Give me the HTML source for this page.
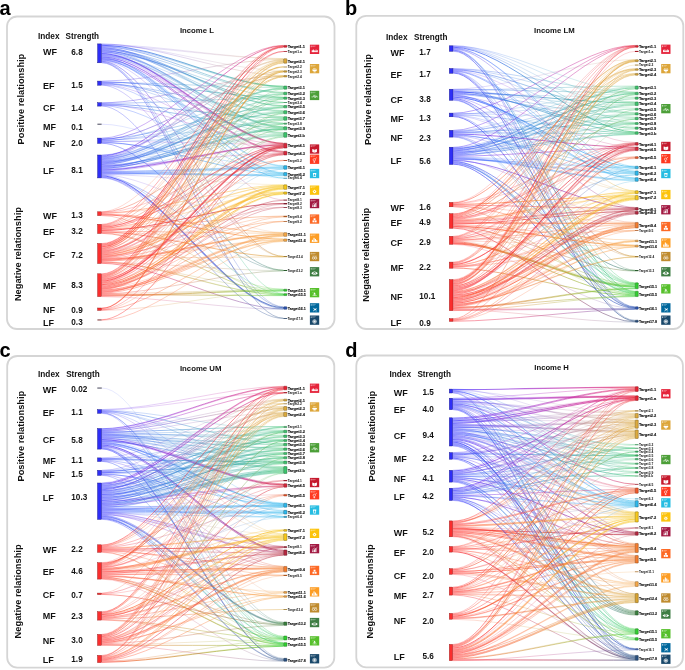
<!DOCTYPE html>
<html><head><meta charset="utf-8"><style>
html,body{margin:0;padding:0;background:#fff;}
svg{display:block;font-family:"Liberation Sans", sans-serif;will-change:transform;}
</style></head><body>
<svg width="685" height="670" viewBox="0 0 685 670">
<rect width="685" height="670" fill="#fff"/>
<rect x="7" y="16.5" width="327.5" height="312.5" rx="10" ry="10" fill="none" stroke="#d5d5d5" stroke-width="1.8"/><text x="-0.5" y="15.2" font-size="20" font-weight="bold" fill="#000">a</text><text x="179.9" y="32.6" font-size="7.7" font-weight="bold" fill="#111" textLength="34.1" lengthAdjust="spacingAndGlyphs">Income L</text><text x="37.9" y="39.2" font-size="8.8" font-weight="bold" fill="#111" textLength="21.6" lengthAdjust="spacingAndGlyphs">Index</text><text x="65.6" y="39.3" font-size="8.8" font-weight="bold" fill="#111" textLength="33.5" lengthAdjust="spacingAndGlyphs">Strength</text><text transform="translate(24 144.4) rotate(-90)" font-size="9.4" font-weight="bold" fill="#111" textLength="90.7" lengthAdjust="spacingAndGlyphs">Positive relationship</text><text transform="translate(21 301.1) rotate(-90)" font-size="9.4" font-weight="bold" fill="#111" textLength="94" lengthAdjust="spacingAndGlyphs">Negative relationship</text><defs><linearGradient id="gan1" gradientUnits="userSpaceOnUse" x1="101.6" y1="0" x2="283.4" y2="0"><stop offset="0" stop-color="#ff2c2c"/><stop offset="0.12" stop-color="#fd2b2d"/><stop offset="0.25" stop-color="#fa292d"/><stop offset="0.38" stop-color="#f7282e"/><stop offset="0.5" stop-color="#f5262e"/><stop offset="0.62" stop-color="#f2252f"/><stop offset="0.75" stop-color="#ef232f"/><stop offset="0.88" stop-color="#ed2230"/><stop offset="1" stop-color="#ea2030"/></linearGradient><linearGradient id="gan11" gradientUnits="userSpaceOnUse" x1="101.6" y1="0" x2="283.4" y2="0"><stop offset="0" stop-color="#ff2c2c"/><stop offset="0.12" stop-color="#fe4b31"/><stop offset="0.25" stop-color="#fd6035"/><stop offset="0.38" stop-color="#fc7038"/><stop offset="0.5" stop-color="#fb7e3c"/><stop offset="0.62" stop-color="#f98a3f"/><stop offset="0.75" stop-color="#f89542"/><stop offset="0.88" stop-color="#f79f45"/><stop offset="1" stop-color="#f6a848"/></linearGradient><linearGradient id="gan12" gradientUnits="userSpaceOnUse" x1="101.6" y1="0" x2="283.4" y2="0"><stop offset="0" stop-color="#ff2c2c"/><stop offset="0.12" stop-color="#fa492d"/><stop offset="0.25" stop-color="#f65d2d"/><stop offset="0.38" stop-color="#f16c2e"/><stop offset="0.5" stop-color="#ec7a2e"/><stop offset="0.62" stop-color="#e7852f"/><stop offset="0.75" stop-color="#e1902f"/><stop offset="0.88" stop-color="#dc9930"/><stop offset="1" stop-color="#d6a230"/></linearGradient><linearGradient id="gan13" gradientUnits="userSpaceOnUse" x1="101.6" y1="0" x2="283.4" y2="0"><stop offset="0" stop-color="#ff2c2c"/><stop offset="0.12" stop-color="#f13f2f"/><stop offset="0.25" stop-color="#e24c31"/><stop offset="0.38" stop-color="#d15834"/><stop offset="0.5" stop-color="#bf6136"/><stop offset="0.62" stop-color="#aa6a38"/><stop offset="0.75" stop-color="#91723a"/><stop offset="0.88" stop-color="#70793c"/><stop offset="1" stop-color="#3a803e"/></linearGradient><linearGradient id="gan15" gradientUnits="userSpaceOnUse" x1="101.6" y1="0" x2="283.4" y2="0"><stop offset="0" stop-color="#ff2c2c"/><stop offset="0.12" stop-color="#f1592d"/><stop offset="0.25" stop-color="#e2752d"/><stop offset="0.38" stop-color="#d18a2e"/><stop offset="0.5" stop-color="#be9b2e"/><stop offset="0.62" stop-color="#a8aa2f"/><stop offset="0.75" stop-color="#8eb82f"/><stop offset="0.88" stop-color="#6cc430"/><stop offset="1" stop-color="#30d030"/></linearGradient><linearGradient id="gan16" gradientUnits="userSpaceOnUse" x1="101.6" y1="0" x2="283.4" y2="0"><stop offset="0" stop-color="#ff2c2c"/><stop offset="0.12" stop-color="#f1334f"/><stop offset="0.25" stop-color="#e23a66"/><stop offset="0.38" stop-color="#d14078"/><stop offset="0.5" stop-color="#be4587"/><stop offset="0.62" stop-color="#a84a94"/><stop offset="0.75" stop-color="#8e4e9f"/><stop offset="0.88" stop-color="#6c52aa"/><stop offset="1" stop-color="#2e56b4"/></linearGradient><linearGradient id="gan2" gradientUnits="userSpaceOnUse" x1="101.6" y1="0" x2="283.4" y2="0"><stop offset="0" stop-color="#ff2c2c"/><stop offset="0.12" stop-color="#fb4c2e"/><stop offset="0.25" stop-color="#f76131"/><stop offset="0.38" stop-color="#f37133"/><stop offset="0.5" stop-color="#ee7f35"/><stop offset="0.62" stop-color="#ea8c37"/><stop offset="0.75" stop-color="#e59738"/><stop offset="0.88" stop-color="#e1a13a"/><stop offset="1" stop-color="#dcaa3c"/></linearGradient><linearGradient id="gan3" gradientUnits="userSpaceOnUse" x1="101.6" y1="0" x2="283.4" y2="0"><stop offset="0" stop-color="#ff2c2c"/><stop offset="0.12" stop-color="#f15539"/><stop offset="0.25" stop-color="#e26e43"/><stop offset="0.38" stop-color="#d2824c"/><stop offset="0.5" stop-color="#bf9253"/><stop offset="0.62" stop-color="#aaa15a"/><stop offset="0.75" stop-color="#91ad61"/><stop offset="0.88" stop-color="#71b967"/><stop offset="1" stop-color="#3cc46c"/></linearGradient><linearGradient id="gan4" gradientUnits="userSpaceOnUse" x1="101.6" y1="0" x2="283.4" y2="0"><stop offset="0" stop-color="#ff2c2c"/><stop offset="0.12" stop-color="#fb2c2e"/><stop offset="0.25" stop-color="#f62b31"/><stop offset="0.38" stop-color="#f12b33"/><stop offset="0.5" stop-color="#ed2a35"/><stop offset="0.62" stop-color="#e82a37"/><stop offset="0.75" stop-color="#e32938"/><stop offset="0.88" stop-color="#dd293a"/><stop offset="1" stop-color="#d8283c"/></linearGradient><linearGradient id="gan5" gradientUnits="userSpaceOnUse" x1="101.6" y1="0" x2="283.4" y2="0"><stop offset="0" stop-color="#ff2c2c"/><stop offset="0.12" stop-color="#fd342c"/><stop offset="0.25" stop-color="#fb3b2c"/><stop offset="0.38" stop-color="#fa412b"/><stop offset="0.5" stop-color="#f8462b"/><stop offset="0.62" stop-color="#f64b2b"/><stop offset="0.75" stop-color="#f4502b"/><stop offset="0.88" stop-color="#f2542a"/><stop offset="1" stop-color="#f0582a"/></linearGradient><linearGradient id="gan6" gradientUnits="userSpaceOnUse" x1="101.6" y1="0" x2="283.4" y2="0"><stop offset="0" stop-color="#ff2c2c"/><stop offset="0.12" stop-color="#f15164"/><stop offset="0.25" stop-color="#e16883"/><stop offset="0.38" stop-color="#d17a9c"/><stop offset="0.5" stop-color="#be8ab0"/><stop offset="0.62" stop-color="#a897c1"/><stop offset="0.75" stop-color="#8ea3d1"/><stop offset="0.88" stop-color="#6baedf"/><stop offset="1" stop-color="#2cb8ec"/></linearGradient><linearGradient id="gan7" gradientUnits="userSpaceOnUse" x1="101.6" y1="0" x2="283.4" y2="0"><stop offset="0" stop-color="#ff2c2c"/><stop offset="0.12" stop-color="#fe572a"/><stop offset="0.25" stop-color="#fd7029"/><stop offset="0.38" stop-color="#fc8427"/><stop offset="0.5" stop-color="#fb9525"/><stop offset="0.62" stop-color="#f9a423"/><stop offset="0.75" stop-color="#f8b121"/><stop offset="0.88" stop-color="#f7bd1e"/><stop offset="1" stop-color="#f6c81c"/></linearGradient><linearGradient id="gan8" gradientUnits="userSpaceOnUse" x1="101.6" y1="0" x2="283.4" y2="0"><stop offset="0" stop-color="#ff2c2c"/><stop offset="0.12" stop-color="#f72c2f"/><stop offset="0.25" stop-color="#ef2b32"/><stop offset="0.38" stop-color="#e72b35"/><stop offset="0.5" stop-color="#de2a37"/><stop offset="0.62" stop-color="#d42a39"/><stop offset="0.75" stop-color="#ca293c"/><stop offset="0.88" stop-color="#c0293e"/><stop offset="1" stop-color="#b42840"/></linearGradient><linearGradient id="gan9" gradientUnits="userSpaceOnUse" x1="101.6" y1="0" x2="283.4" y2="0"><stop offset="0" stop-color="#ff2c2c"/><stop offset="0.12" stop-color="#fe3d2c"/><stop offset="0.25" stop-color="#fc4a2c"/><stop offset="0.38" stop-color="#fb552c"/><stop offset="0.5" stop-color="#fa5f2c"/><stop offset="0.62" stop-color="#f8672c"/><stop offset="0.75" stop-color="#f76f2c"/><stop offset="0.88" stop-color="#f5752c"/><stop offset="1" stop-color="#f47c2c"/></linearGradient><linearGradient id="gap1" gradientUnits="userSpaceOnUse" x1="101.6" y1="0" x2="283.4" y2="0"><stop offset="0" stop-color="#3434ff"/><stop offset="0.12" stop-color="#6632f1"/><stop offset="0.25" stop-color="#8430e2"/><stop offset="0.38" stop-color="#9b2ed1"/><stop offset="0.5" stop-color="#af2bbe"/><stop offset="0.62" stop-color="#c029a8"/><stop offset="0.75" stop-color="#cf268e"/><stop offset="0.88" stop-color="#dd236c"/><stop offset="1" stop-color="#ea2030"/></linearGradient><linearGradient id="gap11" gradientUnits="userSpaceOnUse" x1="101.6" y1="0" x2="283.4" y2="0"><stop offset="0" stop-color="#3434ff"/><stop offset="0.12" stop-color="#6a4ff1"/><stop offset="0.25" stop-color="#8a63e3"/><stop offset="0.38" stop-color="#a372d3"/><stop offset="0.5" stop-color="#b87fc1"/><stop offset="0.62" stop-color="#ca8bad"/><stop offset="0.75" stop-color="#da9595"/><stop offset="0.88" stop-color="#e89f76"/><stop offset="1" stop-color="#f6a848"/></linearGradient><linearGradient id="gap12" gradientUnits="userSpaceOnUse" x1="101.6" y1="0" x2="283.4" y2="0"><stop offset="0" stop-color="#3434ff"/><stop offset="0.12" stop-color="#5f4ef1"/><stop offset="0.25" stop-color="#7a60e2"/><stop offset="0.38" stop-color="#8f6ed1"/><stop offset="0.5" stop-color="#a07bbe"/><stop offset="0.62" stop-color="#b086a8"/><stop offset="0.75" stop-color="#be908e"/><stop offset="0.88" stop-color="#ca996c"/><stop offset="1" stop-color="#d6a230"/></linearGradient><linearGradient id="gap13" gradientUnits="userSpaceOnUse" x1="101.6" y1="0" x2="283.4" y2="0"><stop offset="0" stop-color="#3434ff"/><stop offset="0.12" stop-color="#3544f1"/><stop offset="0.25" stop-color="#3650e2"/><stop offset="0.38" stop-color="#365ad2"/><stop offset="0.5" stop-color="#3763c0"/><stop offset="0.62" stop-color="#386bab"/><stop offset="0.75" stop-color="#397392"/><stop offset="0.88" stop-color="#397a72"/><stop offset="1" stop-color="#3a803e"/></linearGradient><linearGradient id="gap15" gradientUnits="userSpaceOnUse" x1="101.6" y1="0" x2="283.4" y2="0"><stop offset="0" stop-color="#3434ff"/><stop offset="0.12" stop-color="#345df1"/><stop offset="0.25" stop-color="#3377e2"/><stop offset="0.38" stop-color="#338bd1"/><stop offset="0.5" stop-color="#329cbe"/><stop offset="0.62" stop-color="#32aba8"/><stop offset="0.75" stop-color="#31b88e"/><stop offset="0.88" stop-color="#31c56c"/><stop offset="1" stop-color="#30d030"/></linearGradient><linearGradient id="gap16" gradientUnits="userSpaceOnUse" x1="101.6" y1="0" x2="283.4" y2="0"><stop offset="0" stop-color="#3434ff"/><stop offset="0.12" stop-color="#333af7"/><stop offset="0.25" stop-color="#333fef"/><stop offset="0.38" stop-color="#3243e7"/><stop offset="0.5" stop-color="#3147de"/><stop offset="0.62" stop-color="#304bd4"/><stop offset="0.75" stop-color="#304fca"/><stop offset="0.88" stop-color="#2f53c0"/><stop offset="1" stop-color="#2e56b4"/></linearGradient><linearGradient id="gap17" gradientUnits="userSpaceOnUse" x1="101.6" y1="0" x2="283.4" y2="0"><stop offset="0" stop-color="#3434ff"/><stop offset="0.12" stop-color="#3338f4"/><stop offset="0.25" stop-color="#323ce8"/><stop offset="0.38" stop-color="#3140db"/><stop offset="0.5" stop-color="#2f44cd"/><stop offset="0.62" stop-color="#2e47bd"/><stop offset="0.75" stop-color="#2d4aac"/><stop offset="0.88" stop-color="#2b4d98"/><stop offset="1" stop-color="#2a5080"/></linearGradient><linearGradient id="gap2" gradientUnits="userSpaceOnUse" x1="101.6" y1="0" x2="283.4" y2="0"><stop offset="0" stop-color="#3434ff"/><stop offset="0.12" stop-color="#6150f1"/><stop offset="0.25" stop-color="#7d64e2"/><stop offset="0.38" stop-color="#9373d2"/><stop offset="0.5" stop-color="#a581bf"/><stop offset="0.62" stop-color="#b58caa"/><stop offset="0.75" stop-color="#c39791"/><stop offset="0.88" stop-color="#d0a171"/><stop offset="1" stop-color="#dcaa3c"/></linearGradient><linearGradient id="gap3" gradientUnits="userSpaceOnUse" x1="101.6" y1="0" x2="283.4" y2="0"><stop offset="0" stop-color="#3434ff"/><stop offset="0.12" stop-color="#3559f3"/><stop offset="0.25" stop-color="#3671e6"/><stop offset="0.38" stop-color="#3783d7"/><stop offset="0.5" stop-color="#3893c8"/><stop offset="0.62" stop-color="#39a1b6"/><stop offset="0.75" stop-color="#3aaea2"/><stop offset="0.88" stop-color="#3bb98b"/><stop offset="1" stop-color="#3cc46c"/></linearGradient><linearGradient id="gap4" gradientUnits="userSpaceOnUse" x1="101.6" y1="0" x2="283.4" y2="0"><stop offset="0" stop-color="#3434ff"/><stop offset="0.12" stop-color="#6033f1"/><stop offset="0.25" stop-color="#7b31e2"/><stop offset="0.38" stop-color="#9030d2"/><stop offset="0.5" stop-color="#a22ebf"/><stop offset="0.62" stop-color="#b12daa"/><stop offset="0.75" stop-color="#bf2b91"/><stop offset="0.88" stop-color="#cc2a71"/><stop offset="1" stop-color="#d8283c"/></linearGradient><linearGradient id="gap6" gradientUnits="userSpaceOnUse" x1="101.6" y1="0" x2="283.4" y2="0"><stop offset="0" stop-color="#3434ff"/><stop offset="0.12" stop-color="#3355fd"/><stop offset="0.25" stop-color="#326bfa"/><stop offset="0.38" stop-color="#317cf8"/><stop offset="0.5" stop-color="#308bf6"/><stop offset="0.62" stop-color="#2f98f3"/><stop offset="0.75" stop-color="#2ea3f1"/><stop offset="0.88" stop-color="#2daeee"/><stop offset="1" stop-color="#2cb8ec"/></linearGradient><linearGradient id="gap7" gradientUnits="userSpaceOnUse" x1="101.6" y1="0" x2="283.4" y2="0"><stop offset="0" stop-color="#3434ff"/><stop offset="0.12" stop-color="#6a5af1"/><stop offset="0.25" stop-color="#8a73e1"/><stop offset="0.38" stop-color="#a386d0"/><stop offset="0.5" stop-color="#b896bc"/><stop offset="0.62" stop-color="#caa5a6"/><stop offset="0.75" stop-color="#dab18b"/><stop offset="0.88" stop-color="#e8bd67"/><stop offset="1" stop-color="#f6c81c"/></linearGradient><linearGradient id="gap8" gradientUnits="userSpaceOnUse" x1="101.6" y1="0" x2="283.4" y2="0"><stop offset="0" stop-color="#3434ff"/><stop offset="0.12" stop-color="#5333f1"/><stop offset="0.25" stop-color="#6931e2"/><stop offset="0.38" stop-color="#7930d2"/><stop offset="0.5" stop-color="#882ec0"/><stop offset="0.62" stop-color="#942dab"/><stop offset="0.75" stop-color="#a02b92"/><stop offset="0.88" stop-color="#aa2a73"/><stop offset="1" stop-color="#b42840"/></linearGradient></defs><g fill="none" stroke-opacity="0.7"><path d="M101.6 53.59C156.14 53.59 228.86 143.39 283.4 143.39" stroke="url(#gap4)" stroke-width="1.21"/><path d="M101.6 56.79C156.14 56.79 228.86 151.41 283.4 151.41" stroke="url(#gap4)" stroke-width="0.8"/><path d="M101.6 176C156.14 176 228.86 307.71 283.4 307.71" stroke="url(#gap16)" stroke-width="1.08"/><path d="M101.6 244.26C156.14 244.26 228.86 46.96 283.4 46.96" stroke="url(#gan1)" stroke-width="0.73"/><path d="M101.6 296.05C156.14 296.05 228.86 290.79 283.4 290.79" stroke="url(#gan15)" stroke-width="0.76"/><path d="M101.6 45.8C156.14 45.8 228.86 58.81 283.4 58.81" stroke="url(#gap2)" stroke-width="0.3"/><path d="M101.6 44.55C156.14 44.55 228.86 58.59 283.4 58.59" stroke="url(#gap2)" stroke-width="0.3"/><path d="M101.6 44.32C156.14 44.32 228.86 70.58 283.4 70.58" stroke="url(#gap2)" stroke-width="0.3"/><path d="M101.6 43.93C156.14 43.93 228.86 75.46 283.4 75.46" stroke="url(#gap2)" stroke-width="0.44"/><path d="M101.6 45.17C156.14 45.17 228.86 86.33 283.4 86.33" stroke="url(#gap3)" stroke-width="1.01"/><path d="M101.6 46.14C156.14 46.14 228.86 87.1 283.4 87.1" stroke="url(#gap3)" stroke-width="0.47"/><path d="M101.6 49.44C156.14 49.44 228.86 93.04 283.4 93.04" stroke="url(#gap3)" stroke-width="0.45"/><path d="M101.6 46.72C156.14 46.72 228.86 92.38 283.4 92.38" stroke="url(#gap3)" stroke-width="0.63"/><path d="M101.6 52.32C156.14 52.32 228.86 97.03 283.4 97.03" stroke="url(#gap3)" stroke-width="0.45"/><path d="M101.6 50.95C156.14 50.95 228.86 102.38 283.4 102.38" stroke="url(#gap3)" stroke-width="0.79"/><path d="M101.6 48.99C156.14 48.99 228.86 106.26 283.4 106.26" stroke="url(#gap3)" stroke-width="0.41"/><path d="M101.6 47.93C156.14 47.93 228.86 105.67 283.4 105.67" stroke="url(#gap3)" stroke-width="0.73"/><path d="M101.6 50.32C156.14 50.32 228.86 110.63 283.4 110.63" stroke="url(#gap3)" stroke-width="0.41"/><path d="M101.6 54.4C156.14 54.4 228.86 111.06 283.4 111.06" stroke="url(#gap3)" stroke-width="0.33"/><path d="M101.6 48.54C156.14 48.54 228.86 117.29 283.4 117.29" stroke="url(#gap3)" stroke-width="0.44"/><path d="M101.6 47.3C156.14 47.3 228.86 116.7 283.4 116.7" stroke="url(#gap3)" stroke-width="0.46"/><path d="M101.6 55.44C156.14 55.44 228.86 123.04 283.4 123.04" stroke="url(#gap3)" stroke-width="0.35"/><path d="M101.6 54.78C156.14 54.78 228.86 127.57 283.4 127.57" stroke="url(#gap3)" stroke-width="0.41"/><path d="M101.6 51.72C156.14 51.72 228.86 126.79 283.4 126.79" stroke="url(#gap3)" stroke-width="0.68"/><path d="M101.6 52.76C156.14 52.76 228.86 127.24 283.4 127.24" stroke="url(#gap3)" stroke-width="0.37"/><path d="M101.6 49.89C156.14 49.89 228.86 132.6 283.4 132.6" stroke="url(#gap3)" stroke-width="0.41"/><path d="M101.6 55.13C156.14 55.13 228.86 133.09 283.4 133.09" stroke="url(#gap3)" stroke-width="0.3"/><path d="M101.6 56.18C156.14 56.18 228.86 133.53 283.4 133.53" stroke="url(#gap3)" stroke-width="0.34"/><path d="M101.6 55.81C156.14 55.81 228.86 143.9 283.4 143.9" stroke="url(#gap4)" stroke-width="0.36"/><path d="M101.6 57.32C156.14 57.32 228.86 144.09 283.4 144.09" stroke="url(#gap4)" stroke-width="0.3"/><path d="M101.6 58.6C156.14 58.6 228.86 152.19 283.4 152.19" stroke="url(#gap4)" stroke-width="0.72"/><path d="M101.6 58.12C156.14 58.12 228.86 165.54 283.4 165.54" stroke="url(#gap6)" stroke-width="0.3"/><path d="M101.6 59.1C156.14 59.1 228.86 165.84 283.4 165.84" stroke="url(#gap6)" stroke-width="0.3"/><path d="M101.6 60.48C156.14 60.48 228.86 166.23 283.4 166.23" stroke="url(#gap6)" stroke-width="0.34"/><path d="M101.6 59.44C156.14 59.44 228.86 173.13 283.4 173.13" stroke="url(#gap6)" stroke-width="0.4"/><path d="M101.6 57.72C156.14 57.72 228.86 172.61 283.4 172.61" stroke="url(#gap6)" stroke-width="0.55"/><path d="M101.6 59.98C156.14 59.98 228.86 178 283.4 178" stroke="url(#gap6)" stroke-width="0.62"/><path d="M101.6 60.8C156.14 60.8 228.86 199.77 283.4 199.77" stroke="url(#gap8)" stroke-width="0.3"/><path d="M101.6 61.3C156.14 61.3 228.86 256.29 283.4 256.29" stroke="url(#gap12)" stroke-width="0.7"/><path d="M101.6 61.88C156.14 61.88 228.86 293.57 283.4 293.57" stroke="url(#gap15)" stroke-width="0.4"/><path d="M101.6 62.28C156.14 62.28 228.86 306.77 283.4 306.77" stroke="url(#gap16)" stroke-width="0.35"/><path d="M101.6 62.73C156.14 62.73 228.86 318.16 283.4 318.16" stroke="url(#gap17)" stroke-width="0.51"/><path d="M101.6 81.17C156.14 81.17 228.86 59.14 283.4 59.14" stroke="url(#gap2)" stroke-width="0.51"/><path d="M101.6 82.48C156.14 82.48 228.86 87.51 283.4 87.51" stroke="url(#gap3)" stroke-width="0.44"/><path d="M101.6 81.84C156.14 81.84 228.86 97.54 283.4 97.54" stroke="url(#gap3)" stroke-width="0.77"/><path d="M101.6 83.95C156.14 83.95 228.86 111.44 283.4 111.44" stroke="url(#gap3)" stroke-width="0.48"/><path d="M101.6 83C156.14 83 228.86 123.33 283.4 123.33" stroke="url(#gap3)" stroke-width="0.56"/><path d="M101.6 83.5C156.14 83.5 228.86 133.99 283.4 133.99" stroke="url(#gap3)" stroke-width="0.38"/><path d="M101.6 84.38C156.14 84.38 228.86 152.68 283.4 152.68" stroke="url(#gap4)" stroke-width="0.34"/><path d="M101.6 84.76C156.14 84.76 228.86 173.5 283.4 173.5" stroke="url(#gap6)" stroke-width="0.38"/><path d="M101.6 85.18C156.14 85.18 228.86 256.55 283.4 256.55" stroke="url(#gap12)" stroke-width="0.41"/><path d="M101.6 102.82C156.14 102.82 228.86 75.77 283.4 75.77" stroke="url(#gap2)" stroke-width="0.61"/><path d="M101.6 103.4C156.14 103.4 228.86 97.98 283.4 97.98" stroke="url(#gap3)" stroke-width="0.49"/><path d="M101.6 104.02C156.14 104.02 228.86 117.87 283.4 117.87" stroke="url(#gap3)" stroke-width="0.7"/><path d="M101.6 105.07C156.14 105.07 228.86 127.92 283.4 127.92" stroke="url(#gap3)" stroke-width="0.63"/><path d="M101.6 104.56C156.14 104.56 228.86 144.22 283.4 144.22" stroke="url(#gap4)" stroke-width="0.34"/><path d="M101.6 105.62C156.14 105.62 228.86 173.8 283.4 173.8" stroke="url(#gap6)" stroke-width="0.42"/><path d="M101.6 106.07C156.14 106.07 228.86 307.08 283.4 307.08" stroke="url(#gap16)" stroke-width="0.43"/><path d="M101.6 124.2C156.14 124.2 228.86 178.3 283.4 178.3" stroke="url(#gap6)" stroke-width="0.57" stroke-opacity="0.25"/><path d="M101.6 138.19C156.14 138.19 228.86 45.36 283.4 45.36" stroke="url(#gap1)" stroke-width="0.54"/><path d="M101.6 139.47C156.14 139.47 228.86 76.15 283.4 76.15" stroke="url(#gap2)" stroke-width="0.84"/><path d="M101.6 140.92C156.14 140.92 228.86 93.49 283.4 93.49" stroke="url(#gap3)" stroke-width="0.38"/><path d="M101.6 138.75C156.14 138.75 228.86 106.68 283.4 106.68" stroke="url(#gap3)" stroke-width="0.53"/><path d="M101.6 140.53C156.14 140.53 228.86 111.79 283.4 111.79" stroke="url(#gap3)" stroke-width="0.36"/><path d="M101.6 140.13C156.14 140.13 228.86 123.62 283.4 123.62" stroke="url(#gap3)" stroke-width="0.41"/><path d="M101.6 141.67C156.14 141.67 228.86 134.42 283.4 134.42" stroke="url(#gap3)" stroke-width="0.4"/><path d="M101.6 141.29C156.14 141.29 228.86 144.37 283.4 144.37" stroke="url(#gap4)" stroke-width="0.31"/><path d="M101.6 142.79C156.14 142.79 228.86 166.65 283.4 166.65" stroke="url(#gap6)" stroke-width="0.35"/><path d="M101.6 142.24C156.14 142.24 228.86 174.25 283.4 174.25" stroke="url(#gap6)" stroke-width="0.69"/><path d="M101.6 143.29C156.14 143.29 228.86 270.16 283.4 270.16" stroke="url(#gap13)" stroke-width="0.59"/><path d="M101.6 155.97C156.14 155.97 228.86 45.81 283.4 45.81" stroke="url(#gap1)" stroke-width="0.84"/><path d="M101.6 156.71C156.14 156.71 228.86 59.68 283.4 59.68" stroke="url(#gap2)" stroke-width="0.55"/><path d="M101.6 157.87C156.14 157.87 228.86 60.25 283.4 60.25" stroke="url(#gap2)" stroke-width="0.46"/><path d="M101.6 155.17C156.14 155.17 228.86 70.85 283.4 70.85" stroke="url(#gap2)" stroke-width="0.7"/><path d="M101.6 157.31C156.14 157.31 228.86 87.97 283.4 87.97" stroke="url(#gap3)" stroke-width="0.6"/><path d="M101.6 159.57C156.14 159.57 228.86 88.85 283.4 88.85" stroke="url(#gap3)" stroke-width="0.5"/><path d="M101.6 158.29C156.14 158.29 228.86 88.43 283.4 88.43" stroke="url(#gap3)" stroke-width="0.36"/><path d="M101.6 159.11C156.14 159.11 228.86 94.35 283.4 94.35" stroke="url(#gap3)" stroke-width="0.38"/><path d="M101.6 158.7C156.14 158.7 228.86 93.9 283.4 93.9" stroke="url(#gap3)" stroke-width="0.41"/><path d="M101.6 163.37C156.14 163.37 228.86 98.65 283.4 98.65" stroke="url(#gap3)" stroke-width="0.3"/><path d="M101.6 160.37C156.14 160.37 228.86 98.33 283.4 98.33" stroke="url(#gap3)" stroke-width="0.39"/><path d="M101.6 162.91C156.14 162.91 228.86 102.68 283.4 102.68" stroke="url(#gap3)" stroke-width="0.59"/><path d="M101.6 163.81C156.14 163.81 228.86 107.15 283.4 107.15" stroke="url(#gap3)" stroke-width="0.55"/><path d="M101.6 164.47C156.14 164.47 228.86 107.76 283.4 107.76" stroke="url(#gap3)" stroke-width="0.72"/><path d="M101.6 161.23C156.14 161.23 228.86 112.51 283.4 112.51" stroke="url(#gap3)" stroke-width="0.44"/><path d="M101.6 160C156.14 160 228.86 112.11 283.4 112.11" stroke="url(#gap3)" stroke-width="0.31"/><path d="M101.6 161.95C156.14 161.95 228.86 112.94 283.4 112.94" stroke="url(#gap3)" stroke-width="0.37"/><path d="M101.6 167.39C156.14 167.39 228.86 119.52 283.4 119.52" stroke="url(#gap3)" stroke-width="0.55"/><path d="M101.6 166.89C156.14 166.89 228.86 118.94 283.4 118.94" stroke="url(#gap3)" stroke-width="0.4"/><path d="M101.6 162.38C156.14 162.38 228.86 118.43 283.4 118.43" stroke="url(#gap3)" stroke-width="0.43"/><path d="M101.6 168.77C156.14 168.77 228.86 123.88 283.4 123.88" stroke="url(#gap3)" stroke-width="0.36"/><path d="M101.6 168.13C156.14 168.13 228.86 129.39 283.4 129.39" stroke="url(#gap3)" stroke-width="0.85"/><path d="M101.6 160.79C156.14 160.79 228.86 128.25 283.4 128.25" stroke="url(#gap3)" stroke-width="0.4"/><path d="M101.6 166.24C156.14 166.24 228.86 128.73 283.4 128.73" stroke="url(#gap3)" stroke-width="0.82"/><path d="M101.6 170.57C156.14 170.57 228.86 136.07 283.4 136.07" stroke="url(#gap3)" stroke-width="0.38"/><path d="M101.6 161.61C156.14 161.61 228.86 134.85 283.4 134.85" stroke="url(#gap3)" stroke-width="0.3"/><path d="M101.6 165.14C156.14 165.14 228.86 135.42 283.4 135.42" stroke="url(#gap3)" stroke-width="0.55"/><path d="M101.6 170.99C156.14 170.99 228.86 145.39 283.4 145.39" stroke="url(#gap4)" stroke-width="0.41"/><path d="M101.6 169.21C156.14 169.21 228.86 144.6 283.4 144.6" stroke="url(#gap4)" stroke-width="0.47"/><path d="M101.6 169.92C156.14 169.92 228.86 145 283.4 145" stroke="url(#gap4)" stroke-width="0.87"/><path d="M101.6 165.62C156.14 165.62 228.86 152.98 283.4 152.98" stroke="url(#gap4)" stroke-width="0.36"/><path d="M101.6 171.39C156.14 171.39 228.86 167.06 283.4 167.06" stroke="url(#gap6)" stroke-width="0.36"/><path d="M101.6 174.18C156.14 174.18 228.86 168.5 283.4 168.5" stroke="url(#gap6)" stroke-width="0.45"/><path d="M101.6 171.69C156.14 171.69 228.86 167.41 283.4 167.41" stroke="url(#gap6)" stroke-width="0.3"/><path d="M101.6 172.56C156.14 172.56 228.86 167.87 283.4 167.87" stroke="url(#gap6)" stroke-width="0.54"/><path d="M101.6 173.65C156.14 173.65 228.86 175.81 283.4 175.81" stroke="url(#gap6)" stroke-width="0.56"/><path d="M101.6 172.03C156.14 172.03 228.86 174.79 283.4 174.79" stroke="url(#gap6)" stroke-width="0.46"/><path d="M101.6 173.1C156.14 173.1 228.86 175.28 283.4 175.28" stroke="url(#gap6)" stroke-width="0.49"/><path d="M101.6 174.57C156.14 174.57 228.86 184.72 283.4 184.72" stroke="url(#gap7)" stroke-width="0.3"/><path d="M101.6 174.86C156.14 174.86 228.86 232.51 283.4 232.51" stroke="url(#gap11)" stroke-width="0.3"/><path d="M101.6 176.81C156.14 176.81 228.86 270.47 283.4 270.47" stroke="url(#gap13)" stroke-width="0.46"/><path d="M101.6 175.22C156.14 175.22 228.86 293.88 283.4 293.88" stroke="url(#gap15)" stroke-width="0.4"/><path d="M101.6 177.33C156.14 177.33 228.86 308.43 283.4 308.43" stroke="url(#gap16)" stroke-width="0.51"/><path d="M101.6 177.85C156.14 177.85 228.86 318.46 283.4 318.46" stroke="url(#gap17)" stroke-width="0.48"/><path d="M101.6 211.72C156.14 211.72 228.86 60.62 283.4 60.62" stroke="url(#gan2)" stroke-width="0.3"/><path d="M101.6 212.16C156.14 212.16 228.86 120.18 283.4 120.18" stroke="url(#gan3)" stroke-width="0.61"/><path d="M101.6 212.66C156.14 212.66 228.86 153.29 283.4 153.29" stroke="url(#gan4)" stroke-width="0.34"/><path d="M101.6 213.14C156.14 213.14 228.86 185.06 283.4 185.06" stroke="url(#gan7)" stroke-width="0.58"/><path d="M101.6 213.59C156.14 213.59 228.86 191.8 283.4 191.8" stroke="url(#gan7)" stroke-width="0.3"/><path d="M101.6 214.07C156.14 214.07 228.86 232.86 283.4 232.86" stroke="url(#gan11)" stroke-width="0.65"/><path d="M101.6 214.9C156.14 214.9 228.86 239.06 283.4 239.06" stroke="url(#gan11)" stroke-width="0.93"/><path d="M101.6 215.6C156.14 215.6 228.86 294.17 283.4 294.17" stroke="url(#gan15)" stroke-width="0.39"/><path d="M101.6 224.37C156.14 224.37 228.86 46.25 283.4 46.25" stroke="url(#gan1)" stroke-width="0.51"/><path d="M101.6 225.2C156.14 225.2 228.86 60.87 283.4 60.87" stroke="url(#gan2)" stroke-width="0.3"/><path d="M101.6 224.84C156.14 224.84 228.86 71.12 283.4 71.12" stroke="url(#gan2)" stroke-width="0.38"/><path d="M101.6 225.6C156.14 225.6 228.86 98.97 283.4 98.97" stroke="url(#gan3)" stroke-width="0.47"/><path d="M101.6 226.14C156.14 226.14 228.86 129.92 283.4 129.92" stroke="url(#gan3)" stroke-width="0.56"/><path d="M101.6 227.29C156.14 227.29 228.86 145.71 283.4 145.71" stroke="url(#gan4)" stroke-width="0.75"/><path d="M101.6 228.51C156.14 228.51 228.86 153.66 283.4 153.66" stroke="url(#gan4)" stroke-width="0.59"/><path d="M101.6 226.66C156.14 226.66 228.86 160.18 283.4 160.18" stroke="url(#gan5)" stroke-width="0.44"/><path d="M101.6 228.93C156.14 228.93 228.86 185.7 283.4 185.7" stroke="url(#gan7)" stroke-width="0.3"/><path d="M101.6 227.94C156.14 227.94 228.86 185.45 283.4 185.45" stroke="url(#gan7)" stroke-width="0.49"/><path d="M101.6 229.82C156.14 229.82 228.86 192.04 283.4 192.04" stroke="url(#gan7)" stroke-width="0.41"/><path d="M101.6 230.53C156.14 230.53 228.86 203.45 283.4 203.45" stroke="url(#gan8)" stroke-width="0.95"/><path d="M101.6 229.32C156.14 229.32 228.86 216.08 283.4 216.08" stroke="url(#gan9)" stroke-width="0.54"/><path d="M101.6 231.29C156.14 231.29 228.86 233.27 283.4 233.27" stroke="url(#gan11)" stroke-width="0.49"/><path d="M101.6 232.5C156.14 232.5 228.86 239.51 283.4 239.51" stroke="url(#gan11)" stroke-width="0.3"/><path d="M101.6 231.96C156.14 231.96 228.86 256.78 283.4 256.78" stroke="url(#gan12)" stroke-width="0.78"/><path d="M101.6 232.81C156.14 232.81 228.86 289.16 283.4 289.16" stroke="url(#gan15)" stroke-width="0.36"/><path d="M101.6 233.35C156.14 233.35 228.86 294.5 283.4 294.5" stroke="url(#gan15)" stroke-width="0.66"/><path d="M101.6 243.59C156.14 243.59 228.86 46.56 283.4 46.56" stroke="url(#gan1)" stroke-width="0.54"/><path d="M101.6 245.78C156.14 245.78 228.86 51.42 283.4 51.42" stroke="url(#gan1)" stroke-width="0.67"/><path d="M101.6 245.03C156.14 245.03 228.86 61.39 283.4 61.39" stroke="url(#gan2)" stroke-width="0.74"/><path d="M101.6 247.53C156.14 247.53 228.86 61.93 283.4 61.93" stroke="url(#gan2)" stroke-width="0.34"/><path d="M101.6 246.74C156.14 246.74 228.86 66.9 283.4 66.9" stroke="url(#gan2)" stroke-width="1.15"/><path d="M101.6 248.78C156.14 248.78 228.86 71.34 283.4 71.34" stroke="url(#gan2)" stroke-width="0.56"/><path d="M101.6 248.1C156.14 248.1 228.86 76.61 283.4 76.61" stroke="url(#gan2)" stroke-width="0.75"/><path d="M101.6 249.81C156.14 249.81 228.86 94.78 283.4 94.78" stroke="url(#gan3)" stroke-width="0.44"/><path d="M101.6 249.33C156.14 249.33 228.86 113.36 283.4 113.36" stroke="url(#gan3)" stroke-width="0.48"/><path d="M101.6 251.44C156.14 251.44 228.86 124.12 283.4 124.12" stroke="url(#gan3)" stroke-width="0.34"/><path d="M101.6 252.18C156.14 252.18 228.86 136.68 283.4 136.68" stroke="url(#gan3)" stroke-width="0.57"/><path d="M101.6 251.01C156.14 251.01 228.86 146.38 283.4 146.38" stroke="url(#gan4)" stroke-width="0.48"/><path d="M101.6 250.23C156.14 250.23 228.86 145.99 283.4 145.99" stroke="url(#gan4)" stroke-width="0.35"/><path d="M101.6 250.58C156.14 250.58 228.86 146.17 283.4 146.17" stroke="url(#gan4)" stroke-width="0.33"/><path d="M101.6 253.08C156.14 253.08 228.86 154.04 283.4 154.04" stroke="url(#gan4)" stroke-width="0.35"/><path d="M101.6 253.99C156.14 253.99 228.86 154.36 283.4 154.36" stroke="url(#gan4)" stroke-width="0.41"/><path d="M101.6 251.75C156.14 251.75 228.86 168.92 283.4 168.92" stroke="url(#gan6)" stroke-width="0.3"/><path d="M101.6 253.52C156.14 253.52 228.86 186.26 283.4 186.26" stroke="url(#gan7)" stroke-width="0.48"/><path d="M101.6 254.88C156.14 254.88 228.86 186.68 283.4 186.68" stroke="url(#gan7)" stroke-width="0.65"/><path d="M101.6 252.69C156.14 252.69 228.86 185.92 283.4 185.92" stroke="url(#gan7)" stroke-width="0.4"/><path d="M101.6 255.43C156.14 255.43 228.86 187.08 283.4 187.08" stroke="url(#gan7)" stroke-width="0.41"/><path d="M101.6 256.98C156.14 256.98 228.86 193.1 283.4 193.1" stroke="url(#gan7)" stroke-width="0.63"/><path d="M101.6 256.34C156.14 256.34 228.86 192.64 283.4 192.64" stroke="url(#gan7)" stroke-width="0.6"/><path d="M101.6 254.37C156.14 254.37 228.86 192.3 283.4 192.3" stroke="url(#gan7)" stroke-width="0.32"/><path d="M101.6 257.82C156.14 257.82 228.86 204.01 283.4 204.01" stroke="url(#gan8)" stroke-width="0.3"/><path d="M101.6 257.51C156.14 257.51 228.86 207.14 283.4 207.14" stroke="url(#gan8)" stroke-width="0.38"/><path d="M101.6 255.84C156.14 255.84 228.86 216.57 283.4 216.57" stroke="url(#gan9)" stroke-width="0.36"/><path d="M101.6 258.58C156.14 258.58 228.86 221.25 283.4 221.25" stroke="url(#gan9)" stroke-width="0.48"/><path d="M101.6 260.89C156.14 260.89 228.86 234.68 283.4 234.68" stroke="url(#gan11)" stroke-width="0.31"/><path d="M101.6 260.31C156.14 260.31 228.86 234.27 283.4 234.27" stroke="url(#gan11)" stroke-width="0.79"/><path d="M101.6 259.52C156.14 259.52 228.86 233.71 283.4 233.71" stroke="url(#gan11)" stroke-width="0.72"/><path d="M101.6 261.3C156.14 261.3 228.86 240.02 283.4 240.02" stroke="url(#gan11)" stroke-width="0.46"/><path d="M101.6 258.99C156.14 258.99 228.86 239.71 283.4 239.71" stroke="url(#gan11)" stroke-width="0.3"/><path d="M101.6 258.13C156.14 258.13 228.86 257.02 283.4 257.02" stroke="url(#gan12)" stroke-width="0.38"/><path d="M101.6 262.46C156.14 262.46 228.86 270.69 283.4 270.69" stroke="url(#gan13)" stroke-width="0.3"/><path d="M101.6 262.77C156.14 262.77 228.86 289.47 283.4 289.47" stroke="url(#gan15)" stroke-width="0.33"/><path d="M101.6 262.07C156.14 262.07 228.86 295.06 283.4 295.06" stroke="url(#gan15)" stroke-width="0.49"/><path d="M101.6 261.68C156.14 261.68 228.86 294.8 283.4 294.8" stroke="url(#gan15)" stroke-width="0.3"/><path d="M101.6 263.32C156.14 263.32 228.86 308.95 283.4 308.95" stroke="url(#gan16)" stroke-width="0.72"/><path d="M101.6 273.88C156.14 273.88 228.86 47.34 283.4 47.34" stroke="url(#gan1)" stroke-width="0.54"/><path d="M101.6 274.3C156.14 274.3 228.86 51.72 283.4 51.72" stroke="url(#gan1)" stroke-width="0.3"/><path d="M101.6 275.44C156.14 275.44 228.86 62.69 283.4 62.69" stroke="url(#gan2)" stroke-width="0.46"/><path d="M101.6 274.63C156.14 274.63 228.86 62.28 283.4 62.28" stroke="url(#gan2)" stroke-width="0.37"/><path d="M101.6 276.43C156.14 276.43 228.86 63.16 283.4 63.16" stroke="url(#gan2)" stroke-width="0.5"/><path d="M101.6 275.92C156.14 275.92 228.86 71.58 283.4 71.58" stroke="url(#gan2)" stroke-width="0.46"/><path d="M101.6 277.02C156.14 277.02 228.86 77.02 283.4 77.02" stroke="url(#gan2)" stroke-width="0.62"/><path d="M101.6 275.01C156.14 275.01 228.86 89.25 283.4 89.25" stroke="url(#gan3)" stroke-width="0.36"/><path d="M101.6 278.05C156.14 278.05 228.86 99.33 283.4 99.33" stroke="url(#gan3)" stroke-width="0.43"/><path d="M101.6 277.59C156.14 277.59 228.86 113.79 283.4 113.79" stroke="url(#gan3)" stroke-width="0.46"/><path d="M101.6 278.42C156.14 278.42 228.86 124.32 283.4 124.32" stroke="url(#gan3)" stroke-width="0.3"/><path d="M101.6 279.78C156.14 279.78 228.86 137.26 283.4 137.26" stroke="url(#gan3)" stroke-width="0.4"/><path d="M101.6 281.05C156.14 281.05 228.86 147.11 283.4 147.11" stroke="url(#gan4)" stroke-width="1.02"/><path d="M101.6 279.23C156.14 279.23 228.86 146.68 283.4 146.68" stroke="url(#gan4)" stroke-width="0.65"/><path d="M101.6 281.84C156.14 281.84 228.86 147.5 283.4 147.5" stroke="url(#gan4)" stroke-width="0.48"/><path d="M101.6 278.72C156.14 278.72 228.86 154.67 283.4 154.67" stroke="url(#gan4)" stroke-width="0.32"/><path d="M101.6 280.26C156.14 280.26 228.86 155 283.4 155" stroke="url(#gan4)" stroke-width="0.5"/><path d="M101.6 282.42C156.14 282.42 228.86 160.63 283.4 160.63" stroke="url(#gan5)" stroke-width="0.62"/><path d="M101.6 283.97C156.14 283.97 228.86 169.28 283.4 169.28" stroke="url(#gan6)" stroke-width="0.42"/><path d="M101.6 283.49C156.14 283.49 228.86 187.75 283.4 187.75" stroke="url(#gan7)" stroke-width="0.5"/><path d="M101.6 288.54C156.14 288.54 228.86 189.07 283.4 189.07" stroke="url(#gan7)" stroke-width="0.56"/><path d="M101.6 287.26C156.14 287.26 228.86 188.65 283.4 188.65" stroke="url(#gan7)" stroke-width="0.6"/><path d="M101.6 282.99C156.14 282.99 228.86 187.4 283.4 187.4" stroke="url(#gan7)" stroke-width="0.45"/><path d="M101.6 286.18C156.14 286.18 228.86 188.18 283.4 188.18" stroke="url(#gan7)" stroke-width="0.68"/><path d="M101.6 289.42C156.14 289.42 228.86 194.2 283.4 194.2" stroke="url(#gan7)" stroke-width="0.55"/><path d="M101.6 284.69C156.14 284.69 228.86 193.67 283.4 193.67" stroke="url(#gan7)" stroke-width="0.94"/><path d="M101.6 285.5C156.14 285.5 228.86 200.27 283.4 200.27" stroke="url(#gan8)" stroke-width="0.6"/><path d="M101.6 288.99C156.14 288.99 228.86 204.26 283.4 204.26" stroke="url(#gan8)" stroke-width="0.3"/><path d="M101.6 287.81C156.14 287.81 228.86 207.44 283.4 207.44" stroke="url(#gan8)" stroke-width="0.45"/><path d="M101.6 286.74C156.14 286.74 228.86 216.99 283.4 216.99" stroke="url(#gan9)" stroke-width="0.39"/><path d="M101.6 292.44C156.14 292.44 228.86 221.55 283.4 221.55" stroke="url(#gan9)" stroke-width="0.51"/><path d="M101.6 290.09C156.14 290.09 228.86 235.19 283.4 235.19" stroke="url(#gan11)" stroke-width="0.72"/><path d="M101.6 291.89C156.14 291.89 228.86 235.88 283.4 235.88" stroke="url(#gan11)" stroke-width="0.54"/><path d="M101.6 288.15C156.14 288.15 228.86 234.86 283.4 234.86" stroke="url(#gan11)" stroke-width="0.3"/><path d="M101.6 291.43C156.14 291.43 228.86 235.57 283.4 235.57" stroke="url(#gan11)" stroke-width="0.33"/><path d="M101.6 293.01C156.14 293.01 228.86 240.99 283.4 240.99" stroke="url(#gan11)" stroke-width="0.57"/><path d="M101.6 290.64C156.14 290.64 228.86 240.33 283.4 240.33" stroke="url(#gan11)" stroke-width="0.33"/><path d="M101.6 291.04C156.14 291.04 228.86 240.61 283.4 240.61" stroke="url(#gan11)" stroke-width="0.42"/><path d="M101.6 293.93C156.14 293.93 228.86 270.88 283.4 270.88" stroke="url(#gan13)" stroke-width="0.42"/><path d="M101.6 295.37C156.14 295.37 228.86 290.2 283.4 290.2" stroke="url(#gan15)" stroke-width="0.54"/><path d="M101.6 293.51C156.14 293.51 228.86 289.79 283.4 289.79" stroke="url(#gan15)" stroke-width="0.38"/><path d="M101.6 294.4C156.14 294.4 228.86 295.37 283.4 295.37" stroke="url(#gan15)" stroke-width="0.46"/><path d="M101.6 294.86C156.14 294.86 228.86 295.66 283.4 295.66" stroke="url(#gan15)" stroke-width="0.43"/><path d="M101.6 296.63C156.14 296.63 228.86 309.37 283.4 309.37" stroke="url(#gan16)" stroke-width="0.33"/><path d="M101.6 308.41C156.14 308.41 228.86 72.04 283.4 72.04" stroke="url(#gan2)" stroke-width="1.16"/><path d="M101.6 309.25C156.14 309.25 228.86 147.78 283.4 147.78" stroke="url(#gan4)" stroke-width="0.42"/><path d="M101.6 309.64C156.14 309.64 228.86 189.44 283.4 189.44" stroke="url(#gan7)" stroke-width="0.32"/><path d="M101.6 310.09C156.14 310.09 228.86 236.34 283.4 236.34" stroke="url(#gan11)" stroke-width="0.53"/><path d="M101.6 310.49C156.14 310.49 228.86 291.27 283.4 291.27" stroke="url(#gan15)" stroke-width="0.3"/><path d="M101.6 319.72C156.14 319.72 228.86 148.11 283.4 148.11" stroke="url(#gan4)" stroke-width="0.61"/><path d="M101.6 320.27C156.14 320.27 228.86 241.4 283.4 241.4" stroke="url(#gan11)" stroke-width="0.43"/></g><rect x="97.6" y="43.9" width="3.8" height="18.9" fill="#2e2ef6" stroke="#1c1c8c" stroke-width="0.45"/><text x="43" y="54.8" font-size="9" font-weight="bold" fill="#111">WF</text><text x="71.3" y="54.5" font-size="8.2" font-weight="bold" fill="#111">6.8</text><rect x="97.6" y="81.1" width="3.8" height="4.1" fill="#2e2ef6" stroke="#1c1c8c" stroke-width="0.45"/><text x="43" y="88.7" font-size="9" font-weight="bold" fill="#111">EF</text><text x="71.3" y="88.2" font-size="8.2" font-weight="bold" fill="#111">1.5</text><rect x="97.6" y="102.7" width="3.8" height="3.4" fill="#2e2ef6" stroke="#1c1c8c" stroke-width="0.45"/><text x="43" y="111" font-size="9" font-weight="bold" fill="#111">CF</text><text x="71.3" y="110.5" font-size="8.2" font-weight="bold" fill="#111">1.4</text><rect x="97.4" y="123.7" width="4.2" height="1" fill="#45455a"/><text x="43" y="130.4" font-size="9" font-weight="bold" fill="#111">MF</text><text x="71.3" y="130" font-size="8.2" font-weight="bold" fill="#111">0.1</text><rect x="97.6" y="138.1" width="3.8" height="5.3" fill="#2e2ef6" stroke="#1c1c8c" stroke-width="0.45"/><text x="43" y="146.9" font-size="9" font-weight="bold" fill="#111">NF</text><text x="71.3" y="146.4" font-size="8.2" font-weight="bold" fill="#111">2.0</text><rect x="97.6" y="155" width="3.8" height="22.9" fill="#2e2ef6" stroke="#1c1c8c" stroke-width="0.45"/><text x="43" y="173.7" font-size="9" font-weight="bold" fill="#111">LF</text><text x="71.3" y="172.6" font-size="8.2" font-weight="bold" fill="#111">8.1</text><rect x="97.6" y="211.8" width="3.8" height="3.8" fill="#fa2e2e" stroke="#9a1c1c" stroke-width="0.45"/><text x="43" y="219.1" font-size="9" font-weight="bold" fill="#111">WF</text><text x="71.3" y="218" font-size="8.2" font-weight="bold" fill="#111">1.3</text><rect x="97.6" y="224.3" width="3.8" height="9.2" fill="#fa2e2e" stroke="#9a1c1c" stroke-width="0.45"/><text x="43" y="234.6" font-size="9" font-weight="bold" fill="#111">EF</text><text x="71.3" y="233.5" font-size="8.2" font-weight="bold" fill="#111">3.2</text><rect x="97.6" y="243.5" width="3.8" height="20" fill="#fa2e2e" stroke="#9a1c1c" stroke-width="0.45"/><text x="43" y="258.4" font-size="9" font-weight="bold" fill="#111">CF</text><text x="71.3" y="257.5" font-size="8.2" font-weight="bold" fill="#111">7.2</text><rect x="97.6" y="273.8" width="3.8" height="22.8" fill="#fa2e2e" stroke="#9a1c1c" stroke-width="0.45"/><text x="43" y="289.3" font-size="9" font-weight="bold" fill="#111">MF</text><text x="71.3" y="288.3" font-size="8.2" font-weight="bold" fill="#111">8.3</text><rect x="97.6" y="308" width="3.8" height="2.4" fill="#fa2e2e" stroke="#9a1c1c" stroke-width="0.45"/><text x="43" y="313.4" font-size="9" font-weight="bold" fill="#111">NF</text><text x="71.3" y="312.6" font-size="8.2" font-weight="bold" fill="#111">0.9</text><rect x="97.4" y="319.45" width="4.2" height="1" fill="#7a2e2e"/><text x="43" y="325.7" font-size="9" font-weight="bold" fill="#111">LF</text><text x="71.3" y="325" font-size="8.2" font-weight="bold" fill="#111">0.3</text><rect x="283.65" y="45.45" width="3.3" height="1.8" rx="0.4" fill="#ea2030" stroke="#80111a" stroke-width="0.5"/><text x="287.7" y="48.07" font-size="4.3" font-weight="bold" fill="#111" textLength="17.3" lengthAdjust="spacingAndGlyphs" stroke="#111" stroke-width="0.12">Target1.1</text><rect x="283.4" y="51.2" width="3.8" height="0.8" fill="#a31621"/><text x="287.7" y="52.86" font-size="3.4" font-weight="bold" fill="#111" textLength="14.2" lengthAdjust="spacingAndGlyphs">Target1.a</text><rect x="283.65" y="58.75" width="3.3" height="4.4" rx="0.4" fill="#dcaa3c" stroke="#795d21" stroke-width="0.5"/><text x="287.7" y="62.67" font-size="4.3" font-weight="bold" fill="#111" textLength="17.3" lengthAdjust="spacingAndGlyphs" stroke="#111" stroke-width="0.12">Target2.1</text><rect x="283.4" y="66.6" width="3.8" height="0.8" fill="#9a762a"/><text x="287.7" y="68.26" font-size="3.4" font-weight="bold" fill="#111" textLength="14.2" lengthAdjust="spacingAndGlyphs">Target2.2</text><rect x="283.65" y="70.75" width="3.3" height="1.4" rx="0.4" fill="#dcaa3c" stroke="#795d21" stroke-width="0.5"/><text x="287.7" y="72.81" font-size="3.4" font-weight="bold" fill="#111" textLength="14.2" lengthAdjust="spacingAndGlyphs">Target2.3</text><rect x="283.65" y="75.55" width="3.3" height="1.4" rx="0.4" fill="#dcaa3c" stroke="#795d21" stroke-width="0.5"/><text x="287.7" y="77.61" font-size="3.4" font-weight="bold" fill="#111" textLength="14.2" lengthAdjust="spacingAndGlyphs">Target2.4</text><rect x="283.65" y="86.05" width="3.3" height="3.1" rx="0.4" fill="#3cc46c" stroke="#216b3b" stroke-width="0.5"/><text x="287.7" y="89.32" font-size="4.3" font-weight="bold" fill="#111" textLength="17.3" lengthAdjust="spacingAndGlyphs" stroke="#111" stroke-width="0.12">Target3.1</text><rect x="283.65" y="92.25" width="3.3" height="2.5" rx="0.4" fill="#3cc46c" stroke="#216b3b" stroke-width="0.5"/><text x="287.7" y="95.22" font-size="4.3" font-weight="bold" fill="#111" textLength="17.3" lengthAdjust="spacingAndGlyphs" stroke="#111" stroke-width="0.12">Target3.2</text><rect x="283.65" y="97.05" width="3.3" height="2.2" rx="0.4" fill="#3cc46c" stroke="#216b3b" stroke-width="0.5"/><text x="287.7" y="99.87" font-size="4.3" font-weight="bold" fill="#111" textLength="17.3" lengthAdjust="spacingAndGlyphs" stroke="#111" stroke-width="0.12">Target3.3</text><rect x="283.4" y="102.2" width="3.8" height="0.8" fill="#2a894b"/><text x="287.7" y="103.86" font-size="3.4" font-weight="bold" fill="#111" textLength="14.2" lengthAdjust="spacingAndGlyphs">Target3.4</text><rect x="283.65" y="105.55" width="3.3" height="2.3" rx="0.4" fill="#3cc46c" stroke="#216b3b" stroke-width="0.5"/><text x="287.7" y="108.42" font-size="4.3" font-weight="bold" fill="#111" textLength="17.3" lengthAdjust="spacingAndGlyphs" stroke="#111" stroke-width="0.12">Target3.5</text><rect x="283.65" y="110.65" width="3.3" height="3.1" rx="0.4" fill="#3cc46c" stroke="#216b3b" stroke-width="0.5"/><text x="287.7" y="113.92" font-size="4.3" font-weight="bold" fill="#111" textLength="17.3" lengthAdjust="spacingAndGlyphs" stroke="#111" stroke-width="0.12">Target3.6</text><rect x="283.65" y="116.65" width="3.3" height="3.6" rx="0.4" fill="#3cc46c" stroke="#216b3b" stroke-width="0.5"/><text x="287.7" y="120.17" font-size="4.3" font-weight="bold" fill="#111" textLength="17.3" lengthAdjust="spacingAndGlyphs" stroke="#111" stroke-width="0.12">Target3.7</text><rect x="283.65" y="123.15" width="3.3" height="1" rx="0.4" fill="#3cc46c" stroke="#216b3b" stroke-width="0.5"/><text x="287.7" y="125.01" font-size="3.4" font-weight="bold" fill="#111" textLength="14.2" lengthAdjust="spacingAndGlyphs">Target3.8</text><rect x="283.65" y="126.75" width="3.3" height="3.1" rx="0.4" fill="#3cc46c" stroke="#216b3b" stroke-width="0.5"/><text x="287.7" y="130.02" font-size="4.3" font-weight="bold" fill="#111" textLength="17.3" lengthAdjust="spacingAndGlyphs" stroke="#111" stroke-width="0.12">Target3.9</text><rect x="283.65" y="132.55" width="3.3" height="4.7" rx="0.4" fill="#3cc46c" stroke="#216b3b" stroke-width="0.5"/><text x="287.7" y="136.62" font-size="4.3" font-weight="bold" fill="#111" textLength="17.3" lengthAdjust="spacingAndGlyphs" stroke="#111" stroke-width="0.12">Target3.b</text><rect x="283.65" y="143.25" width="3.3" height="4.8" rx="0.4" fill="#d8283c" stroke="#761621" stroke-width="0.5"/><text x="287.7" y="147.37" font-size="4.3" font-weight="bold" fill="#111" textLength="17.3" lengthAdjust="spacingAndGlyphs" stroke="#111" stroke-width="0.12">Target4.1</text><rect x="283.65" y="151.25" width="3.3" height="3.7" rx="0.4" fill="#d8283c" stroke="#761621" stroke-width="0.5"/><text x="287.7" y="154.82" font-size="4.3" font-weight="bold" fill="#111" textLength="17.3" lengthAdjust="spacingAndGlyphs" stroke="#111" stroke-width="0.12">Target4.3</text><rect x="283.4" y="160" width="3.8" height="0.9" fill="#a83d1d"/><text x="287.7" y="161.81" font-size="3.4" font-weight="bold" fill="#111" textLength="14.2" lengthAdjust="spacingAndGlyphs">Target5.2</text><rect x="283.65" y="165.65" width="3.3" height="3.6" rx="0.4" fill="#2cb8ec" stroke="#186581" stroke-width="0.5"/><text x="287.7" y="169.17" font-size="4.3" font-weight="bold" fill="#111" textLength="17.3" lengthAdjust="spacingAndGlyphs" stroke="#111" stroke-width="0.12">Target6.1</text><rect x="283.65" y="172.55" width="3.3" height="3.3" rx="0.4" fill="#2cb8ec" stroke="#186581" stroke-width="0.5"/><text x="287.7" y="175.92" font-size="4.3" font-weight="bold" fill="#111" textLength="17.3" lengthAdjust="spacingAndGlyphs" stroke="#111" stroke-width="0.12">Target6.2</text><rect x="283.4" y="177.8" width="3.8" height="0.8" fill="#1e80a5"/><text x="287.7" y="179.46" font-size="3.4" font-weight="bold" fill="#111" textLength="14.2" lengthAdjust="spacingAndGlyphs">Target6.4</text><rect x="283.65" y="184.85" width="3.3" height="4.5" rx="0.4" fill="#f6c81c" stroke="#876e0f" stroke-width="0.5"/><text x="287.7" y="188.82" font-size="4.3" font-weight="bold" fill="#111" textLength="17.3" lengthAdjust="spacingAndGlyphs" stroke="#111" stroke-width="0.12">Target7.1</text><rect x="283.65" y="191.95" width="3.3" height="2.2" rx="0.4" fill="#f6c81c" stroke="#876e0f" stroke-width="0.5"/><text x="287.7" y="194.77" font-size="4.3" font-weight="bold" fill="#111" textLength="17.3" lengthAdjust="spacingAndGlyphs" stroke="#111" stroke-width="0.12">Target7.2</text><rect x="283.4" y="199.6" width="3.8" height="1" fill="#7d1c2c"/><text x="287.7" y="201.46" font-size="3.4" font-weight="bold" fill="#111" textLength="14.2" lengthAdjust="spacingAndGlyphs">Target8.1</text><rect x="283.4" y="203" width="3.8" height="1.4" fill="#7d1c2c"/><text x="287.7" y="205.06" font-size="3.4" font-weight="bold" fill="#111" textLength="14.2" lengthAdjust="spacingAndGlyphs">Target8.2</text><rect x="283.4" y="207" width="3.8" height="0.8" fill="#7d1c2c"/><text x="287.7" y="208.66" font-size="3.4" font-weight="bold" fill="#111" textLength="14.2" lengthAdjust="spacingAndGlyphs">Target8.3</text><rect x="283.4" y="215.8" width="3.8" height="1.4" fill="#aa561e"/><text x="287.7" y="217.86" font-size="3.4" font-weight="bold" fill="#111" textLength="14.2" lengthAdjust="spacingAndGlyphs">Target9.4</text><rect x="283.4" y="221.1" width="3.8" height="0.8" fill="#aa561e"/><text x="287.7" y="222.76" font-size="3.4" font-weight="bold" fill="#111" textLength="14.2" lengthAdjust="spacingAndGlyphs">Target9.2</text><rect x="283.65" y="232.65" width="3.3" height="3.7" rx="0.4" fill="#f6a848" stroke="#875c27" stroke-width="0.5"/><text x="287.7" y="236.22" font-size="4.3" font-weight="bold" fill="#111" textLength="18.1" lengthAdjust="spacingAndGlyphs" stroke="#111" stroke-width="0.12">Target11.1</text><rect x="283.65" y="238.95" width="3.3" height="2.4" rx="0.4" fill="#f6a848" stroke="#875c27" stroke-width="0.5"/><text x="287.7" y="241.87" font-size="4.3" font-weight="bold" fill="#111" textLength="18.1" lengthAdjust="spacingAndGlyphs" stroke="#111" stroke-width="0.12">Target11.6</text><rect x="283.4" y="256.1" width="3.8" height="1" fill="#957121"/><text x="287.7" y="257.96" font-size="3.4" font-weight="bold" fill="#111" textLength="15.1" lengthAdjust="spacingAndGlyphs">Target12.4</text><rect x="283.4" y="270" width="3.8" height="1" fill="#28592b"/><text x="287.7" y="271.86" font-size="3.4" font-weight="bold" fill="#111" textLength="15.1" lengthAdjust="spacingAndGlyphs">Target13.2</text><rect x="283.65" y="289.25" width="3.3" height="1.9" rx="0.4" fill="#30d030" stroke="#1a721a" stroke-width="0.5"/><text x="287.7" y="291.92" font-size="4.3" font-weight="bold" fill="#111" textLength="18.1" lengthAdjust="spacingAndGlyphs" stroke="#111" stroke-width="0.12">Target15.1</text><rect x="283.65" y="293.65" width="3.3" height="1.9" rx="0.4" fill="#30d030" stroke="#1a721a" stroke-width="0.5"/><text x="287.7" y="296.32" font-size="4.3" font-weight="bold" fill="#111" textLength="18.1" lengthAdjust="spacingAndGlyphs" stroke="#111" stroke-width="0.12">Target15.5</text><rect x="283.65" y="306.85" width="3.3" height="2.4" rx="0.4" fill="#2e56b4" stroke="#192f63" stroke-width="0.5"/><text x="287.7" y="309.77" font-size="4.3" font-weight="bold" fill="#111" textLength="18.1" lengthAdjust="spacingAndGlyphs" stroke="#111" stroke-width="0.12">Target16.1</text><rect x="283.4" y="318" width="3.8" height="0.8" fill="#1d3859"/><text x="287.7" y="319.61" font-size="3.4" font-weight="bold" fill="#111" textLength="15.1" lengthAdjust="spacingAndGlyphs">Target17.8</text><g transform="translate(309.9 44.7)"><rect width="9.3" height="9.3" fill="#E5243B"/><rect x="0.9" y="0.9" width="0.7" height="1.6" fill="#fff" opacity="0.85"/><rect x="2.2" y="1.1" width="3.6" height="0.45" fill="#fff" opacity="0.6"/><rect x="2.2" y="1.9" width="2.6" height="0.4" fill="#fff" opacity="0.5"/><g fill="#fff"><rect x="1.9" y="5.2" width="0.9" height="2.3"/><rect x="3.2" y="4.9" width="0.9" height="2.6"/><rect x="4.5" y="5.4" width="0.8" height="2.1"/><rect x="5.7" y="4.9" width="0.9" height="2.6"/><rect x="6.9" y="5.3" width="0.8" height="2.2"/><rect x="1.9" y="6.4" width="5.8" height="0.7"/></g></g><g transform="translate(309.9 64)"><rect width="9.3" height="9.3" fill="#DDA63A"/><rect x="0.9" y="0.9" width="0.7" height="1.6" fill="#fff" opacity="0.85"/><rect x="2.2" y="1.1" width="3.6" height="0.45" fill="#fff" opacity="0.6"/><rect x="2.2" y="1.9" width="2.6" height="0.4" fill="#fff" opacity="0.5"/><g fill="#fff"><path d="M2.2 5.6h5a2.5 2.1 0 0 1-5 0z"/><rect x="3.2" y="4.1" width="0.5" height="1"/><rect x="4.5" y="3.9" width="0.5" height="1.2"/><rect x="5.7" y="4.1" width="0.5" height="1"/><rect x="3.6" y="7.8" width="2.2" height="0.5"/></g></g><g transform="translate(309.9 90.8)"><rect width="9.3" height="9.3" fill="#4C9F38"/><rect x="0.9" y="0.9" width="0.7" height="1.6" fill="#fff" opacity="0.85"/><rect x="2.2" y="1.1" width="3.6" height="0.45" fill="#fff" opacity="0.6"/><rect x="2.2" y="1.9" width="2.6" height="0.4" fill="#fff" opacity="0.5"/><path d="M1.6 6.1h1.8l0.8-1.6 1 2.6 0.9-2.2 0.6 1.2h1.2" fill="none" stroke="#fff" stroke-width="0.6"/><path d="M3.4 4.4l2.5 0" stroke="#fff" stroke-width="0.4" opacity="0.6"/></g><g transform="translate(309.9 144.4)"><rect width="9.3" height="9.3" fill="#C5192D"/><rect x="0.9" y="0.9" width="0.7" height="1.6" fill="#fff" opacity="0.85"/><rect x="2.2" y="1.1" width="3.6" height="0.45" fill="#fff" opacity="0.6"/><rect x="2.2" y="1.9" width="2.6" height="0.4" fill="#fff" opacity="0.5"/><path d="M2.4 4.6l2.3 0.7 2.3-0.7v3.1l-2.3 0.7-2.3-0.7z" fill="#fff"/><rect x="4.55" y="5.3" width="0.3" height="3" fill="#c5192d" opacity="0.6"/></g><g transform="translate(309.9 154.6)"><rect width="9.3" height="9.3" fill="#FF3A21"/><rect x="0.9" y="0.9" width="0.7" height="1.6" fill="#fff" opacity="0.85"/><rect x="2.2" y="1.1" width="3.6" height="0.45" fill="#fff" opacity="0.6"/><rect x="2.2" y="1.9" width="2.6" height="0.4" fill="#fff" opacity="0.5"/><g fill="none" stroke="#fff" stroke-width="0.55"><circle cx="4.4" cy="5.2" r="1.2"/><path d="M4.4 6.4v1.9M3.5 7.4h1.8M5.3 4.3l1.6-1.3"/></g></g><g transform="translate(309.9 168.9)"><rect width="9.3" height="9.3" fill="#26BDE2"/><rect x="0.9" y="0.9" width="0.7" height="1.6" fill="#fff" opacity="0.85"/><rect x="2.2" y="1.1" width="3.6" height="0.45" fill="#fff" opacity="0.6"/><rect x="2.2" y="1.9" width="2.6" height="0.4" fill="#fff" opacity="0.5"/><path d="M3 4.2h3.4l-0.5 4h-2.4z" fill="#fff"/><path d="M4.7 4.9c-0.6 0.8-0.9 1.2-0.9 1.6a0.9 0.9 0 0 0 1.8 0c0-0.4-0.3-0.8-0.9-1.6z" fill="#26BDE2"/></g><g transform="translate(309.9 185.5)"><rect width="9.3" height="9.3" fill="#FCC30B"/><rect x="0.9" y="0.9" width="0.7" height="1.6" fill="#fff" opacity="0.85"/><rect x="2.2" y="1.1" width="3.6" height="0.45" fill="#fff" opacity="0.6"/><rect x="2.2" y="1.9" width="2.6" height="0.4" fill="#fff" opacity="0.5"/><g fill="#fff"><circle cx="4.65" cy="5.9" r="1.5"/></g><g stroke="#fff" stroke-width="0.4"><path d="M4.65 3.7v0.6M4.65 7.5v0.6M2.45 5.9h0.6M6.25 5.9h0.6M3.1 4.35l0.4 0.4M6.2 4.35l-0.4 0.4M3.1 7.45l0.4-0.4M6.2 7.45l-0.4-0.4"/></g><circle cx="4.65" cy="5.9" r="0.6" fill="#FCC30B"/></g><g transform="translate(309.9 198.9)"><rect width="9.3" height="9.3" fill="#A21942"/><rect x="0.9" y="0.9" width="0.7" height="1.6" fill="#fff" opacity="0.85"/><rect x="2.2" y="1.1" width="3.6" height="0.45" fill="#fff" opacity="0.6"/><rect x="2.2" y="1.9" width="2.6" height="0.4" fill="#fff" opacity="0.5"/><g fill="#fff"><rect x="2.4" y="6.3" width="1.1" height="1.8"/><rect x="3.9" y="5.4" width="1.1" height="2.7"/><rect x="5.4" y="4.5" width="1.1" height="3.6"/><path d="M2.2 5.6l2.4-1.5 1.3 0.6 1.6-1.4" fill="none" stroke="#fff" stroke-width="0.45"/></g></g><g transform="translate(309.9 214.4)"><rect width="9.3" height="9.3" fill="#FD6925"/><rect x="0.9" y="0.9" width="0.7" height="1.6" fill="#fff" opacity="0.85"/><rect x="2.2" y="1.1" width="3.6" height="0.45" fill="#fff" opacity="0.6"/><rect x="2.2" y="1.9" width="2.6" height="0.4" fill="#fff" opacity="0.5"/><g fill="#fff"><rect x="3.7" y="3.9" width="1.9" height="1.9"/><rect x="2.6" y="6" width="1.9" height="1.9"/><rect x="4.8" y="6" width="1.9" height="1.9"/></g></g><g transform="translate(309.9 233.6)"><rect width="9.3" height="9.3" fill="#FD9D24"/><rect x="0.9" y="0.9" width="0.7" height="1.6" fill="#fff" opacity="0.85"/><rect x="2.2" y="1.1" width="3.6" height="0.45" fill="#fff" opacity="0.6"/><rect x="2.2" y="1.9" width="2.6" height="0.4" fill="#fff" opacity="0.5"/><g fill="#fff"><rect x="2" y="6.2" width="1.3" height="1.9"/><rect x="3.6" y="4.2" width="1.1" height="3.9"/><rect x="5" y="5.3" width="1.1" height="2.8"/><rect x="6.3" y="6.5" width="1.1" height="1.6"/><rect x="1.8" y="7.8" width="5.8" height="0.5"/></g></g><g transform="translate(309.9 251.9)"><rect width="9.3" height="9.3" fill="#BF8B2E"/><rect x="0.9" y="0.9" width="0.7" height="1.6" fill="#fff" opacity="0.85"/><rect x="2.2" y="1.1" width="3.6" height="0.45" fill="#fff" opacity="0.6"/><rect x="2.2" y="1.9" width="2.6" height="0.4" fill="#fff" opacity="0.5"/><g fill="none" stroke="#fff" stroke-width="0.6"><circle cx="3.5" cy="6.2" r="1.1"/><circle cx="5.8" cy="6.2" r="1.1"/></g><rect x="2.4" y="3.9" width="4.6" height="0.5" fill="#fff" opacity="0.7"/></g><g transform="translate(309.9 267.1)"><rect width="9.3" height="9.3" fill="#3F7E44"/><rect x="0.9" y="0.9" width="0.7" height="1.6" fill="#fff" opacity="0.85"/><rect x="2.2" y="1.1" width="3.6" height="0.45" fill="#fff" opacity="0.6"/><rect x="2.2" y="1.9" width="2.6" height="0.4" fill="#fff" opacity="0.5"/><path d="M1.3 6.1q3.35-3.2 6.7 0q-3.35 3.2-6.7 0z" fill="#fff"/><circle cx="4.65" cy="6.1" r="1.15" fill="#3F7E44"/><circle cx="4.65" cy="6.1" r="0.55" fill="#fff"/></g><g transform="translate(309.9 288)"><rect width="9.3" height="9.3" fill="#56C02B"/><rect x="0.9" y="0.9" width="0.7" height="1.6" fill="#fff" opacity="0.85"/><rect x="2.2" y="1.1" width="3.6" height="0.45" fill="#fff" opacity="0.6"/><rect x="2.2" y="1.9" width="2.6" height="0.4" fill="#fff" opacity="0.5"/><g fill="#fff"><path d="M4.65 4.3l1.3 2.2h-2.6z"/><rect x="4.4" y="6.4" width="0.5" height="1.1"/><rect x="2.6" y="7.5" width="4.2" height="0.5"/><path d="M2.4 4.4l0.6 0.3 0.6-0.3" fill="none" stroke="#fff" stroke-width="0.3"/></g></g><g transform="translate(309.9 303.2)"><rect width="9.3" height="9.3" fill="#00689D"/><rect x="0.9" y="0.9" width="0.7" height="1.6" fill="#fff" opacity="0.85"/><rect x="2.2" y="1.1" width="3.6" height="0.45" fill="#fff" opacity="0.6"/><rect x="2.2" y="1.9" width="2.6" height="0.4" fill="#fff" opacity="0.5"/><g fill="#fff"><path d="M2.8 4.3l2.4 1.6 1.6-1.2-0.6 1.9-1.3 0.5z"/><path d="M3.2 7.8l2.6-1.8" stroke="#fff" stroke-width="0.7"/><rect x="5.4" y="7.5" width="1.6" height="0.5"/></g></g><g transform="translate(309.9 315.5)"><rect width="9.3" height="9.3" fill="#19486A"/><rect x="0.9" y="0.9" width="0.7" height="1.6" fill="#fff" opacity="0.85"/><rect x="2.2" y="1.1" width="3.6" height="0.45" fill="#fff" opacity="0.6"/><rect x="2.2" y="1.9" width="2.6" height="0.4" fill="#fff" opacity="0.5"/><g fill="none" stroke="#fff" stroke-width="0.45"><circle cx="4.65" cy="6" r="1.9"/><circle cx="4.65" cy="6" r="0.8"/><path d="M4.65 4.1v3.8M2.75 6h3.8M3.3 4.65l2.7 2.7M6 4.65l-2.7 2.7"/></g></g>
<rect x="356.3" y="15.8" width="327" height="313.2" rx="10" ry="10" fill="none" stroke="#d5d5d5" stroke-width="1.8"/><text x="345" y="14.7" font-size="20" font-weight="bold" fill="#000">b</text><text x="534.1" y="32.5" font-size="7.7" font-weight="bold" fill="#111" textLength="40.6" lengthAdjust="spacingAndGlyphs">Income LM</text><text x="385.9" y="40.1" font-size="8.8" font-weight="bold" fill="#111" textLength="21.6" lengthAdjust="spacingAndGlyphs">Index</text><text x="414" y="40" font-size="8.8" font-weight="bold" fill="#111" textLength="33.5" lengthAdjust="spacingAndGlyphs">Strength</text><text transform="translate(371.4 144.9) rotate(-90)" font-size="9.4" font-weight="bold" fill="#111" textLength="90.8" lengthAdjust="spacingAndGlyphs">Positive relationship</text><text transform="translate(368.9 301.7) rotate(-90)" font-size="9.4" font-weight="bold" fill="#111" textLength="93.9" lengthAdjust="spacingAndGlyphs">Negative relationship</text><defs><linearGradient id="gbn1" gradientUnits="userSpaceOnUse" x1="453.2" y1="0" x2="634.9" y2="0"><stop offset="0" stop-color="#ff2c2c"/><stop offset="0.12" stop-color="#fd2b2d"/><stop offset="0.25" stop-color="#fa292d"/><stop offset="0.38" stop-color="#f7282e"/><stop offset="0.5" stop-color="#f5262e"/><stop offset="0.62" stop-color="#f2252f"/><stop offset="0.75" stop-color="#ef232f"/><stop offset="0.88" stop-color="#ed2230"/><stop offset="1" stop-color="#ea2030"/></linearGradient><linearGradient id="gbn11" gradientUnits="userSpaceOnUse" x1="453.2" y1="0" x2="634.9" y2="0"><stop offset="0" stop-color="#ff2c2c"/><stop offset="0.12" stop-color="#fe4b31"/><stop offset="0.25" stop-color="#fd6035"/><stop offset="0.38" stop-color="#fc7038"/><stop offset="0.5" stop-color="#fb7e3c"/><stop offset="0.62" stop-color="#f98a3f"/><stop offset="0.75" stop-color="#f89542"/><stop offset="0.88" stop-color="#f79f45"/><stop offset="1" stop-color="#f6a848"/></linearGradient><linearGradient id="gbn12" gradientUnits="userSpaceOnUse" x1="453.2" y1="0" x2="634.9" y2="0"><stop offset="0" stop-color="#ff2c2c"/><stop offset="0.12" stop-color="#fa492d"/><stop offset="0.25" stop-color="#f65d2d"/><stop offset="0.38" stop-color="#f16c2e"/><stop offset="0.5" stop-color="#ec7a2e"/><stop offset="0.62" stop-color="#e7852f"/><stop offset="0.75" stop-color="#e1902f"/><stop offset="0.88" stop-color="#dc9930"/><stop offset="1" stop-color="#d6a230"/></linearGradient><linearGradient id="gbn13" gradientUnits="userSpaceOnUse" x1="453.2" y1="0" x2="634.9" y2="0"><stop offset="0" stop-color="#ff2c2c"/><stop offset="0.12" stop-color="#f13f2f"/><stop offset="0.25" stop-color="#e24c31"/><stop offset="0.38" stop-color="#d15834"/><stop offset="0.5" stop-color="#bf6136"/><stop offset="0.62" stop-color="#aa6a38"/><stop offset="0.75" stop-color="#91723a"/><stop offset="0.88" stop-color="#70793c"/><stop offset="1" stop-color="#3a803e"/></linearGradient><linearGradient id="gbn15" gradientUnits="userSpaceOnUse" x1="453.2" y1="0" x2="634.9" y2="0"><stop offset="0" stop-color="#ff2c2c"/><stop offset="0.12" stop-color="#f1592d"/><stop offset="0.25" stop-color="#e2752d"/><stop offset="0.38" stop-color="#d18a2e"/><stop offset="0.5" stop-color="#be9b2e"/><stop offset="0.62" stop-color="#a8aa2f"/><stop offset="0.75" stop-color="#8eb82f"/><stop offset="0.88" stop-color="#6cc430"/><stop offset="1" stop-color="#30d030"/></linearGradient><linearGradient id="gbn16" gradientUnits="userSpaceOnUse" x1="453.2" y1="0" x2="634.9" y2="0"><stop offset="0" stop-color="#ff2c2c"/><stop offset="0.12" stop-color="#f1334f"/><stop offset="0.25" stop-color="#e23a66"/><stop offset="0.38" stop-color="#d14078"/><stop offset="0.5" stop-color="#be4587"/><stop offset="0.62" stop-color="#a84a94"/><stop offset="0.75" stop-color="#8e4e9f"/><stop offset="0.88" stop-color="#6c52aa"/><stop offset="1" stop-color="#2e56b4"/></linearGradient><linearGradient id="gbn17" gradientUnits="userSpaceOnUse" x1="453.2" y1="0" x2="634.9" y2="0"><stop offset="0" stop-color="#ff2c2c"/><stop offset="0.12" stop-color="#f1323f"/><stop offset="0.25" stop-color="#e1384c"/><stop offset="0.38" stop-color="#d03c58"/><stop offset="0.5" stop-color="#bd4161"/><stop offset="0.62" stop-color="#a8456a"/><stop offset="0.75" stop-color="#8d4972"/><stop offset="0.88" stop-color="#6a4d79"/><stop offset="1" stop-color="#2a5080"/></linearGradient><linearGradient id="gbn2" gradientUnits="userSpaceOnUse" x1="453.2" y1="0" x2="634.9" y2="0"><stop offset="0" stop-color="#ff2c2c"/><stop offset="0.12" stop-color="#fb4c2e"/><stop offset="0.25" stop-color="#f76131"/><stop offset="0.38" stop-color="#f37133"/><stop offset="0.5" stop-color="#ee7f35"/><stop offset="0.62" stop-color="#ea8c37"/><stop offset="0.75" stop-color="#e59738"/><stop offset="0.88" stop-color="#e1a13a"/><stop offset="1" stop-color="#dcaa3c"/></linearGradient><linearGradient id="gbn3" gradientUnits="userSpaceOnUse" x1="453.2" y1="0" x2="634.9" y2="0"><stop offset="0" stop-color="#ff2c2c"/><stop offset="0.12" stop-color="#f15539"/><stop offset="0.25" stop-color="#e26e43"/><stop offset="0.38" stop-color="#d2824c"/><stop offset="0.5" stop-color="#bf9253"/><stop offset="0.62" stop-color="#aaa15a"/><stop offset="0.75" stop-color="#91ad61"/><stop offset="0.88" stop-color="#71b967"/><stop offset="1" stop-color="#3cc46c"/></linearGradient><linearGradient id="gbn4" gradientUnits="userSpaceOnUse" x1="453.2" y1="0" x2="634.9" y2="0"><stop offset="0" stop-color="#ff2c2c"/><stop offset="0.12" stop-color="#fb2c2e"/><stop offset="0.25" stop-color="#f62b31"/><stop offset="0.38" stop-color="#f12b33"/><stop offset="0.5" stop-color="#ed2a35"/><stop offset="0.62" stop-color="#e82a37"/><stop offset="0.75" stop-color="#e32938"/><stop offset="0.88" stop-color="#dd293a"/><stop offset="1" stop-color="#d8283c"/></linearGradient><linearGradient id="gbn5" gradientUnits="userSpaceOnUse" x1="453.2" y1="0" x2="634.9" y2="0"><stop offset="0" stop-color="#ff2c2c"/><stop offset="0.12" stop-color="#fd342c"/><stop offset="0.25" stop-color="#fb3b2c"/><stop offset="0.38" stop-color="#fa412b"/><stop offset="0.5" stop-color="#f8462b"/><stop offset="0.62" stop-color="#f64b2b"/><stop offset="0.75" stop-color="#f4502b"/><stop offset="0.88" stop-color="#f2542a"/><stop offset="1" stop-color="#f0582a"/></linearGradient><linearGradient id="gbn6" gradientUnits="userSpaceOnUse" x1="453.2" y1="0" x2="634.9" y2="0"><stop offset="0" stop-color="#ff2c2c"/><stop offset="0.12" stop-color="#f15164"/><stop offset="0.25" stop-color="#e16883"/><stop offset="0.38" stop-color="#d17a9c"/><stop offset="0.5" stop-color="#be8ab0"/><stop offset="0.62" stop-color="#a897c1"/><stop offset="0.75" stop-color="#8ea3d1"/><stop offset="0.88" stop-color="#6baedf"/><stop offset="1" stop-color="#2cb8ec"/></linearGradient><linearGradient id="gbn7" gradientUnits="userSpaceOnUse" x1="453.2" y1="0" x2="634.9" y2="0"><stop offset="0" stop-color="#ff2c2c"/><stop offset="0.12" stop-color="#fe572a"/><stop offset="0.25" stop-color="#fd7029"/><stop offset="0.38" stop-color="#fc8427"/><stop offset="0.5" stop-color="#fb9525"/><stop offset="0.62" stop-color="#f9a423"/><stop offset="0.75" stop-color="#f8b121"/><stop offset="0.88" stop-color="#f7bd1e"/><stop offset="1" stop-color="#f6c81c"/></linearGradient><linearGradient id="gbn8" gradientUnits="userSpaceOnUse" x1="453.2" y1="0" x2="634.9" y2="0"><stop offset="0" stop-color="#ff2c2c"/><stop offset="0.12" stop-color="#f72c2f"/><stop offset="0.25" stop-color="#ef2b32"/><stop offset="0.38" stop-color="#e72b35"/><stop offset="0.5" stop-color="#de2a37"/><stop offset="0.62" stop-color="#d42a39"/><stop offset="0.75" stop-color="#ca293c"/><stop offset="0.88" stop-color="#c0293e"/><stop offset="1" stop-color="#b42840"/></linearGradient><linearGradient id="gbn9" gradientUnits="userSpaceOnUse" x1="453.2" y1="0" x2="634.9" y2="0"><stop offset="0" stop-color="#ff2c2c"/><stop offset="0.12" stop-color="#fe3d2c"/><stop offset="0.25" stop-color="#fc4a2c"/><stop offset="0.38" stop-color="#fb552c"/><stop offset="0.5" stop-color="#fa5f2c"/><stop offset="0.62" stop-color="#f8672c"/><stop offset="0.75" stop-color="#f76f2c"/><stop offset="0.88" stop-color="#f5752c"/><stop offset="1" stop-color="#f47c2c"/></linearGradient><linearGradient id="gbp1" gradientUnits="userSpaceOnUse" x1="453.2" y1="0" x2="634.9" y2="0"><stop offset="0" stop-color="#3434ff"/><stop offset="0.12" stop-color="#6632f1"/><stop offset="0.25" stop-color="#8430e2"/><stop offset="0.38" stop-color="#9b2ed1"/><stop offset="0.5" stop-color="#af2bbe"/><stop offset="0.62" stop-color="#c029a8"/><stop offset="0.75" stop-color="#cf268e"/><stop offset="0.88" stop-color="#dd236c"/><stop offset="1" stop-color="#ea2030"/></linearGradient><linearGradient id="gbp12" gradientUnits="userSpaceOnUse" x1="453.2" y1="0" x2="634.9" y2="0"><stop offset="0" stop-color="#3434ff"/><stop offset="0.12" stop-color="#5f4ef1"/><stop offset="0.25" stop-color="#7a60e2"/><stop offset="0.38" stop-color="#8f6ed1"/><stop offset="0.5" stop-color="#a07bbe"/><stop offset="0.62" stop-color="#b086a8"/><stop offset="0.75" stop-color="#be908e"/><stop offset="0.88" stop-color="#ca996c"/><stop offset="1" stop-color="#d6a230"/></linearGradient><linearGradient id="gbp13" gradientUnits="userSpaceOnUse" x1="453.2" y1="0" x2="634.9" y2="0"><stop offset="0" stop-color="#3434ff"/><stop offset="0.12" stop-color="#3544f1"/><stop offset="0.25" stop-color="#3650e2"/><stop offset="0.38" stop-color="#365ad2"/><stop offset="0.5" stop-color="#3763c0"/><stop offset="0.62" stop-color="#386bab"/><stop offset="0.75" stop-color="#397392"/><stop offset="0.88" stop-color="#397a72"/><stop offset="1" stop-color="#3a803e"/></linearGradient><linearGradient id="gbp15" gradientUnits="userSpaceOnUse" x1="453.2" y1="0" x2="634.9" y2="0"><stop offset="0" stop-color="#3434ff"/><stop offset="0.12" stop-color="#345df1"/><stop offset="0.25" stop-color="#3377e2"/><stop offset="0.38" stop-color="#338bd1"/><stop offset="0.5" stop-color="#329cbe"/><stop offset="0.62" stop-color="#32aba8"/><stop offset="0.75" stop-color="#31b88e"/><stop offset="0.88" stop-color="#31c56c"/><stop offset="1" stop-color="#30d030"/></linearGradient><linearGradient id="gbp16" gradientUnits="userSpaceOnUse" x1="453.2" y1="0" x2="634.9" y2="0"><stop offset="0" stop-color="#3434ff"/><stop offset="0.12" stop-color="#333af7"/><stop offset="0.25" stop-color="#333fef"/><stop offset="0.38" stop-color="#3243e7"/><stop offset="0.5" stop-color="#3147de"/><stop offset="0.62" stop-color="#304bd4"/><stop offset="0.75" stop-color="#304fca"/><stop offset="0.88" stop-color="#2f53c0"/><stop offset="1" stop-color="#2e56b4"/></linearGradient><linearGradient id="gbp17" gradientUnits="userSpaceOnUse" x1="453.2" y1="0" x2="634.9" y2="0"><stop offset="0" stop-color="#3434ff"/><stop offset="0.12" stop-color="#3338f4"/><stop offset="0.25" stop-color="#323ce8"/><stop offset="0.38" stop-color="#3140db"/><stop offset="0.5" stop-color="#2f44cd"/><stop offset="0.62" stop-color="#2e47bd"/><stop offset="0.75" stop-color="#2d4aac"/><stop offset="0.88" stop-color="#2b4d98"/><stop offset="1" stop-color="#2a5080"/></linearGradient><linearGradient id="gbp2" gradientUnits="userSpaceOnUse" x1="453.2" y1="0" x2="634.9" y2="0"><stop offset="0" stop-color="#3434ff"/><stop offset="0.12" stop-color="#6150f1"/><stop offset="0.25" stop-color="#7d64e2"/><stop offset="0.38" stop-color="#9373d2"/><stop offset="0.5" stop-color="#a581bf"/><stop offset="0.62" stop-color="#b58caa"/><stop offset="0.75" stop-color="#c39791"/><stop offset="0.88" stop-color="#d0a171"/><stop offset="1" stop-color="#dcaa3c"/></linearGradient><linearGradient id="gbp3" gradientUnits="userSpaceOnUse" x1="453.2" y1="0" x2="634.9" y2="0"><stop offset="0" stop-color="#3434ff"/><stop offset="0.12" stop-color="#3559f3"/><stop offset="0.25" stop-color="#3671e6"/><stop offset="0.38" stop-color="#3783d7"/><stop offset="0.5" stop-color="#3893c8"/><stop offset="0.62" stop-color="#39a1b6"/><stop offset="0.75" stop-color="#3aaea2"/><stop offset="0.88" stop-color="#3bb98b"/><stop offset="1" stop-color="#3cc46c"/></linearGradient><linearGradient id="gbp4" gradientUnits="userSpaceOnUse" x1="453.2" y1="0" x2="634.9" y2="0"><stop offset="0" stop-color="#3434ff"/><stop offset="0.12" stop-color="#6033f1"/><stop offset="0.25" stop-color="#7b31e2"/><stop offset="0.38" stop-color="#9030d2"/><stop offset="0.5" stop-color="#a22ebf"/><stop offset="0.62" stop-color="#b12daa"/><stop offset="0.75" stop-color="#bf2b91"/><stop offset="0.88" stop-color="#cc2a71"/><stop offset="1" stop-color="#d8283c"/></linearGradient><linearGradient id="gbp6" gradientUnits="userSpaceOnUse" x1="453.2" y1="0" x2="634.9" y2="0"><stop offset="0" stop-color="#3434ff"/><stop offset="0.12" stop-color="#3355fd"/><stop offset="0.25" stop-color="#326bfa"/><stop offset="0.38" stop-color="#317cf8"/><stop offset="0.5" stop-color="#308bf6"/><stop offset="0.62" stop-color="#2f98f3"/><stop offset="0.75" stop-color="#2ea3f1"/><stop offset="0.88" stop-color="#2daeee"/><stop offset="1" stop-color="#2cb8ec"/></linearGradient><linearGradient id="gbp7" gradientUnits="userSpaceOnUse" x1="453.2" y1="0" x2="634.9" y2="0"><stop offset="0" stop-color="#3434ff"/><stop offset="0.12" stop-color="#6a5af1"/><stop offset="0.25" stop-color="#8a73e1"/><stop offset="0.38" stop-color="#a386d0"/><stop offset="0.5" stop-color="#b896bc"/><stop offset="0.62" stop-color="#caa5a6"/><stop offset="0.75" stop-color="#dab18b"/><stop offset="0.88" stop-color="#e8bd67"/><stop offset="1" stop-color="#f6c81c"/></linearGradient><linearGradient id="gbp8" gradientUnits="userSpaceOnUse" x1="453.2" y1="0" x2="634.9" y2="0"><stop offset="0" stop-color="#3434ff"/><stop offset="0.12" stop-color="#5333f1"/><stop offset="0.25" stop-color="#6931e2"/><stop offset="0.38" stop-color="#7930d2"/><stop offset="0.5" stop-color="#882ec0"/><stop offset="0.62" stop-color="#942dab"/><stop offset="0.75" stop-color="#a02b92"/><stop offset="0.88" stop-color="#aa2a73"/><stop offset="1" stop-color="#b42840"/></linearGradient><linearGradient id="gbp9" gradientUnits="userSpaceOnUse" x1="453.2" y1="0" x2="634.9" y2="0"><stop offset="0" stop-color="#3434ff"/><stop offset="0.12" stop-color="#6a42f1"/><stop offset="0.25" stop-color="#894ee1"/><stop offset="0.38" stop-color="#a258d1"/><stop offset="0.5" stop-color="#b660be"/><stop offset="0.62" stop-color="#c868a8"/><stop offset="0.75" stop-color="#d86f8e"/><stop offset="0.88" stop-color="#e7766b"/><stop offset="1" stop-color="#f47c2c"/></linearGradient></defs><g fill="none" stroke-opacity="0.7"><path d="M453.2 113.23C507.71 113.23 580.39 45.4 634.9 45.4" stroke="url(#gbp1)" stroke-width="0.63"/><path d="M453.2 243.25C507.71 243.25 580.39 286.57 634.9 286.57" stroke="url(#gbn15)" stroke-width="1.99"/><path d="M453.2 241.75C507.71 241.75 580.39 294.89 634.9 294.89" stroke="url(#gbn15)" stroke-width="0.85"/><path d="M453.2 51.25C507.71 51.25 580.39 306.75 634.9 306.75" stroke="url(#gbp16)" stroke-width="0.47"/><path d="M453.2 72.38C507.71 72.38 580.39 307.05 634.9 307.05" stroke="url(#gbp16)" stroke-width="0.51"/><path d="M453.2 45.86C507.71 45.86 580.39 92.08 634.9 92.08" stroke="url(#gbp3)" stroke-width="0.3"/><path d="M453.2 45.68C507.71 45.68 580.39 101.81 634.9 101.81" stroke="url(#gbp3)" stroke-width="0.3"/><path d="M453.2 46.1C507.71 46.1 580.39 112.59 634.9 112.59" stroke="url(#gbp3)" stroke-width="0.3"/><path d="M453.2 46.48C507.71 46.48 580.39 122.54 634.9 122.54" stroke="url(#gbp3)" stroke-width="0.43"/><path d="M453.2 47.22C507.71 47.22 580.39 131.93 634.9 131.93" stroke="url(#gbp3)" stroke-width="0.98"/><path d="M453.2 48.43C507.71 48.43 580.39 166.26 634.9 166.26" stroke="url(#gbp6)" stroke-width="0.45"/><path d="M453.2 47.96C507.71 47.96 580.39 170.98 634.9 170.98" stroke="url(#gbp6)" stroke-width="0.43"/><path d="M453.2 48.99C507.71 48.99 580.39 190.78 634.9 190.78" stroke="url(#gbp7)" stroke-width="0.62"/><path d="M453.2 49.55C507.71 49.55 580.39 282.81 634.9 282.81" stroke="url(#gbp15)" stroke-width="0.44"/><path d="M453.2 50.18C507.71 50.18 580.39 291.36 634.9 291.36" stroke="url(#gbp15)" stroke-width="0.76"/><path d="M453.2 50.8C507.71 50.8 580.39 320.24 634.9 320.24" stroke="url(#gbp17)" stroke-width="0.4"/><path d="M453.2 68.53C507.71 68.53 580.39 92.33 634.9 92.33" stroke="url(#gbp3)" stroke-width="0.43"/><path d="M453.2 68.94C507.71 68.94 580.39 102.17 634.9 102.17" stroke="url(#gbp3)" stroke-width="0.36"/><path d="M453.2 69.84C507.71 69.84 580.39 113.17 634.9 113.17" stroke="url(#gbp3)" stroke-width="0.65"/><path d="M453.2 69.31C507.71 69.31 580.39 127.15 634.9 127.15" stroke="url(#gbp3)" stroke-width="0.35"/><path d="M453.2 70.34C507.71 70.34 580.39 142.42 634.9 142.42" stroke="url(#gbp4)" stroke-width="0.3"/><path d="M453.2 70.74C507.71 70.74 580.39 171.53 634.9 171.53" stroke="url(#gbp6)" stroke-width="0.45"/><path d="M453.2 71.26C507.71 71.26 580.39 177.79 634.9 177.79" stroke="url(#gbp6)" stroke-width="0.55"/><path d="M453.2 71.74C507.71 71.74 580.39 270.13 634.9 270.13" stroke="url(#gbp13)" stroke-width="0.36"/><path d="M453.2 72.02C507.71 72.02 580.39 291.78 634.9 291.78" stroke="url(#gbp15)" stroke-width="0.3"/><path d="M453.2 73.07C507.71 73.07 580.39 320.93 634.9 320.93" stroke="url(#gbp17)" stroke-width="0.81"/><path d="M453.2 89.16C507.71 89.16 580.39 59.59 634.9 59.59" stroke="url(#gbp2)" stroke-width="0.31"/><path d="M453.2 90.04C507.71 90.04 580.39 86.1 634.9 86.1" stroke="url(#gbp3)" stroke-width="0.44"/><path d="M453.2 89.57C507.71 89.57 580.39 92.65 634.9 92.65" stroke="url(#gbp3)" stroke-width="0.45"/><path d="M453.2 94C507.71 94 580.39 97.08 634.9 97.08" stroke="url(#gbp3)" stroke-width="0.3"/><path d="M453.2 92.18C507.71 92.18 580.39 102.93 634.9 102.93" stroke="url(#gbp3)" stroke-width="0.91"/><path d="M453.2 90.73C507.71 90.73 580.39 108.21 634.9 108.21" stroke="url(#gbp3)" stroke-width="0.3"/><path d="M453.2 90.43C507.71 90.43 580.39 113.72 634.9 113.72" stroke="url(#gbp3)" stroke-width="0.3"/><path d="M453.2 93.63C507.71 93.63 580.39 117.31 634.9 117.31" stroke="url(#gbp3)" stroke-width="0.43"/><path d="M453.2 94.4C507.71 94.4 580.39 123 634.9 123" stroke="url(#gbp3)" stroke-width="0.51"/><path d="M453.2 93.04C507.71 93.04 580.39 128.11 634.9 128.11" stroke="url(#gbp3)" stroke-width="0.7"/><path d="M453.2 91.29C507.71 91.29 580.39 132.62 634.9 132.62" stroke="url(#gbp3)" stroke-width="0.79"/><path d="M453.2 96.06C507.71 96.06 580.39 146.92 634.9 146.92" stroke="url(#gbp4)" stroke-width="0.32"/><path d="M453.2 97.18C507.71 97.18 580.39 166.9 634.9 166.9" stroke="url(#gbp6)" stroke-width="0.9"/><path d="M453.2 95.62C507.71 95.62 580.39 172.05 634.9 172.05" stroke="url(#gbp6)" stroke-width="0.51"/><path d="M453.2 96.47C507.71 96.47 580.39 179.2 634.9 179.2" stroke="url(#gbp6)" stroke-width="0.45"/><path d="M453.2 95.01C507.71 95.01 580.39 178.55 634.9 178.55" stroke="url(#gbp6)" stroke-width="0.65"/><path d="M453.2 97.88C507.71 97.88 580.39 207.42 634.9 207.42" stroke="url(#gbp8)" stroke-width="0.43"/><path d="M453.2 98.55C507.71 98.55 580.39 256.33 634.9 256.33" stroke="url(#gbp12)" stroke-width="0.84"/><path d="M453.2 99.19C507.71 99.19 580.39 283.17 634.9 283.17" stroke="url(#gbp15)" stroke-width="0.37"/><path d="M453.2 99.98C507.71 99.98 580.39 291.99 634.9 291.99" stroke="url(#gbp15)" stroke-width="0.38"/><path d="M453.2 100.34C507.71 100.34 580.39 292.23 634.9 292.23" stroke="url(#gbp15)" stroke-width="0.3"/><path d="M453.2 99.58C507.71 99.58 580.39 307.3 634.9 307.3" stroke="url(#gbp16)" stroke-width="0.38"/><path d="M453.2 114.27C507.71 114.27 580.39 92.91 634.9 92.91" stroke="url(#gbp3)" stroke-width="0.3"/><path d="M453.2 114.01C507.71 114.01 580.39 103.64 634.9 103.64" stroke="url(#gbp3)" stroke-width="0.3"/><path d="M453.2 113.72C507.71 113.72 580.39 117.88 634.9 117.88" stroke="url(#gbp3)" stroke-width="0.3"/><path d="M453.2 114.68C507.71 114.68 580.39 133.11 634.9 133.11" stroke="url(#gbp3)" stroke-width="0.52"/><path d="M453.2 115.12C507.71 115.12 580.39 172.5 634.9 172.5" stroke="url(#gbp6)" stroke-width="0.32"/><path d="M453.2 115.46C507.71 115.46 580.39 191.2 634.9 191.2" stroke="url(#gbp7)" stroke-width="0.33"/><path d="M453.2 115.87C507.71 115.87 580.39 283.52 634.9 283.52" stroke="url(#gbp15)" stroke-width="0.45"/><path d="M453.2 116.56C507.71 116.56 580.39 307.66 634.9 307.66" stroke="url(#gbp16)" stroke-width="0.84"/><path d="M453.2 130.4C507.71 130.4 580.39 45.73 634.9 45.73" stroke="url(#gbp1)" stroke-width="0.57"/><path d="M453.2 130.86C507.71 130.86 580.39 86.6 634.9 86.6" stroke="url(#gbp3)" stroke-width="0.31"/><path d="M453.2 131.65C507.71 131.65 580.39 97.72 634.9 97.72" stroke="url(#gbp3)" stroke-width="0.39"/><path d="M453.2 131.24C507.71 131.24 580.39 104.04 634.9 104.04" stroke="url(#gbp3)" stroke-width="0.39"/><path d="M453.2 133.34C507.71 133.34 580.39 114.02 634.9 114.02" stroke="url(#gbp3)" stroke-width="0.33"/><path d="M453.2 132.19C507.71 132.19 580.39 123.47 634.9 123.47" stroke="url(#gbp3)" stroke-width="0.64"/><path d="M453.2 132.84C507.71 132.84 580.39 133.52 634.9 133.52" stroke="url(#gbp3)" stroke-width="0.61"/><path d="M453.2 134.01C507.71 134.01 580.39 147.36 634.9 147.36" stroke="url(#gbp4)" stroke-width="0.94"/><path d="M453.2 135.34C507.71 135.34 580.39 167.44 634.9 167.44" stroke="url(#gbp6)" stroke-width="0.43"/><path d="M453.2 134.81C507.71 134.81 580.39 172.96 634.9 172.96" stroke="url(#gbp6)" stroke-width="0.59"/><path d="M453.2 135.77C507.71 135.77 580.39 191.47 634.9 191.47" stroke="url(#gbp7)" stroke-width="0.4"/><path d="M453.2 136.22C507.71 136.22 580.39 256.68 634.9 256.68" stroke="url(#gbp12)" stroke-width="0.46"/><path d="M453.2 136.7C507.71 136.7 580.39 283.88 634.9 283.88" stroke="url(#gbp15)" stroke-width="0.45"/><path d="M453.2 137.12C507.71 137.12 580.39 292.45 634.9 292.45" stroke="url(#gbp15)" stroke-width="0.35"/><path d="M453.2 147.33C507.71 147.33 580.39 46.04 634.9 46.04" stroke="url(#gbp1)" stroke-width="0.62"/><path d="M453.2 147.78C507.71 147.78 580.39 87 634.9 87" stroke="url(#gbp3)" stroke-width="0.3"/><path d="M453.2 149.03C507.71 149.03 580.39 87.86 634.9 87.86" stroke="url(#gbp3)" stroke-width="0.78"/><path d="M453.2 150.19C507.71 150.19 580.39 93.19 634.9 93.19" stroke="url(#gbp3)" stroke-width="0.45"/><path d="M453.2 150.86C507.71 150.86 580.39 93.7 634.9 93.7" stroke="url(#gbp3)" stroke-width="0.81"/><path d="M453.2 153.16C507.71 153.16 580.39 98.8 634.9 98.8" stroke="url(#gbp3)" stroke-width="0.54"/><path d="M453.2 154.32C507.71 154.32 580.39 105.49 634.9 105.49" stroke="url(#gbp3)" stroke-width="0.44"/><path d="M453.2 148.27C507.71 148.27 580.39 104.71 634.9 104.71" stroke="url(#gbp3)" stroke-width="0.67"/><path d="M453.2 151.59C507.71 151.59 580.39 108.99 634.9 108.99" stroke="url(#gbp3)" stroke-width="0.58"/><path d="M453.2 149.7C507.71 149.7 580.39 114.47 634.9 114.47" stroke="url(#gbp3)" stroke-width="0.49"/><path d="M453.2 153.9C507.71 153.9 580.39 114.99 634.9 114.99" stroke="url(#gbp3)" stroke-width="0.34"/><path d="M453.2 152.68C507.71 152.68 580.39 118.46 634.9 118.46" stroke="url(#gbp3)" stroke-width="0.36"/><path d="M453.2 155.31C507.71 155.31 580.39 124.22 634.9 124.22" stroke="url(#gbp3)" stroke-width="0.4"/><path d="M453.2 153.58C507.71 153.58 580.39 123.86 634.9 123.86" stroke="url(#gbp3)" stroke-width="0.3"/><path d="M453.2 155.72C507.71 155.72 580.39 129.1 634.9 129.1" stroke="url(#gbp3)" stroke-width="0.38"/><path d="M453.2 152.19C507.71 152.19 580.39 133.93 634.9 133.93" stroke="url(#gbp3)" stroke-width="0.57"/><path d="M453.2 154.83C507.71 154.83 580.39 134.38 634.9 134.38" stroke="url(#gbp3)" stroke-width="0.53"/><path d="M453.2 156.29C507.71 156.29 580.39 147.99 634.9 147.99" stroke="url(#gbp4)" stroke-width="0.69"/><path d="M453.2 159.35C507.71 159.35 580.39 168.14 634.9 168.14" stroke="url(#gbp6)" stroke-width="0.42"/><path d="M453.2 156.81C507.71 156.81 580.39 167.76 634.9 167.76" stroke="url(#gbp6)" stroke-width="0.3"/><path d="M453.2 157.15C507.71 157.15 580.39 173.44 634.9 173.44" stroke="url(#gbp6)" stroke-width="0.36"/><path d="M453.2 158.85C507.71 158.85 580.39 173.98 634.9 173.98" stroke="url(#gbp6)" stroke-width="0.54"/><path d="M453.2 157.55C507.71 157.55 580.39 179.74 634.9 179.74" stroke="url(#gbp6)" stroke-width="0.39"/><path d="M453.2 158.34C507.71 158.34 580.39 180.83 634.9 180.83" stroke="url(#gbp6)" stroke-width="0.42"/><path d="M453.2 157.94C507.71 157.94 580.39 180.28 634.9 180.28" stroke="url(#gbp6)" stroke-width="0.35"/><path d="M453.2 160.42C507.71 160.42 580.39 207.84 634.9 207.84" stroke="url(#gbp8)" stroke-width="0.83"/><path d="M453.2 159.78C507.71 159.78 580.39 222.41 634.9 222.41" stroke="url(#gbp9)" stroke-width="0.39"/><path d="M453.2 161.69C507.71 161.69 580.39 270.57 634.9 270.57" stroke="url(#gbp13)" stroke-width="0.79"/><path d="M453.2 163.34C507.71 163.34 580.39 284.2 634.9 284.2" stroke="url(#gbp15)" stroke-width="0.37"/><path d="M453.2 163.68C507.71 163.68 580.39 284.49 634.9 284.49" stroke="url(#gbp15)" stroke-width="0.3"/><path d="M453.2 162.39C507.71 162.39 580.39 293.14 634.9 293.14" stroke="url(#gbp15)" stroke-width="0.53"/><path d="M453.2 161.06C507.71 161.06 580.39 292.73 634.9 292.73" stroke="url(#gbp15)" stroke-width="0.4"/><path d="M453.2 162.91C507.71 162.91 580.39 293.57 634.9 293.57" stroke="url(#gbp15)" stroke-width="0.46"/><path d="M453.2 164.26C507.71 164.26 580.39 308.18 634.9 308.18" stroke="url(#gbp16)" stroke-width="0.84"/><path d="M453.2 202.33C507.71 202.33 580.39 46.3 634.9 46.3" stroke="url(#gbn1)" stroke-width="0.3"/><path d="M453.2 202.84C507.71 202.84 580.39 68.77 634.9 68.77" stroke="url(#gbn2)" stroke-width="0.71"/><path d="M453.2 203.42C507.71 203.42 580.39 142.7 634.9 142.7" stroke="url(#gbn4)" stroke-width="0.39"/><path d="M453.2 203.79C507.71 203.79 580.39 156.61 634.9 156.61" stroke="url(#gbn5)" stroke-width="0.31"/><path d="M453.2 204.41C507.71 204.41 580.39 195.66 634.9 195.66" stroke="url(#gbn7)" stroke-width="0.87"/><path d="M453.2 205.19C507.71 205.19 580.39 208.32 634.9 208.32" stroke="url(#gbn8)" stroke-width="0.61"/><path d="M453.2 206.32C507.71 206.32 580.39 222.77 634.9 222.77" stroke="url(#gbn9)" stroke-width="0.3"/><path d="M453.2 205.83C507.71 205.83 580.39 245.12 634.9 245.12" stroke="url(#gbn11)" stroke-width="0.61"/><path d="M453.2 206.74C507.71 206.74 580.39 293.97 634.9 293.97" stroke="url(#gbn15)" stroke-width="0.5"/><path d="M453.2 214.32C507.71 214.32 580.39 46.44 634.9 46.44" stroke="url(#gbn1)" stroke-width="0.32"/><path d="M453.2 214.78C507.71 214.78 580.39 59.83 634.9 59.83" stroke="url(#gbn2)" stroke-width="0.56"/><path d="M453.2 215.33C507.71 215.33 580.39 60.12 634.9 60.12" stroke="url(#gbn2)" stroke-width="0.49"/><path d="M453.2 213.83C507.71 213.83 580.39 69.23 634.9 69.23" stroke="url(#gbn2)" stroke-width="0.62"/><path d="M453.2 215.9C507.71 215.9 580.39 73.47 634.9 73.47" stroke="url(#gbn2)" stroke-width="0.58"/><path d="M453.2 216.54C507.71 216.54 580.39 88.96 634.9 88.96" stroke="url(#gbn3)" stroke-width="0.65"/><path d="M453.2 217.31C507.71 217.31 580.39 119.34 634.9 119.34" stroke="url(#gbn3)" stroke-width="0.81"/><path d="M453.2 218.4C507.71 218.4 580.39 142.99 634.9 142.99" stroke="url(#gbn4)" stroke-width="0.42"/><path d="M453.2 218.84C507.71 218.84 580.39 148.78 634.9 148.78" stroke="url(#gbn4)" stroke-width="0.41"/><path d="M453.2 217.96C507.71 217.96 580.39 148.47 634.9 148.47" stroke="url(#gbn4)" stroke-width="0.42"/><path d="M453.2 219.33C507.71 219.33 580.39 157.13 634.9 157.13" stroke="url(#gbn5)" stroke-width="0.53"/><path d="M453.2 220.19C507.71 220.19 580.39 191.71 634.9 191.71" stroke="url(#gbn7)" stroke-width="0.34"/><path d="M453.2 221.13C507.71 221.13 580.39 191.99 634.9 191.99" stroke="url(#gbn7)" stroke-width="0.51"/><path d="M453.2 221.55C507.71 221.55 580.39 196.41 634.9 196.41" stroke="url(#gbn7)" stroke-width="0.3"/><path d="M453.2 219.81C507.71 219.81 580.39 196.17 634.9 196.17" stroke="url(#gbn7)" stroke-width="0.39"/><path d="M453.2 220.61C507.71 220.61 580.39 208.65 634.9 208.65" stroke="url(#gbn8)" stroke-width="0.47"/><path d="M453.2 222C507.71 222 580.39 208.94 634.9 208.94" stroke="url(#gbn8)" stroke-width="0.56"/><path d="M453.2 224C507.71 224 580.39 211.3 634.9 211.3" stroke="url(#gbn8)" stroke-width="0.76"/><path d="M453.2 222.61C507.71 222.61 580.39 223.18 634.9 223.18" stroke="url(#gbn9)" stroke-width="0.59"/><path d="M453.2 223.15C507.71 223.15 580.39 223.62 634.9 223.62" stroke="url(#gbn9)" stroke-width="0.44"/><path d="M453.2 223.49C507.71 223.49 580.39 223.9 634.9 223.9" stroke="url(#gbn9)" stroke-width="0.3"/><path d="M453.2 224.65C507.71 224.65 580.39 240.09 634.9 240.09" stroke="url(#gbn11)" stroke-width="0.49"/><path d="M453.2 225.64C507.71 225.64 580.39 245.46 634.9 245.46" stroke="url(#gbn11)" stroke-width="0.41"/><path d="M453.2 226.36C507.71 226.36 580.39 245.88 634.9 245.88" stroke="url(#gbn11)" stroke-width="0.95"/><path d="M453.2 227.14C507.71 227.14 580.39 271.04 634.9 271.04" stroke="url(#gbn13)" stroke-width="0.54"/><path d="M453.2 225.17C507.71 225.17 580.39 284.79 634.9 284.79" stroke="url(#gbn15)" stroke-width="0.49"/><path d="M453.2 227.55C507.71 227.55 580.39 294.25 634.9 294.25" stroke="url(#gbn15)" stroke-width="0.3"/><path d="M453.2 228.09C507.71 228.09 580.39 321.73 634.9 321.73" stroke="url(#gbn17)" stroke-width="0.78"/><path d="M453.2 236.32C507.71 236.32 580.39 46.7 634.9 46.7" stroke="url(#gbn1)" stroke-width="0.41"/><path d="M453.2 236.98C507.71 236.98 580.39 60.36 634.9 60.36" stroke="url(#gbn2)" stroke-width="0.3"/><path d="M453.2 236.7C507.71 236.7 580.39 69.62 634.9 69.62" stroke="url(#gbn2)" stroke-width="0.32"/><path d="M453.2 237.29C507.71 237.29 580.39 94.27 634.9 94.27" stroke="url(#gbn3)" stroke-width="0.39"/><path d="M453.2 237.73C507.71 237.73 580.39 143.39 634.9 143.39" stroke="url(#gbn4)" stroke-width="0.43"/><path d="M453.2 238.06C507.71 238.06 580.39 149.06 634.9 149.06" stroke="url(#gbn4)" stroke-width="0.3"/><path d="M453.2 238.86C507.71 238.86 580.39 174.9 634.9 174.9" stroke="url(#gbn6)" stroke-width="0.67"/><path d="M453.2 238.34C507.71 238.34 580.39 192.36 634.9 192.36" stroke="url(#gbn7)" stroke-width="0.32"/><path d="M453.2 239.44C507.71 239.44 580.39 196.81 634.9 196.81" stroke="url(#gbn7)" stroke-width="0.43"/><path d="M453.2 240.66C507.71 240.66 580.39 209.23 634.9 209.23" stroke="url(#gbn8)" stroke-width="0.3"/><path d="M453.2 239.82C507.71 239.82 580.39 224.21 634.9 224.21" stroke="url(#gbn9)" stroke-width="0.3"/><path d="M453.2 240.07C507.71 240.07 580.39 224.59 634.9 224.59" stroke="url(#gbn9)" stroke-width="0.3"/><path d="M453.2 240.35C507.71 240.35 580.39 230.37 634.9 230.37" stroke="url(#gbn9)" stroke-width="0.33"/><path d="M453.2 240.94C507.71 240.94 580.39 246.34 634.9 246.34" stroke="url(#gbn11)" stroke-width="0.3"/><path d="M453.2 241.19C507.71 241.19 580.39 285.11 634.9 285.11" stroke="url(#gbn15)" stroke-width="0.3"/><path d="M453.2 244.4C507.71 244.4 580.39 308.52 634.9 308.52" stroke="url(#gbn16)" stroke-width="0.3"/><path d="M453.2 262.12C507.71 262.12 580.39 46.98 634.9 46.98" stroke="url(#gbn1)" stroke-width="0.41"/><path d="M453.2 262.61C507.71 262.61 580.39 60.6 634.9 60.6" stroke="url(#gbn2)" stroke-width="0.52"/><path d="M453.2 263.22C507.71 263.22 580.39 74.03 634.9 74.03" stroke="url(#gbn2)" stroke-width="0.64"/><path d="M453.2 264.51C507.71 264.51 580.39 143.95 634.9 143.95" stroke="url(#gbn4)" stroke-width="0.93"/><path d="M453.2 263.79C507.71 263.79 580.39 149.36 634.9 149.36" stroke="url(#gbn4)" stroke-width="0.45"/><path d="M453.2 265.65C507.71 265.65 580.39 192.71 634.9 192.71" stroke="url(#gbn7)" stroke-width="0.48"/><path d="M453.2 265.2C507.71 265.2 580.39 197.23 634.9 197.23" stroke="url(#gbn7)" stroke-width="0.38"/><path d="M453.2 267.01C507.71 267.01 580.39 209.44 634.9 209.44" stroke="url(#gbn8)" stroke-width="0.3"/><path d="M453.2 267.37C507.71 267.37 580.39 224.91 634.9 224.91" stroke="url(#gbn9)" stroke-width="0.39"/><path d="M453.2 266.15C507.71 266.15 580.39 230.65 634.9 230.65" stroke="url(#gbn9)" stroke-width="0.47"/><path d="M453.2 266.63C507.71 266.63 580.39 246.63 634.9 246.63" stroke="url(#gbn11)" stroke-width="0.44"/><path d="M453.2 267.99C507.71 267.99 580.39 295.69 634.9 295.69" stroke="url(#gbn15)" stroke-width="0.79"/><path d="M453.2 282.27C507.71 282.27 580.39 47.16 634.9 47.16" stroke="url(#gbn1)" stroke-width="0.35"/><path d="M453.2 282.7C507.71 282.7 580.39 47.38 634.9 47.38" stroke="url(#gbn1)" stroke-width="0.47"/><path d="M453.2 279.56C507.71 279.56 580.39 51.45 634.9 51.45" stroke="url(#gbn1)" stroke-width="0.3"/><path d="M453.2 280.6C507.71 280.6 580.39 61.24 634.9 61.24" stroke="url(#gbn2)" stroke-width="0.77"/><path d="M453.2 281.38C507.71 281.38 580.39 61.69 634.9 61.69" stroke="url(#gbn2)" stroke-width="0.7"/><path d="M453.2 279.96C507.71 279.96 580.39 60.87 634.9 60.87" stroke="url(#gbn2)" stroke-width="0.45"/><path d="M453.2 283.09C507.71 283.09 580.39 65.05 634.9 65.05" stroke="url(#gbn2)" stroke-width="0.3"/><path d="M453.2 284.44C507.71 284.44 580.39 70.11 634.9 70.11" stroke="url(#gbn2)" stroke-width="0.37"/><path d="M453.2 284.12C507.71 284.12 580.39 69.89 634.9 69.89" stroke="url(#gbn2)" stroke-width="0.3"/><path d="M453.2 281.91C507.71 281.91 580.39 74.48 634.9 74.48" stroke="url(#gbn2)" stroke-width="0.32"/><path d="M453.2 285.15C507.71 285.15 580.39 75.15 634.9 75.15" stroke="url(#gbn2)" stroke-width="0.48"/><path d="M453.2 284.77C507.71 284.77 580.39 74.77 634.9 74.77" stroke="url(#gbn2)" stroke-width="0.3"/><path d="M453.2 283.62C507.71 283.62 580.39 94.75 634.9 94.75" stroke="url(#gbn3)" stroke-width="0.71"/><path d="M453.2 286.43C507.71 286.43 580.39 109.98 634.9 109.98" stroke="url(#gbn3)" stroke-width="0.48"/><path d="M453.2 287.63C507.71 287.63 580.39 124.56 634.9 124.56" stroke="url(#gbn3)" stroke-width="0.3"/><path d="M453.2 290.7C507.71 290.7 580.39 145.16 634.9 145.16" stroke="url(#gbn4)" stroke-width="0.67"/><path d="M453.2 288.97C507.71 288.97 580.39 144.35 634.9 144.35" stroke="url(#gbn4)" stroke-width="0.3"/><path d="M453.2 290.03C507.71 290.03 580.39 144.69 634.9 144.69" stroke="url(#gbn4)" stroke-width="0.62"/><path d="M453.2 288.66C507.71 288.66 580.39 150.21 634.9 150.21" stroke="url(#gbn4)" stroke-width="0.3"/><path d="M453.2 285.79C507.71 285.79 580.39 149.81 634.9 149.81" stroke="url(#gbn4)" stroke-width="0.73"/><path d="M453.2 289.25C507.71 289.25 580.39 150.42 634.9 150.42" stroke="url(#gbn4)" stroke-width="0.3"/><path d="M453.2 289.53C507.71 289.53 580.39 158.59 634.9 158.59" stroke="url(#gbn5)" stroke-width="0.32"/><path d="M453.2 287.08C507.71 287.08 580.39 157.91 634.9 157.91" stroke="url(#gbn5)" stroke-width="0.75"/><path d="M453.2 288.15C507.71 288.15 580.39 168.68 634.9 168.68" stroke="url(#gbn6)" stroke-width="0.69"/><path d="M453.2 294.44C507.71 294.44 580.39 181.37 634.9 181.37" stroke="url(#gbn6)" stroke-width="0.37"/><path d="M453.2 300.96C507.71 300.96 580.39 193.78 634.9 193.78" stroke="url(#gbn7)" stroke-width="0.33"/><path d="M453.2 291.98C507.71 291.98 580.39 193.51 634.9 193.51" stroke="url(#gbn7)" stroke-width="0.4"/><path d="M453.2 291.41C507.71 291.41 580.39 193.11 634.9 193.11" stroke="url(#gbn7)" stroke-width="0.67"/><path d="M453.2 297.65C507.71 297.65 580.39 198.52 634.9 198.52" stroke="url(#gbn7)" stroke-width="0.96"/><path d="M453.2 293.08C507.71 293.08 580.39 197.63 634.9 197.63" stroke="url(#gbn7)" stroke-width="0.67"/><path d="M453.2 301.32C507.71 301.32 580.39 199.62 634.9 199.62" stroke="url(#gbn7)" stroke-width="0.35"/><path d="M453.2 294.09C507.71 294.09 580.39 198.01 634.9 198.01" stroke="url(#gbn7)" stroke-width="0.3"/><path d="M453.2 298.55C507.71 298.55 580.39 199.19 634.9 199.19" stroke="url(#gbn7)" stroke-width="0.73"/><path d="M453.2 292.46C507.71 292.46 580.39 209.67 634.9 209.67" stroke="url(#gbn8)" stroke-width="0.52"/><path d="M453.2 302.26C507.71 302.26 580.39 210.21 634.9 210.21" stroke="url(#gbn8)" stroke-width="0.31"/><path d="M453.2 293.68C507.71 293.68 580.39 209.97 634.9 209.97" stroke="url(#gbn8)" stroke-width="0.47"/><path d="M453.2 299.33C507.71 299.33 580.39 212.76 634.9 212.76" stroke="url(#gbn8)" stroke-width="0.75"/><path d="M453.2 300.45C507.71 300.45 580.39 213.56 634.9 213.56" stroke="url(#gbn8)" stroke-width="0.63"/><path d="M453.2 295.62C507.71 295.62 580.39 212.01 634.9 212.01" stroke="url(#gbn8)" stroke-width="0.53"/><path d="M453.2 299.92C507.71 299.92 580.39 226.99 634.9 226.99" stroke="url(#gbn9)" stroke-width="0.38"/><path d="M453.2 301.61C507.71 301.61 580.39 227.26 634.9 227.26" stroke="url(#gbn9)" stroke-width="0.3"/><path d="M453.2 294.99C507.71 294.99 580.39 225.38 634.9 225.38" stroke="url(#gbn9)" stroke-width="0.67"/><path d="M453.2 296.92C507.71 296.92 580.39 226.6 634.9 226.6" stroke="url(#gbn9)" stroke-width="0.44"/><path d="M453.2 296.29C507.71 296.29 580.39 226.05 634.9 226.05" stroke="url(#gbn9)" stroke-width="0.75"/><path d="M453.2 303.28C507.71 303.28 580.39 227.77 634.9 227.77" stroke="url(#gbn9)" stroke-width="0.9"/><path d="M453.2 301.9C507.71 301.9 580.39 230.89 634.9 230.89" stroke="url(#gbn9)" stroke-width="0.37"/><path d="M453.2 305.88C507.71 305.88 580.39 241.32 634.9 241.32" stroke="url(#gbn11)" stroke-width="0.73"/><path d="M453.2 304.91C507.71 304.91 580.39 240.8 634.9 240.8" stroke="url(#gbn11)" stroke-width="0.47"/><path d="M453.2 302.62C507.71 302.62 580.39 240.44 634.9 240.44" stroke="url(#gbn11)" stroke-width="0.36"/><path d="M453.2 305.33C507.71 305.33 580.39 246.86 634.9 246.86" stroke="url(#gbn11)" stroke-width="0.32"/><path d="M453.2 306.52C507.71 306.52 580.39 247.14 634.9 247.14" stroke="url(#gbn11)" stroke-width="0.48"/><path d="M453.2 304.07C507.71 304.07 580.39 256.97 634.9 256.97" stroke="url(#gbn12)" stroke-width="0.6"/><path d="M453.2 304.53C507.71 304.53 580.39 257.22 634.9 257.22" stroke="url(#gbn12)" stroke-width="0.3"/><path d="M453.2 308.53C507.71 308.53 580.39 288.73 634.9 288.73" stroke="url(#gbn15)" stroke-width="0.69"/><path d="M453.2 307.8C507.71 307.8 580.39 288.18 634.9 288.18" stroke="url(#gbn15)" stroke-width="0.7"/><path d="M453.2 307.1C507.71 307.1 580.39 296.19 634.9 296.19" stroke="url(#gbn15)" stroke-width="0.63"/><path d="M453.2 310.64C507.71 310.64 580.39 296.61 634.9 296.61" stroke="url(#gbn15)" stroke-width="0.49"/><path d="M453.2 309.19C507.71 309.19 580.39 308.76 634.9 308.76" stroke="url(#gbn16)" stroke-width="0.58"/><path d="M453.2 310.11C507.71 310.11 580.39 309.05 634.9 309.05" stroke="url(#gbn16)" stroke-width="0.52"/><path d="M453.2 309.67C507.71 309.67 580.39 322.24 634.9 322.24" stroke="url(#gbn17)" stroke-width="0.32"/><path d="M453.2 318.8C507.71 318.8 580.39 70.42 634.9 70.42" stroke="url(#gbn2)" stroke-width="0.57"/><path d="M453.2 319.31C507.71 319.31 580.39 150.66 634.9 150.66" stroke="url(#gbn4)" stroke-width="0.4"/><path d="M453.2 319.78C507.71 319.78 580.39 199.93 634.9 199.93" stroke="url(#gbn7)" stroke-width="0.49"/><path d="M453.2 320.28C507.71 320.28 580.39 214.16 634.9 214.16" stroke="url(#gbn8)" stroke-width="0.46"/><path d="M453.2 320.7C507.71 320.7 580.39 241.77 634.9 241.77" stroke="url(#gbn11)" stroke-width="0.35"/><path d="M453.2 321.24C507.71 321.24 580.39 309.34 634.9 309.34" stroke="url(#gbn16)" stroke-width="0.68"/></g><rect x="449.3" y="45.8" width="3.7" height="5.5" fill="#2e2ef6" stroke="#1c1c8c" stroke-width="0.45"/><text x="390.6" y="55.6" font-size="9" font-weight="bold" fill="#111">WF</text><text x="419.3" y="54.6" font-size="8.2" font-weight="bold" fill="#111">1.7</text><rect x="449.3" y="68.5" width="3.7" height="4.8" fill="#2e2ef6" stroke="#1c1c8c" stroke-width="0.45"/><text x="390.6" y="77.8" font-size="9" font-weight="bold" fill="#111">EF</text><text x="419.3" y="77" font-size="8.2" font-weight="bold" fill="#111">1.7</text><rect x="449.3" y="89.2" width="3.7" height="11.1" fill="#2e2ef6" stroke="#1c1c8c" stroke-width="0.45"/><text x="390.6" y="102.9" font-size="9" font-weight="bold" fill="#111">CF</text><text x="419.3" y="102.2" font-size="8.2" font-weight="bold" fill="#111">3.8</text><rect x="449.3" y="113.1" width="3.7" height="3.7" fill="#2e2ef6" stroke="#1c1c8c" stroke-width="0.45"/><text x="390.6" y="121.7" font-size="9" font-weight="bold" fill="#111">MF</text><text x="419.3" y="121" font-size="8.2" font-weight="bold" fill="#111">1.3</text><rect x="449.3" y="130.3" width="3.7" height="6.8" fill="#2e2ef6" stroke="#1c1c8c" stroke-width="0.45"/><text x="390.6" y="141.1" font-size="9" font-weight="bold" fill="#111">NF</text><text x="419.3" y="140.5" font-size="8.2" font-weight="bold" fill="#111">2.3</text><rect x="449.3" y="147.2" width="3.7" height="17.3" fill="#2e2ef6" stroke="#1c1c8c" stroke-width="0.45"/><text x="390.6" y="164.3" font-size="9" font-weight="bold" fill="#111">LF</text><text x="419.3" y="163.6" font-size="8.2" font-weight="bold" fill="#111">5.6</text><rect x="449.3" y="202.4" width="3.7" height="4.4" fill="#fa2e2e" stroke="#9a1c1c" stroke-width="0.45"/><text x="390.6" y="210.6" font-size="9" font-weight="bold" fill="#111">WF</text><text x="419.3" y="209.8" font-size="8.2" font-weight="bold" fill="#111">1.6</text><rect x="449.3" y="213.7" width="3.7" height="14.6" fill="#fa2e2e" stroke="#9a1c1c" stroke-width="0.45"/><text x="390.6" y="226.1" font-size="9" font-weight="bold" fill="#111">EF</text><text x="419.3" y="225.4" font-size="8.2" font-weight="bold" fill="#111">4.9</text><rect x="449.3" y="236.3" width="3.7" height="8" fill="#fa2e2e" stroke="#9a1c1c" stroke-width="0.45"/><text x="390.6" y="245.9" font-size="9" font-weight="bold" fill="#111">CF</text><text x="419.3" y="245.2" font-size="8.2" font-weight="bold" fill="#111">2.9</text><rect x="449.3" y="262.1" width="3.7" height="6.1" fill="#fa2e2e" stroke="#9a1c1c" stroke-width="0.45"/><text x="390.6" y="270.8" font-size="9" font-weight="bold" fill="#111">MF</text><text x="419.3" y="270" font-size="8.2" font-weight="bold" fill="#111">2.2</text><rect x="449.3" y="279.6" width="3.7" height="31.1" fill="#fa2e2e" stroke="#9a1c1c" stroke-width="0.45"/><text x="390.6" y="300.1" font-size="9" font-weight="bold" fill="#111">NF</text><text x="419.3" y="299.4" font-size="8.2" font-weight="bold" fill="#111">10.1</text><rect x="449.3" y="318.7" width="3.7" height="2.7" fill="#fa2e2e" stroke="#9a1c1c" stroke-width="0.45"/><text x="390.6" y="326.4" font-size="9" font-weight="bold" fill="#111">LF</text><text x="419.3" y="325.6" font-size="8.2" font-weight="bold" fill="#111">0.9</text><rect x="635.15" y="45.45" width="3.1" height="1.8" rx="0.4" fill="#ea2030" stroke="#80111a" stroke-width="0.5"/><text x="639" y="48.07" font-size="4.3" font-weight="bold" fill="#111" textLength="17.3" lengthAdjust="spacingAndGlyphs" stroke="#111" stroke-width="0.12">Target1.1</text><rect x="634.9" y="50.9" width="3.6" height="1.1" fill="#a31621"/><text x="639" y="52.81" font-size="3.4" font-weight="bold" fill="#111" textLength="14.2" lengthAdjust="spacingAndGlyphs">Target1.a</text><rect x="635.15" y="59.75" width="3.1" height="1.9" rx="0.4" fill="#dcaa3c" stroke="#795d21" stroke-width="0.5"/><text x="639" y="62.42" font-size="4.3" font-weight="bold" fill="#111" textLength="17.3" lengthAdjust="spacingAndGlyphs" stroke="#111" stroke-width="0.12">Target2.1</text><rect x="634.9" y="64.6" width="3.6" height="0.9" fill="#9a762a"/><text x="639" y="66.41" font-size="3.4" font-weight="bold" fill="#111" textLength="14.2" lengthAdjust="spacingAndGlyphs">Target2.2</text><rect x="635.15" y="68.75" width="3.1" height="1.6" rx="0.4" fill="#dcaa3c" stroke="#795d21" stroke-width="0.5"/><text x="639" y="71.27" font-size="4.3" font-weight="bold" fill="#111" textLength="17.3" lengthAdjust="spacingAndGlyphs" stroke="#111" stroke-width="0.12">Target2.3</text><rect x="635.15" y="73.45" width="3.1" height="1.7" rx="0.4" fill="#dcaa3c" stroke="#795d21" stroke-width="0.5"/><text x="639" y="76.02" font-size="4.3" font-weight="bold" fill="#111" textLength="17.3" lengthAdjust="spacingAndGlyphs" stroke="#111" stroke-width="0.12">Target2.4</text><rect x="635.15" y="86.05" width="3.1" height="3.1" rx="0.4" fill="#3cc46c" stroke="#216b3b" stroke-width="0.5"/><text x="639" y="89.32" font-size="4.3" font-weight="bold" fill="#111" textLength="17.3" lengthAdjust="spacingAndGlyphs" stroke="#111" stroke-width="0.12">Target3.1</text><rect x="635.15" y="92.25" width="3.1" height="2.5" rx="0.4" fill="#3cc46c" stroke="#216b3b" stroke-width="0.5"/><text x="639" y="95.22" font-size="4.3" font-weight="bold" fill="#111" textLength="17.3" lengthAdjust="spacingAndGlyphs" stroke="#111" stroke-width="0.12">Target3.2</text><rect x="635.15" y="97.05" width="3.1" height="2.2" rx="0.4" fill="#3cc46c" stroke="#216b3b" stroke-width="0.5"/><text x="639" y="99.87" font-size="4.3" font-weight="bold" fill="#111" textLength="17.3" lengthAdjust="spacingAndGlyphs" stroke="#111" stroke-width="0.12">Target3.3</text><rect x="635.15" y="101.95" width="3.1" height="3.6" rx="0.4" fill="#3cc46c" stroke="#216b3b" stroke-width="0.5"/><text x="639" y="105.47" font-size="4.3" font-weight="bold" fill="#111" textLength="17.3" lengthAdjust="spacingAndGlyphs" stroke="#111" stroke-width="0.12">Target3.4</text><rect x="635.15" y="108.25" width="3.1" height="1.9" rx="0.4" fill="#3cc46c" stroke="#216b3b" stroke-width="0.5"/><text x="639" y="110.92" font-size="4.3" font-weight="bold" fill="#111" textLength="17.3" lengthAdjust="spacingAndGlyphs" stroke="#111" stroke-width="0.12">Target3.5</text><rect x="635.15" y="112.65" width="3.1" height="2.3" rx="0.4" fill="#3cc46c" stroke="#216b3b" stroke-width="0.5"/><text x="639" y="115.52" font-size="4.3" font-weight="bold" fill="#111" textLength="17.3" lengthAdjust="spacingAndGlyphs" stroke="#111" stroke-width="0.12">Target3.6</text><rect x="635.15" y="117.25" width="3.1" height="2.4" rx="0.4" fill="#3cc46c" stroke="#216b3b" stroke-width="0.5"/><text x="639" y="120.17" font-size="4.3" font-weight="bold" fill="#111" textLength="17.3" lengthAdjust="spacingAndGlyphs" stroke="#111" stroke-width="0.12">Target3.7</text><rect x="635.15" y="122.55" width="3.1" height="1.9" rx="0.4" fill="#3cc46c" stroke="#216b3b" stroke-width="0.5"/><text x="639" y="125.22" font-size="4.3" font-weight="bold" fill="#111" textLength="17.3" lengthAdjust="spacingAndGlyphs" stroke="#111" stroke-width="0.12">Target3.8</text><rect x="635.15" y="127.05" width="3.1" height="2.2" rx="0.4" fill="#3cc46c" stroke="#216b3b" stroke-width="0.5"/><text x="639" y="129.87" font-size="4.3" font-weight="bold" fill="#111" textLength="17.3" lengthAdjust="spacingAndGlyphs" stroke="#111" stroke-width="0.12">Target3.9</text><rect x="635.15" y="131.75" width="3.1" height="2.6" rx="0.4" fill="#3cc46c" stroke="#216b3b" stroke-width="0.5"/><text x="639" y="134.77" font-size="4.3" font-weight="bold" fill="#111" textLength="17.3" lengthAdjust="spacingAndGlyphs" stroke="#111" stroke-width="0.12">Target3.b</text><rect x="635.15" y="142.55" width="3.1" height="2.6" rx="0.4" fill="#d8283c" stroke="#761621" stroke-width="0.5"/><text x="639" y="145.57" font-size="4.3" font-weight="bold" fill="#111" textLength="17.3" lengthAdjust="spacingAndGlyphs" stroke="#111" stroke-width="0.12">Target4.1</text><rect x="635.15" y="147.05" width="3.1" height="3.5" rx="0.4" fill="#d8283c" stroke="#761621" stroke-width="0.5"/><text x="639" y="150.52" font-size="4.3" font-weight="bold" fill="#111" textLength="17.3" lengthAdjust="spacingAndGlyphs" stroke="#111" stroke-width="0.12">Target4.5</text><rect x="635.15" y="156.65" width="3.1" height="1.9" rx="0.4" fill="#f0582a" stroke="#843017" stroke-width="0.5"/><text x="639" y="159.32" font-size="4.3" font-weight="bold" fill="#111" textLength="17.3" lengthAdjust="spacingAndGlyphs" stroke="#111" stroke-width="0.12">Target5.5</text><rect x="635.15" y="166.25" width="3.1" height="2.5" rx="0.4" fill="#2cb8ec" stroke="#186581" stroke-width="0.5"/><text x="639" y="169.22" font-size="4.3" font-weight="bold" fill="#111" textLength="17.3" lengthAdjust="spacingAndGlyphs" stroke="#111" stroke-width="0.12">Target6.1</text><rect x="635.15" y="170.95" width="3.1" height="4.3" rx="0.4" fill="#2cb8ec" stroke="#186581" stroke-width="0.5"/><text x="639" y="174.82" font-size="4.3" font-weight="bold" fill="#111" textLength="17.3" lengthAdjust="spacingAndGlyphs" stroke="#111" stroke-width="0.12">Target6.2</text><rect x="635.15" y="177.65" width="3.1" height="3.7" rx="0.4" fill="#2cb8ec" stroke="#186581" stroke-width="0.5"/><text x="639" y="181.22" font-size="4.3" font-weight="bold" fill="#111" textLength="17.3" lengthAdjust="spacingAndGlyphs" stroke="#111" stroke-width="0.12">Target6.4</text><rect x="635.15" y="190.75" width="3.1" height="2.9" rx="0.4" fill="#f6c81c" stroke="#876e0f" stroke-width="0.5"/><text x="639" y="193.92" font-size="4.3" font-weight="bold" fill="#111" textLength="17.3" lengthAdjust="spacingAndGlyphs" stroke="#111" stroke-width="0.12">Target7.1</text><rect x="635.15" y="195.55" width="3.1" height="4.3" rx="0.4" fill="#f6c81c" stroke="#876e0f" stroke-width="0.5"/><text x="639" y="199.42" font-size="4.3" font-weight="bold" fill="#111" textLength="17.3" lengthAdjust="spacingAndGlyphs" stroke="#111" stroke-width="0.12">Target7.2</text><rect x="635.15" y="207.55" width="3.1" height="2.5" rx="0.4" fill="#b42840" stroke="#631623" stroke-width="0.5"/><text x="639" y="210.52" font-size="4.3" font-weight="bold" fill="#111" textLength="17.3" lengthAdjust="spacingAndGlyphs" stroke="#111" stroke-width="0.12">Target8.1</text><rect x="635.15" y="211.15" width="3.1" height="3" rx="0.4" fill="#b42840" stroke="#631623" stroke-width="0.5"/><text x="639" y="214.37" font-size="4.3" font-weight="bold" fill="#111" textLength="17.3" lengthAdjust="spacingAndGlyphs" stroke="#111" stroke-width="0.12">Target8.2</text><rect x="635.15" y="222.45" width="3.1" height="5.5" rx="0.4" fill="#f47c2c" stroke="#864418" stroke-width="0.5"/><text x="639" y="226.92" font-size="4.3" font-weight="bold" fill="#111" textLength="17.3" lengthAdjust="spacingAndGlyphs" stroke="#111" stroke-width="0.12">Target9.4</text><rect x="634.9" y="230.2" width="3.6" height="0.8" fill="#aa561e"/><text x="639" y="231.96" font-size="3.4" font-weight="bold" fill="#111" textLength="14.2" lengthAdjust="spacingAndGlyphs">Target9.5</text><rect x="635.15" y="240.15" width="3.1" height="1.5" rx="0.4" fill="#f6a848" stroke="#875c27" stroke-width="0.5"/><text x="639" y="242.62" font-size="4.3" font-weight="bold" fill="#111" textLength="18.1" lengthAdjust="spacingAndGlyphs" stroke="#111" stroke-width="0.12">Target11.1</text><rect x="635.15" y="245.15" width="3.1" height="1.9" rx="0.4" fill="#f6a848" stroke="#875c27" stroke-width="0.5"/><text x="639" y="247.82" font-size="4.3" font-weight="bold" fill="#111" textLength="18.1" lengthAdjust="spacingAndGlyphs" stroke="#111" stroke-width="0.12">Target11.6</text><rect x="634.9" y="256.1" width="3.6" height="1.2" fill="#957121"/><text x="639" y="258.06" font-size="3.4" font-weight="bold" fill="#111" textLength="15.1" lengthAdjust="spacingAndGlyphs">Target12.4</text><rect x="634.9" y="270" width="3.6" height="1.2" fill="#28592b"/><text x="639" y="271.96" font-size="3.4" font-weight="bold" fill="#111" textLength="15.1" lengthAdjust="spacingAndGlyphs">Target13.2</text><rect x="635.15" y="282.85" width="3.1" height="5.9" rx="0.4" fill="#30d030" stroke="#1a721a" stroke-width="0.5"/><text x="639" y="287.52" font-size="4.3" font-weight="bold" fill="#111" textLength="18.1" lengthAdjust="spacingAndGlyphs" stroke="#111" stroke-width="0.12">Target15.1</text><rect x="635.15" y="291.25" width="3.1" height="5.3" rx="0.4" fill="#30d030" stroke="#1a721a" stroke-width="0.5"/><text x="639" y="295.62" font-size="4.3" font-weight="bold" fill="#111" textLength="18.1" lengthAdjust="spacingAndGlyphs" stroke="#111" stroke-width="0.12">Target15.5</text><rect x="635.15" y="306.85" width="3.1" height="2.4" rx="0.4" fill="#2e56b4" stroke="#192f63" stroke-width="0.5"/><text x="639" y="309.77" font-size="4.3" font-weight="bold" fill="#111" textLength="18.1" lengthAdjust="spacingAndGlyphs" stroke="#111" stroke-width="0.12">Target16.1</text><rect x="635.15" y="320.25" width="3.1" height="1.9" rx="0.4" fill="#2a5080" stroke="#172c46" stroke-width="0.5"/><text x="639" y="322.92" font-size="4.3" font-weight="bold" fill="#111" textLength="18.1" lengthAdjust="spacingAndGlyphs" stroke="#111" stroke-width="0.12">Target17.8</text><g transform="translate(661.2 44.6)"><rect width="9.3" height="9.3" fill="#E5243B"/><rect x="0.9" y="0.9" width="0.7" height="1.6" fill="#fff" opacity="0.85"/><rect x="2.2" y="1.1" width="3.6" height="0.45" fill="#fff" opacity="0.6"/><rect x="2.2" y="1.9" width="2.6" height="0.4" fill="#fff" opacity="0.5"/><g fill="#fff"><rect x="1.9" y="5.2" width="0.9" height="2.3"/><rect x="3.2" y="4.9" width="0.9" height="2.6"/><rect x="4.5" y="5.4" width="0.8" height="2.1"/><rect x="5.7" y="4.9" width="0.9" height="2.6"/><rect x="6.9" y="5.3" width="0.8" height="2.2"/><rect x="1.9" y="6.4" width="5.8" height="0.7"/></g></g><g transform="translate(661.2 64)"><rect width="9.3" height="9.3" fill="#DDA63A"/><rect x="0.9" y="0.9" width="0.7" height="1.6" fill="#fff" opacity="0.85"/><rect x="2.2" y="1.1" width="3.6" height="0.45" fill="#fff" opacity="0.6"/><rect x="2.2" y="1.9" width="2.6" height="0.4" fill="#fff" opacity="0.5"/><g fill="#fff"><path d="M2.2 5.6h5a2.5 2.1 0 0 1-5 0z"/><rect x="3.2" y="4.1" width="0.5" height="1"/><rect x="4.5" y="3.9" width="0.5" height="1.2"/><rect x="5.7" y="4.1" width="0.5" height="1"/><rect x="3.6" y="7.8" width="2.2" height="0.5"/></g></g><g transform="translate(661.2 104)"><rect width="9.3" height="9.3" fill="#4C9F38"/><rect x="0.9" y="0.9" width="0.7" height="1.6" fill="#fff" opacity="0.85"/><rect x="2.2" y="1.1" width="3.6" height="0.45" fill="#fff" opacity="0.6"/><rect x="2.2" y="1.9" width="2.6" height="0.4" fill="#fff" opacity="0.5"/><path d="M1.6 6.1h1.8l0.8-1.6 1 2.6 0.9-2.2 0.6 1.2h1.2" fill="none" stroke="#fff" stroke-width="0.6"/><path d="M3.4 4.4l2.5 0" stroke="#fff" stroke-width="0.4" opacity="0.6"/></g><g transform="translate(661.2 141.8)"><rect width="9.3" height="9.3" fill="#C5192D"/><rect x="0.9" y="0.9" width="0.7" height="1.6" fill="#fff" opacity="0.85"/><rect x="2.2" y="1.1" width="3.6" height="0.45" fill="#fff" opacity="0.6"/><rect x="2.2" y="1.9" width="2.6" height="0.4" fill="#fff" opacity="0.5"/><path d="M2.4 4.6l2.3 0.7 2.3-0.7v3.1l-2.3 0.7-2.3-0.7z" fill="#fff"/><rect x="4.55" y="5.3" width="0.3" height="3" fill="#c5192d" opacity="0.6"/></g><g transform="translate(661.2 154)"><rect width="9.3" height="9.3" fill="#FF3A21"/><rect x="0.9" y="0.9" width="0.7" height="1.6" fill="#fff" opacity="0.85"/><rect x="2.2" y="1.1" width="3.6" height="0.45" fill="#fff" opacity="0.6"/><rect x="2.2" y="1.9" width="2.6" height="0.4" fill="#fff" opacity="0.5"/><g fill="none" stroke="#fff" stroke-width="0.55"><circle cx="4.4" cy="5.2" r="1.2"/><path d="M4.4 6.4v1.9M3.5 7.4h1.8M5.3 4.3l1.6-1.3"/></g></g><g transform="translate(661.2 168.9)"><rect width="9.3" height="9.3" fill="#26BDE2"/><rect x="0.9" y="0.9" width="0.7" height="1.6" fill="#fff" opacity="0.85"/><rect x="2.2" y="1.1" width="3.6" height="0.45" fill="#fff" opacity="0.6"/><rect x="2.2" y="1.9" width="2.6" height="0.4" fill="#fff" opacity="0.5"/><path d="M3 4.2h3.4l-0.5 4h-2.4z" fill="#fff"/><path d="M4.7 4.9c-0.6 0.8-0.9 1.2-0.9 1.6a0.9 0.9 0 0 0 1.8 0c0-0.4-0.3-0.8-0.9-1.6z" fill="#26BDE2"/></g><g transform="translate(661.2 189.9)"><rect width="9.3" height="9.3" fill="#FCC30B"/><rect x="0.9" y="0.9" width="0.7" height="1.6" fill="#fff" opacity="0.85"/><rect x="2.2" y="1.1" width="3.6" height="0.45" fill="#fff" opacity="0.6"/><rect x="2.2" y="1.9" width="2.6" height="0.4" fill="#fff" opacity="0.5"/><g fill="#fff"><circle cx="4.65" cy="5.9" r="1.5"/></g><g stroke="#fff" stroke-width="0.4"><path d="M4.65 3.7v0.6M4.65 7.5v0.6M2.45 5.9h0.6M6.25 5.9h0.6M3.1 4.35l0.4 0.4M6.2 4.35l-0.4 0.4M3.1 7.45l0.4-0.4M6.2 7.45l-0.4-0.4"/></g><circle cx="4.65" cy="5.9" r="0.6" fill="#FCC30B"/></g><g transform="translate(661.2 205.1)"><rect width="9.3" height="9.3" fill="#A21942"/><rect x="0.9" y="0.9" width="0.7" height="1.6" fill="#fff" opacity="0.85"/><rect x="2.2" y="1.1" width="3.6" height="0.45" fill="#fff" opacity="0.6"/><rect x="2.2" y="1.9" width="2.6" height="0.4" fill="#fff" opacity="0.5"/><g fill="#fff"><rect x="2.4" y="6.3" width="1.1" height="1.8"/><rect x="3.9" y="5.4" width="1.1" height="2.7"/><rect x="5.4" y="4.5" width="1.1" height="3.6"/><path d="M2.2 5.6l2.4-1.5 1.3 0.6 1.6-1.4" fill="none" stroke="#fff" stroke-width="0.45"/></g></g><g transform="translate(661.2 221.9)"><rect width="9.3" height="9.3" fill="#FD6925"/><rect x="0.9" y="0.9" width="0.7" height="1.6" fill="#fff" opacity="0.85"/><rect x="2.2" y="1.1" width="3.6" height="0.45" fill="#fff" opacity="0.6"/><rect x="2.2" y="1.9" width="2.6" height="0.4" fill="#fff" opacity="0.5"/><g fill="#fff"><rect x="3.7" y="3.9" width="1.9" height="1.9"/><rect x="2.6" y="6" width="1.9" height="1.9"/><rect x="4.8" y="6" width="1.9" height="1.9"/></g></g><g transform="translate(661.2 238.3)"><rect width="9.3" height="9.3" fill="#FD9D24"/><rect x="0.9" y="0.9" width="0.7" height="1.6" fill="#fff" opacity="0.85"/><rect x="2.2" y="1.1" width="3.6" height="0.45" fill="#fff" opacity="0.6"/><rect x="2.2" y="1.9" width="2.6" height="0.4" fill="#fff" opacity="0.5"/><g fill="#fff"><rect x="2" y="6.2" width="1.3" height="1.9"/><rect x="3.6" y="4.2" width="1.1" height="3.9"/><rect x="5" y="5.3" width="1.1" height="2.8"/><rect x="6.3" y="6.5" width="1.1" height="1.6"/><rect x="1.8" y="7.8" width="5.8" height="0.5"/></g></g><g transform="translate(661.2 251.9)"><rect width="9.3" height="9.3" fill="#BF8B2E"/><rect x="0.9" y="0.9" width="0.7" height="1.6" fill="#fff" opacity="0.85"/><rect x="2.2" y="1.1" width="3.6" height="0.45" fill="#fff" opacity="0.6"/><rect x="2.2" y="1.9" width="2.6" height="0.4" fill="#fff" opacity="0.5"/><g fill="none" stroke="#fff" stroke-width="0.6"><circle cx="3.5" cy="6.2" r="1.1"/><circle cx="5.8" cy="6.2" r="1.1"/></g><rect x="2.4" y="3.9" width="4.6" height="0.5" fill="#fff" opacity="0.7"/></g><g transform="translate(661.2 267.1)"><rect width="9.3" height="9.3" fill="#3F7E44"/><rect x="0.9" y="0.9" width="0.7" height="1.6" fill="#fff" opacity="0.85"/><rect x="2.2" y="1.1" width="3.6" height="0.45" fill="#fff" opacity="0.6"/><rect x="2.2" y="1.9" width="2.6" height="0.4" fill="#fff" opacity="0.5"/><path d="M1.3 6.1q3.35-3.2 6.7 0q-3.35 3.2-6.7 0z" fill="#fff"/><circle cx="4.65" cy="6.1" r="1.15" fill="#3F7E44"/><circle cx="4.65" cy="6.1" r="0.55" fill="#fff"/></g><g transform="translate(661.2 284.2)"><rect width="9.3" height="9.3" fill="#56C02B"/><rect x="0.9" y="0.9" width="0.7" height="1.6" fill="#fff" opacity="0.85"/><rect x="2.2" y="1.1" width="3.6" height="0.45" fill="#fff" opacity="0.6"/><rect x="2.2" y="1.9" width="2.6" height="0.4" fill="#fff" opacity="0.5"/><g fill="#fff"><path d="M4.65 4.3l1.3 2.2h-2.6z"/><rect x="4.4" y="6.4" width="0.5" height="1.1"/><rect x="2.6" y="7.5" width="4.2" height="0.5"/><path d="M2.4 4.4l0.6 0.3 0.6-0.3" fill="none" stroke="#fff" stroke-width="0.3"/></g></g><g transform="translate(661.2 303.2)"><rect width="9.3" height="9.3" fill="#00689D"/><rect x="0.9" y="0.9" width="0.7" height="1.6" fill="#fff" opacity="0.85"/><rect x="2.2" y="1.1" width="3.6" height="0.45" fill="#fff" opacity="0.6"/><rect x="2.2" y="1.9" width="2.6" height="0.4" fill="#fff" opacity="0.5"/><g fill="#fff"><path d="M2.8 4.3l2.4 1.6 1.6-1.2-0.6 1.9-1.3 0.5z"/><path d="M3.2 7.8l2.6-1.8" stroke="#fff" stroke-width="0.7"/><rect x="5.4" y="7.5" width="1.6" height="0.5"/></g></g><g transform="translate(661.2 315.5)"><rect width="9.3" height="9.3" fill="#19486A"/><rect x="0.9" y="0.9" width="0.7" height="1.6" fill="#fff" opacity="0.85"/><rect x="2.2" y="1.1" width="3.6" height="0.45" fill="#fff" opacity="0.6"/><rect x="2.2" y="1.9" width="2.6" height="0.4" fill="#fff" opacity="0.5"/><g fill="none" stroke="#fff" stroke-width="0.45"><circle cx="4.65" cy="6" r="1.9"/><circle cx="4.65" cy="6" r="0.8"/><path d="M4.65 4.1v3.8M2.75 6h3.8M3.3 4.65l2.7 2.7M6 4.65l-2.7 2.7"/></g></g>
<rect x="7.2" y="356" width="327.1" height="311.6" rx="10" ry="10" fill="none" stroke="#d5d5d5" stroke-width="1.8"/><text x="-0.5" y="357.2" font-size="20" font-weight="bold" fill="#000">c</text><text x="179.9" y="370.8" font-size="7.7" font-weight="bold" fill="#111" textLength="41.6" lengthAdjust="spacingAndGlyphs">Income UM</text><text x="38" y="376.5" font-size="8.8" font-weight="bold" fill="#111" textLength="21.6" lengthAdjust="spacingAndGlyphs">Index</text><text x="66.2" y="376.5" font-size="8.8" font-weight="bold" fill="#111" textLength="33.5" lengthAdjust="spacingAndGlyphs">Strength</text><text transform="translate(23.8 481.5) rotate(-90)" font-size="9.4" font-weight="bold" fill="#111" textLength="90.8" lengthAdjust="spacingAndGlyphs">Positive relationship</text><text transform="translate(21 638.4) rotate(-90)" font-size="9.4" font-weight="bold" fill="#111" textLength="94" lengthAdjust="spacingAndGlyphs">Negative relationship</text><defs><linearGradient id="gcn1" gradientUnits="userSpaceOnUse" x1="101.8" y1="0" x2="283.4" y2="0"><stop offset="0" stop-color="#ff2c2c"/><stop offset="0.12" stop-color="#fd2b2d"/><stop offset="0.25" stop-color="#fa292d"/><stop offset="0.38" stop-color="#f7282e"/><stop offset="0.5" stop-color="#f5262e"/><stop offset="0.62" stop-color="#f2252f"/><stop offset="0.75" stop-color="#ef232f"/><stop offset="0.88" stop-color="#ed2230"/><stop offset="1" stop-color="#ea2030"/></linearGradient><linearGradient id="gcn11" gradientUnits="userSpaceOnUse" x1="101.8" y1="0" x2="283.4" y2="0"><stop offset="0" stop-color="#ff2c2c"/><stop offset="0.12" stop-color="#fe4b31"/><stop offset="0.25" stop-color="#fd6035"/><stop offset="0.38" stop-color="#fc7038"/><stop offset="0.5" stop-color="#fb7e3c"/><stop offset="0.62" stop-color="#f98a3f"/><stop offset="0.75" stop-color="#f89542"/><stop offset="0.88" stop-color="#f79f45"/><stop offset="1" stop-color="#f6a848"/></linearGradient><linearGradient id="gcn12" gradientUnits="userSpaceOnUse" x1="101.8" y1="0" x2="283.4" y2="0"><stop offset="0" stop-color="#ff2c2c"/><stop offset="0.12" stop-color="#fa492d"/><stop offset="0.25" stop-color="#f65d2d"/><stop offset="0.38" stop-color="#f16c2e"/><stop offset="0.5" stop-color="#ec7a2e"/><stop offset="0.62" stop-color="#e7852f"/><stop offset="0.75" stop-color="#e1902f"/><stop offset="0.88" stop-color="#dc9930"/><stop offset="1" stop-color="#d6a230"/></linearGradient><linearGradient id="gcn13" gradientUnits="userSpaceOnUse" x1="101.8" y1="0" x2="283.4" y2="0"><stop offset="0" stop-color="#ff2c2c"/><stop offset="0.12" stop-color="#f13f2f"/><stop offset="0.25" stop-color="#e24c31"/><stop offset="0.38" stop-color="#d15834"/><stop offset="0.5" stop-color="#bf6136"/><stop offset="0.62" stop-color="#aa6a38"/><stop offset="0.75" stop-color="#91723a"/><stop offset="0.88" stop-color="#70793c"/><stop offset="1" stop-color="#3a803e"/></linearGradient><linearGradient id="gcn15" gradientUnits="userSpaceOnUse" x1="101.8" y1="0" x2="283.4" y2="0"><stop offset="0" stop-color="#ff2c2c"/><stop offset="0.12" stop-color="#f1592d"/><stop offset="0.25" stop-color="#e2752d"/><stop offset="0.38" stop-color="#d18a2e"/><stop offset="0.5" stop-color="#be9b2e"/><stop offset="0.62" stop-color="#a8aa2f"/><stop offset="0.75" stop-color="#8eb82f"/><stop offset="0.88" stop-color="#6cc430"/><stop offset="1" stop-color="#30d030"/></linearGradient><linearGradient id="gcn17" gradientUnits="userSpaceOnUse" x1="101.8" y1="0" x2="283.4" y2="0"><stop offset="0" stop-color="#ff2c2c"/><stop offset="0.12" stop-color="#f1323f"/><stop offset="0.25" stop-color="#e1384c"/><stop offset="0.38" stop-color="#d03c58"/><stop offset="0.5" stop-color="#bd4161"/><stop offset="0.62" stop-color="#a8456a"/><stop offset="0.75" stop-color="#8d4972"/><stop offset="0.88" stop-color="#6a4d79"/><stop offset="1" stop-color="#2a5080"/></linearGradient><linearGradient id="gcn2" gradientUnits="userSpaceOnUse" x1="101.8" y1="0" x2="283.4" y2="0"><stop offset="0" stop-color="#ff2c2c"/><stop offset="0.12" stop-color="#fb4c2e"/><stop offset="0.25" stop-color="#f76131"/><stop offset="0.38" stop-color="#f37133"/><stop offset="0.5" stop-color="#ee7f35"/><stop offset="0.62" stop-color="#ea8c37"/><stop offset="0.75" stop-color="#e59738"/><stop offset="0.88" stop-color="#e1a13a"/><stop offset="1" stop-color="#dcaa3c"/></linearGradient><linearGradient id="gcn3" gradientUnits="userSpaceOnUse" x1="101.8" y1="0" x2="283.4" y2="0"><stop offset="0" stop-color="#ff2c2c"/><stop offset="0.12" stop-color="#f15539"/><stop offset="0.25" stop-color="#e26e43"/><stop offset="0.38" stop-color="#d2824c"/><stop offset="0.5" stop-color="#bf9253"/><stop offset="0.62" stop-color="#aaa15a"/><stop offset="0.75" stop-color="#91ad61"/><stop offset="0.88" stop-color="#71b967"/><stop offset="1" stop-color="#3cc46c"/></linearGradient><linearGradient id="gcn4" gradientUnits="userSpaceOnUse" x1="101.8" y1="0" x2="283.4" y2="0"><stop offset="0" stop-color="#ff2c2c"/><stop offset="0.12" stop-color="#fb2c2e"/><stop offset="0.25" stop-color="#f62b31"/><stop offset="0.38" stop-color="#f12b33"/><stop offset="0.5" stop-color="#ed2a35"/><stop offset="0.62" stop-color="#e82a37"/><stop offset="0.75" stop-color="#e32938"/><stop offset="0.88" stop-color="#dd293a"/><stop offset="1" stop-color="#d8283c"/></linearGradient><linearGradient id="gcn5" gradientUnits="userSpaceOnUse" x1="101.8" y1="0" x2="283.4" y2="0"><stop offset="0" stop-color="#ff2c2c"/><stop offset="0.12" stop-color="#fd342c"/><stop offset="0.25" stop-color="#fb3b2c"/><stop offset="0.38" stop-color="#fa412b"/><stop offset="0.5" stop-color="#f8462b"/><stop offset="0.62" stop-color="#f64b2b"/><stop offset="0.75" stop-color="#f4502b"/><stop offset="0.88" stop-color="#f2542a"/><stop offset="1" stop-color="#f0582a"/></linearGradient><linearGradient id="gcn6" gradientUnits="userSpaceOnUse" x1="101.8" y1="0" x2="283.4" y2="0"><stop offset="0" stop-color="#ff2c2c"/><stop offset="0.12" stop-color="#f15164"/><stop offset="0.25" stop-color="#e16883"/><stop offset="0.38" stop-color="#d17a9c"/><stop offset="0.5" stop-color="#be8ab0"/><stop offset="0.62" stop-color="#a897c1"/><stop offset="0.75" stop-color="#8ea3d1"/><stop offset="0.88" stop-color="#6baedf"/><stop offset="1" stop-color="#2cb8ec"/></linearGradient><linearGradient id="gcn7" gradientUnits="userSpaceOnUse" x1="101.8" y1="0" x2="283.4" y2="0"><stop offset="0" stop-color="#ff2c2c"/><stop offset="0.12" stop-color="#fe572a"/><stop offset="0.25" stop-color="#fd7029"/><stop offset="0.38" stop-color="#fc8427"/><stop offset="0.5" stop-color="#fb9525"/><stop offset="0.62" stop-color="#f9a423"/><stop offset="0.75" stop-color="#f8b121"/><stop offset="0.88" stop-color="#f7bd1e"/><stop offset="1" stop-color="#f6c81c"/></linearGradient><linearGradient id="gcn8" gradientUnits="userSpaceOnUse" x1="101.8" y1="0" x2="283.4" y2="0"><stop offset="0" stop-color="#ff2c2c"/><stop offset="0.12" stop-color="#f72c2f"/><stop offset="0.25" stop-color="#ef2b32"/><stop offset="0.38" stop-color="#e72b35"/><stop offset="0.5" stop-color="#de2a37"/><stop offset="0.62" stop-color="#d42a39"/><stop offset="0.75" stop-color="#ca293c"/><stop offset="0.88" stop-color="#c0293e"/><stop offset="1" stop-color="#b42840"/></linearGradient><linearGradient id="gcn9" gradientUnits="userSpaceOnUse" x1="101.8" y1="0" x2="283.4" y2="0"><stop offset="0" stop-color="#ff2c2c"/><stop offset="0.12" stop-color="#fe3d2c"/><stop offset="0.25" stop-color="#fc4a2c"/><stop offset="0.38" stop-color="#fb552c"/><stop offset="0.5" stop-color="#fa5f2c"/><stop offset="0.62" stop-color="#f8672c"/><stop offset="0.75" stop-color="#f76f2c"/><stop offset="0.88" stop-color="#f5752c"/><stop offset="1" stop-color="#f47c2c"/></linearGradient><linearGradient id="gcp1" gradientUnits="userSpaceOnUse" x1="101.8" y1="0" x2="283.4" y2="0"><stop offset="0" stop-color="#3434ff"/><stop offset="0.12" stop-color="#6632f1"/><stop offset="0.25" stop-color="#8430e2"/><stop offset="0.38" stop-color="#9b2ed1"/><stop offset="0.5" stop-color="#af2bbe"/><stop offset="0.62" stop-color="#c029a8"/><stop offset="0.75" stop-color="#cf268e"/><stop offset="0.88" stop-color="#dd236c"/><stop offset="1" stop-color="#ea2030"/></linearGradient><linearGradient id="gcp11" gradientUnits="userSpaceOnUse" x1="101.8" y1="0" x2="283.4" y2="0"><stop offset="0" stop-color="#3434ff"/><stop offset="0.12" stop-color="#6a4ff1"/><stop offset="0.25" stop-color="#8a63e3"/><stop offset="0.38" stop-color="#a372d3"/><stop offset="0.5" stop-color="#b87fc1"/><stop offset="0.62" stop-color="#ca8bad"/><stop offset="0.75" stop-color="#da9595"/><stop offset="0.88" stop-color="#e89f76"/><stop offset="1" stop-color="#f6a848"/></linearGradient><linearGradient id="gcp13" gradientUnits="userSpaceOnUse" x1="101.8" y1="0" x2="283.4" y2="0"><stop offset="0" stop-color="#3434ff"/><stop offset="0.12" stop-color="#3544f1"/><stop offset="0.25" stop-color="#3650e2"/><stop offset="0.38" stop-color="#365ad2"/><stop offset="0.5" stop-color="#3763c0"/><stop offset="0.62" stop-color="#386bab"/><stop offset="0.75" stop-color="#397392"/><stop offset="0.88" stop-color="#397a72"/><stop offset="1" stop-color="#3a803e"/></linearGradient><linearGradient id="gcp15" gradientUnits="userSpaceOnUse" x1="101.8" y1="0" x2="283.4" y2="0"><stop offset="0" stop-color="#3434ff"/><stop offset="0.12" stop-color="#345df1"/><stop offset="0.25" stop-color="#3377e2"/><stop offset="0.38" stop-color="#338bd1"/><stop offset="0.5" stop-color="#329cbe"/><stop offset="0.62" stop-color="#32aba8"/><stop offset="0.75" stop-color="#31b88e"/><stop offset="0.88" stop-color="#31c56c"/><stop offset="1" stop-color="#30d030"/></linearGradient><linearGradient id="gcp17" gradientUnits="userSpaceOnUse" x1="101.8" y1="0" x2="283.4" y2="0"><stop offset="0" stop-color="#3434ff"/><stop offset="0.12" stop-color="#3338f4"/><stop offset="0.25" stop-color="#323ce8"/><stop offset="0.38" stop-color="#3140db"/><stop offset="0.5" stop-color="#2f44cd"/><stop offset="0.62" stop-color="#2e47bd"/><stop offset="0.75" stop-color="#2d4aac"/><stop offset="0.88" stop-color="#2b4d98"/><stop offset="1" stop-color="#2a5080"/></linearGradient><linearGradient id="gcp2" gradientUnits="userSpaceOnUse" x1="101.8" y1="0" x2="283.4" y2="0"><stop offset="0" stop-color="#3434ff"/><stop offset="0.12" stop-color="#6150f1"/><stop offset="0.25" stop-color="#7d64e2"/><stop offset="0.38" stop-color="#9373d2"/><stop offset="0.5" stop-color="#a581bf"/><stop offset="0.62" stop-color="#b58caa"/><stop offset="0.75" stop-color="#c39791"/><stop offset="0.88" stop-color="#d0a171"/><stop offset="1" stop-color="#dcaa3c"/></linearGradient><linearGradient id="gcp3" gradientUnits="userSpaceOnUse" x1="101.8" y1="0" x2="283.4" y2="0"><stop offset="0" stop-color="#3434ff"/><stop offset="0.12" stop-color="#3559f3"/><stop offset="0.25" stop-color="#3671e6"/><stop offset="0.38" stop-color="#3783d7"/><stop offset="0.5" stop-color="#3893c8"/><stop offset="0.62" stop-color="#39a1b6"/><stop offset="0.75" stop-color="#3aaea2"/><stop offset="0.88" stop-color="#3bb98b"/><stop offset="1" stop-color="#3cc46c"/></linearGradient><linearGradient id="gcp4" gradientUnits="userSpaceOnUse" x1="101.8" y1="0" x2="283.4" y2="0"><stop offset="0" stop-color="#3434ff"/><stop offset="0.12" stop-color="#6033f1"/><stop offset="0.25" stop-color="#7b31e2"/><stop offset="0.38" stop-color="#9030d2"/><stop offset="0.5" stop-color="#a22ebf"/><stop offset="0.62" stop-color="#b12daa"/><stop offset="0.75" stop-color="#bf2b91"/><stop offset="0.88" stop-color="#cc2a71"/><stop offset="1" stop-color="#d8283c"/></linearGradient><linearGradient id="gcp5" gradientUnits="userSpaceOnUse" x1="101.8" y1="0" x2="283.4" y2="0"><stop offset="0" stop-color="#3434ff"/><stop offset="0.12" stop-color="#683af1"/><stop offset="0.25" stop-color="#873fe1"/><stop offset="0.38" stop-color="#9f44d0"/><stop offset="0.5" stop-color="#b349bd"/><stop offset="0.62" stop-color="#c54da8"/><stop offset="0.75" stop-color="#d5518d"/><stop offset="0.88" stop-color="#e3546a"/><stop offset="1" stop-color="#f0582a"/></linearGradient><linearGradient id="gcp6" gradientUnits="userSpaceOnUse" x1="101.8" y1="0" x2="283.4" y2="0"><stop offset="0" stop-color="#3434ff"/><stop offset="0.12" stop-color="#3355fd"/><stop offset="0.25" stop-color="#326bfa"/><stop offset="0.38" stop-color="#317cf8"/><stop offset="0.5" stop-color="#308bf6"/><stop offset="0.62" stop-color="#2f98f3"/><stop offset="0.75" stop-color="#2ea3f1"/><stop offset="0.88" stop-color="#2daeee"/><stop offset="1" stop-color="#2cb8ec"/></linearGradient><linearGradient id="gcp7" gradientUnits="userSpaceOnUse" x1="101.8" y1="0" x2="283.4" y2="0"><stop offset="0" stop-color="#3434ff"/><stop offset="0.12" stop-color="#6a5af1"/><stop offset="0.25" stop-color="#8a73e1"/><stop offset="0.38" stop-color="#a386d0"/><stop offset="0.5" stop-color="#b896bc"/><stop offset="0.62" stop-color="#caa5a6"/><stop offset="0.75" stop-color="#dab18b"/><stop offset="0.88" stop-color="#e8bd67"/><stop offset="1" stop-color="#f6c81c"/></linearGradient><linearGradient id="gcp8" gradientUnits="userSpaceOnUse" x1="101.8" y1="0" x2="283.4" y2="0"><stop offset="0" stop-color="#3434ff"/><stop offset="0.12" stop-color="#5333f1"/><stop offset="0.25" stop-color="#6931e2"/><stop offset="0.38" stop-color="#7930d2"/><stop offset="0.5" stop-color="#882ec0"/><stop offset="0.62" stop-color="#942dab"/><stop offset="0.75" stop-color="#a02b92"/><stop offset="0.88" stop-color="#aa2a73"/><stop offset="1" stop-color="#b42840"/></linearGradient><linearGradient id="gcp9" gradientUnits="userSpaceOnUse" x1="101.8" y1="0" x2="283.4" y2="0"><stop offset="0" stop-color="#3434ff"/><stop offset="0.12" stop-color="#6a42f1"/><stop offset="0.25" stop-color="#894ee1"/><stop offset="0.38" stop-color="#a258d1"/><stop offset="0.5" stop-color="#b660be"/><stop offset="0.62" stop-color="#c868a8"/><stop offset="0.75" stop-color="#d86f8e"/><stop offset="0.88" stop-color="#e7766b"/><stop offset="1" stop-color="#f47c2c"/></linearGradient></defs><g fill="none" stroke-opacity="0.7"><path d="M101.8 409.57C156.28 409.57 228.92 386.25 283.4 386.25" stroke="url(#gcp1)" stroke-width="0.33"/><path d="M101.8 428.72C156.28 428.72 228.92 386.84 283.4 386.84" stroke="url(#gcp1)" stroke-width="0.79"/><path d="M101.8 413.05C156.28 413.05 228.92 622.11 283.4 622.11" stroke="url(#gcp13)" stroke-width="0.33"/><path d="M101.8 413.36C156.28 413.36 228.92 658.38 283.4 658.38" stroke="url(#gcp17)" stroke-width="0.3"/><path d="M101.8 439.66C156.28 439.66 228.92 484.57 283.4 484.57" stroke="url(#gcp4)" stroke-width="1.19"/><path d="M101.8 445.16C156.28 445.16 228.92 550.24 283.4 550.24" stroke="url(#gcp8)" stroke-width="0.99"/><path d="M101.8 662.29C156.28 662.29 228.92 646.28 283.4 646.28" stroke="url(#gcn15)" stroke-width="0.96"/><path d="M101.8 388.05C156.28 388.05 228.92 642.48 283.4 642.48" stroke="url(#gcp15)" stroke-width="0.47" stroke-opacity="0.25"/><path d="M101.8 409.91C156.28 409.91 228.92 392.26 283.4 392.26" stroke="url(#gcp1)" stroke-width="0.31"/><path d="M101.8 410.26C156.28 410.26 228.92 430.26 283.4 430.26" stroke="url(#gcp3)" stroke-width="0.35"/><path d="M101.8 410.76C156.28 410.76 228.92 443.67 283.4 443.67" stroke="url(#gcp3)" stroke-width="0.61"/><path d="M101.8 411.65C156.28 411.65 228.92 456.61 283.4 456.61" stroke="url(#gcp3)" stroke-width="0.3"/><path d="M101.8 411.3C156.28 411.3 228.92 466.71 283.4 466.71" stroke="url(#gcp3)" stroke-width="0.42"/><path d="M101.8 411.89C156.28 411.89 228.92 503.14 283.4 503.14" stroke="url(#gcp6)" stroke-width="0.3"/><path d="M101.8 412.19C156.28 412.19 228.92 533.9 283.4 533.9" stroke="url(#gcp7)" stroke-width="0.39"/><path d="M101.8 412.64C156.28 412.64 228.92 636.27 283.4 636.27" stroke="url(#gcp15)" stroke-width="0.46"/><path d="M101.8 429.36C156.28 429.36 228.92 387.37 283.4 387.37" stroke="url(#gcp1)" stroke-width="0.44"/><path d="M101.8 430.4C156.28 430.4 228.92 392.6 283.4 392.6" stroke="url(#gcp1)" stroke-width="0.62"/><path d="M101.8 429.83C156.28 429.83 228.92 403.5 283.4 403.5" stroke="url(#gcp2)" stroke-width="0.45"/><path d="M101.8 431.13C156.28 431.13 228.92 406.76 283.4 406.76" stroke="url(#gcp2)" stroke-width="0.77"/><path d="M101.8 432.99C156.28 432.99 228.92 412.24 283.4 412.24" stroke="url(#gcp2)" stroke-width="0.4"/><path d="M101.8 431.92C156.28 431.92 228.92 426.53 283.4 426.53" stroke="url(#gcp3)" stroke-width="0.71"/><path d="M101.8 433.41C156.28 433.41 228.92 430.69 283.4 430.69" stroke="url(#gcp3)" stroke-width="0.4"/><path d="M101.8 436.2C156.28 436.2 228.92 435.7 283.4 435.7" stroke="url(#gcp3)" stroke-width="0.32"/><path d="M101.8 434.42C156.28 434.42 228.92 435.13 283.4 435.13" stroke="url(#gcp3)" stroke-width="0.43"/><path d="M101.8 432.53C156.28 432.53 228.92 439.5 283.4 439.5" stroke="url(#gcp3)" stroke-width="0.46"/><path d="M101.8 435.46C156.28 435.46 228.92 444.85 283.4 444.85" stroke="url(#gcp3)" stroke-width="0.34"/><path d="M101.8 435.07C156.28 435.07 228.92 444.46 283.4 444.46" stroke="url(#gcp3)" stroke-width="0.4"/><path d="M101.8 437.09C156.28 437.09 228.92 448.44 283.4 448.44" stroke="url(#gcp3)" stroke-width="0.67"/><path d="M101.8 435.84C156.28 435.84 228.92 447.89 283.4 447.89" stroke="url(#gcp3)" stroke-width="0.37"/><path d="M101.8 438.83C156.28 438.83 228.92 452.43 283.4 452.43" stroke="url(#gcp3)" stroke-width="0.4"/><path d="M101.8 440.83C156.28 440.83 228.92 457.23 283.4 457.23" stroke="url(#gcp3)" stroke-width="0.3"/><path d="M101.8 434.01C156.28 434.01 228.92 456.97 283.4 456.97" stroke="url(#gcp3)" stroke-width="0.34"/><path d="M101.8 436.55C156.28 436.55 228.92 461.19 283.4 461.19" stroke="url(#gcp3)" stroke-width="0.35"/><path d="M101.8 433.73C156.28 433.73 228.92 460.9 283.4 460.9" stroke="url(#gcp3)" stroke-width="0.3"/><path d="M101.8 441.59C156.28 441.59 228.92 468.36 283.4 468.36" stroke="url(#gcp3)" stroke-width="0.7"/><path d="M101.8 434.75C156.28 434.75 228.92 467.24 283.4 467.24" stroke="url(#gcp3)" stroke-width="0.3"/><path d="M101.8 437.57C156.28 437.57 228.92 467.48 283.4 467.48" stroke="url(#gcp3)" stroke-width="0.3"/><path d="M101.8 438.44C156.28 438.44 228.92 467.79 283.4 467.79" stroke="url(#gcp3)" stroke-width="0.33"/><path d="M101.8 440.49C156.28 440.49 228.92 485.32 283.4 485.32" stroke="url(#gcp4)" stroke-width="0.4"/><path d="M101.8 437.98C156.28 437.98 228.92 483.76 283.4 483.76" stroke="url(#gcp4)" stroke-width="0.54"/><path d="M101.8 443.38C156.28 443.38 228.92 504.27 283.4 504.27" stroke="url(#gcp6)" stroke-width="0.61"/><path d="M101.8 441.09C156.28 441.09 228.92 503.37 283.4 503.37" stroke="url(#gcp6)" stroke-width="0.3"/><path d="M101.8 442.69C156.28 442.69 228.92 503.75 283.4 503.75" stroke="url(#gcp6)" stroke-width="0.69"/><path d="M101.8 444.43C156.28 444.43 228.92 510.9 283.4 510.9" stroke="url(#gcp6)" stroke-width="0.4"/><path d="M101.8 442.14C156.28 442.14 228.92 510.35 283.4 510.35" stroke="url(#gcp6)" stroke-width="0.35"/><path d="M101.8 443.96C156.28 443.96 228.92 516.32 283.4 516.32" stroke="url(#gcp6)" stroke-width="0.5"/><path d="M101.8 445.86C156.28 445.86 228.92 534.5 283.4 534.5" stroke="url(#gcp7)" stroke-width="0.34"/><path d="M101.8 446.38C156.28 446.38 228.92 551.14 283.4 551.14" stroke="url(#gcp8)" stroke-width="0.65"/><path d="M101.8 446.87C156.28 446.87 228.92 551.65 283.4 551.65" stroke="url(#gcp8)" stroke-width="0.3"/><path d="M101.8 447.17C156.28 447.17 228.92 595.62 283.4 595.62" stroke="url(#gcp11)" stroke-width="0.3"/><path d="M101.8 448.41C156.28 448.41 228.92 622.53 283.4 622.53" stroke="url(#gcp13)" stroke-width="0.3"/><path d="M101.8 447.48C156.28 447.48 228.92 636.91 283.4 636.91" stroke="url(#gcp15)" stroke-width="0.3"/><path d="M101.8 448.17C156.28 448.17 228.92 642.64 283.4 642.64" stroke="url(#gcp15)" stroke-width="0.3"/><path d="M101.8 447.84C156.28 447.84 228.92 658.88 283.4 658.88" stroke="url(#gcp17)" stroke-width="0.39"/><path d="M101.8 448.92C156.28 448.92 228.92 659.53 283.4 659.53" stroke="url(#gcp17)" stroke-width="0.73"/><path d="M101.8 457.88C156.28 457.88 228.92 399.08 283.4 399.08" stroke="url(#gcp2)" stroke-width="0.34"/><path d="M101.8 459.01C156.28 459.01 228.92 431 283.4 431" stroke="url(#gcp3)" stroke-width="0.36"/><path d="M101.8 458.56C156.28 458.56 228.92 449.03 283.4 449.03" stroke="url(#gcp3)" stroke-width="0.49"/><path d="M101.8 459.68C156.28 459.68 228.92 461.81 283.4 461.81" stroke="url(#gcp3)" stroke-width="0.91"/><path d="M101.8 458.18C156.28 458.18 228.92 468.86 283.4 468.86" stroke="url(#gcp3)" stroke-width="0.3"/><path d="M101.8 460.4C156.28 460.4 228.92 504.69 283.4 504.69" stroke="url(#gcp6)" stroke-width="0.46"/><path d="M101.8 460.86C156.28 460.86 228.92 546.42 283.4 546.42" stroke="url(#gcp8)" stroke-width="0.42"/><path d="M101.8 461.39C156.28 461.39 228.92 637.38 283.4 637.38" stroke="url(#gcp15)" stroke-width="0.58"/><path d="M101.8 470.31C156.28 470.31 228.92 399.4 283.4 399.4" stroke="url(#gcp2)" stroke-width="0.39"/><path d="M101.8 470.69C156.28 470.69 228.92 431.24 283.4 431.24" stroke="url(#gcp3)" stroke-width="0.33"/><path d="M101.8 471.84C156.28 471.84 228.92 439.88 283.4 439.88" stroke="url(#gcp3)" stroke-width="0.64"/><path d="M101.8 471.18C156.28 471.18 228.92 452.9 283.4 452.9" stroke="url(#gcp3)" stroke-width="0.61"/><path d="M101.8 472.67C156.28 472.67 228.92 462.58 283.4 462.58" stroke="url(#gcp3)" stroke-width="0.94"/><path d="M101.8 473.39C156.28 473.39 228.92 469.14 283.4 469.14" stroke="url(#gcp3)" stroke-width="0.43"/><path d="M101.8 474.34C156.28 474.34 228.92 505.02 283.4 505.02" stroke="url(#gcp6)" stroke-width="0.59"/><path d="M101.8 473.82C156.28 473.82 228.92 516.67 283.4 516.67" stroke="url(#gcp6)" stroke-width="0.4"/><path d="M101.8 474.89C156.28 474.89 228.92 566.36 283.4 566.36" stroke="url(#gcp9)" stroke-width="0.46"/><path d="M101.8 475.37C156.28 475.37 228.92 642.86 283.4 642.86" stroke="url(#gcp15)" stroke-width="0.45"/><path d="M101.8 485.63C156.28 485.63 228.92 388.4 283.4 388.4" stroke="url(#gcp1)" stroke-width="0.42"/><path d="M101.8 483.45C156.28 483.45 228.92 388 283.4 388" stroke="url(#gcp1)" stroke-width="0.69"/><path d="M101.8 482.94C156.28 482.94 228.92 387.65 283.4 387.65" stroke="url(#gcp1)" stroke-width="0.3"/><path d="M101.8 484.27C156.28 484.27 228.92 393 283.4 393" stroke="url(#gcp1)" stroke-width="0.87"/><path d="M101.8 487.17C156.28 487.17 228.92 399.79 283.4 399.79" stroke="url(#gcp2)" stroke-width="0.5"/><path d="M101.8 489.78C156.28 489.78 228.92 408.28 283.4 408.28" stroke="url(#gcp2)" stroke-width="0.9"/><path d="M101.8 486.16C156.28 486.16 228.92 407.52 283.4 407.52" stroke="url(#gcp2)" stroke-width="0.6"/><path d="M101.8 491.33C156.28 491.33 228.92 413.47 283.4 413.47" stroke="url(#gcp2)" stroke-width="0.49"/><path d="M101.8 488.91C156.28 488.91 228.92 412.85 283.4 412.85" stroke="url(#gcp2)" stroke-width="0.75"/><path d="M101.8 485.07C156.28 485.07 228.92 427.12 283.4 427.12" stroke="url(#gcp3)" stroke-width="0.64"/><path d="M101.8 491.87C156.28 491.87 228.92 427.59 283.4 427.59" stroke="url(#gcp3)" stroke-width="0.54"/><path d="M101.8 496.45C156.28 496.45 228.92 432.07 283.4 432.07" stroke="url(#gcp3)" stroke-width="0.38"/><path d="M101.8 486.69C156.28 486.69 228.92 431.48 283.4 431.48" stroke="url(#gcp3)" stroke-width="0.4"/><path d="M101.8 488.28C156.28 488.28 228.92 431.78 283.4 431.78" stroke="url(#gcp3)" stroke-width="0.44"/><path d="M101.8 495.6C156.28 495.6 228.92 437.5 283.4 437.5" stroke="url(#gcp3)" stroke-width="0.3"/><path d="M101.8 492.38C156.28 492.38 228.92 436.21 283.4 436.21" stroke="url(#gcp3)" stroke-width="0.43"/><path d="M101.8 493.29C156.28 493.29 228.92 436.9 283.4 436.9" stroke="url(#gcp3)" stroke-width="0.64"/><path d="M101.8 487.74C156.28 487.74 228.92 440.29 283.4 440.29" stroke="url(#gcp3)" stroke-width="0.59"/><path d="M101.8 490.66C156.28 490.66 228.92 440.78 283.4 440.78" stroke="url(#gcp3)" stroke-width="0.77"/><path d="M101.8 498.98C156.28 498.98 228.92 445.89 283.4 445.89" stroke="url(#gcp3)" stroke-width="0.47"/><path d="M101.8 492.78C156.28 492.78 228.92 445.18 283.4 445.18" stroke="url(#gcp3)" stroke-width="0.33"/><path d="M101.8 495.23C156.28 495.23 228.92 445.5 283.4 445.5" stroke="url(#gcp3)" stroke-width="0.4"/><path d="M101.8 497.58C156.28 497.58 228.92 450.33 283.4 450.33" stroke="url(#gcp3)" stroke-width="0.6"/><path d="M101.8 493.85C156.28 493.85 228.92 449.46 283.4 449.46" stroke="url(#gcp3)" stroke-width="0.44"/><path d="M101.8 496C156.28 496 228.92 449.86 283.4 449.86" stroke="url(#gcp3)" stroke-width="0.47"/><path d="M101.8 498.1C156.28 498.1 228.92 453.34 283.4 453.34" stroke="url(#gcp3)" stroke-width="0.39"/><path d="M101.8 500.51C156.28 500.51 228.92 453.98 283.4 453.98" stroke="url(#gcp3)" stroke-width="0.92"/><path d="M101.8 502.63C156.28 502.63 228.92 458.49 283.4 458.49" stroke="url(#gcp3)" stroke-width="0.43"/><path d="M101.8 494.55C156.28 494.55 228.92 457.67 283.4 457.67" stroke="url(#gcp3)" stroke-width="0.89"/><path d="M101.8 498.52C156.28 498.52 228.92 458.17 283.4 458.17" stroke="url(#gcp3)" stroke-width="0.41"/><path d="M101.8 502.24C156.28 502.24 228.92 463.44 283.4 463.44" stroke="url(#gcp3)" stroke-width="0.3"/><path d="M101.8 505.72C156.28 505.72 228.92 463.84 283.4 463.84" stroke="url(#gcp3)" stroke-width="0.59"/><path d="M101.8 499.46C156.28 499.46 228.92 463.11 283.4 463.11" stroke="url(#gcp3)" stroke-width="0.44"/><path d="M101.8 501.82C156.28 501.82 228.92 470.08 283.4 470.08" stroke="url(#gcp3)" stroke-width="0.51"/><path d="M101.8 503.35C156.28 503.35 228.92 470.76 283.4 470.76" stroke="url(#gcp3)" stroke-width="0.93"/><path d="M101.8 504.05C156.28 504.05 228.92 471.38 283.4 471.38" stroke="url(#gcp3)" stroke-width="0.39"/><path d="M101.8 506.23C156.28 506.23 228.92 472.3 283.4 472.3" stroke="url(#gcp3)" stroke-width="0.39"/><path d="M101.8 507.24C156.28 507.24 228.92 472.71 283.4 472.71" stroke="url(#gcp3)" stroke-width="0.49"/><path d="M101.8 507.61C156.28 507.61 228.92 473.04 283.4 473.04" stroke="url(#gcp3)" stroke-width="0.3"/><path d="M101.8 496.96C156.28 496.96 228.92 469.58 283.4 469.58" stroke="url(#gcp3)" stroke-width="0.58"/><path d="M101.8 504.57C156.28 504.57 228.92 471.84 283.4 471.84" stroke="url(#gcp3)" stroke-width="0.6"/><path d="M101.8 505.14C156.28 505.14 228.92 486.37 283.4 486.37" stroke="url(#gcp4)" stroke-width="0.5"/><path d="M101.8 501.27C156.28 501.27 228.92 485.96 283.4 485.96" stroke="url(#gcp4)" stroke-width="0.53"/><path d="M101.8 499.86C156.28 499.86 228.92 485.63 283.4 485.63" stroke="url(#gcp4)" stroke-width="0.31"/><path d="M101.8 510.18C156.28 510.18 228.92 494.44 283.4 494.44" stroke="url(#gcp5)" stroke-width="0.3"/><path d="M101.8 510.6C156.28 510.6 228.92 506.38 283.4 506.38" stroke="url(#gcp6)" stroke-width="0.5"/><path d="M101.8 509.42C156.28 509.42 228.92 506.06 283.4 506.06" stroke="url(#gcp6)" stroke-width="0.44"/><path d="M101.8 508.41C156.28 508.41 228.92 505.73 283.4 505.73" stroke="url(#gcp6)" stroke-width="0.55"/><path d="M101.8 506.71C156.28 506.71 228.92 505.36 283.4 505.36" stroke="url(#gcp6)" stroke-width="0.52"/><path d="M101.8 512.6C156.28 512.6 228.92 513.37 283.4 513.37" stroke="url(#gcp6)" stroke-width="0.58"/><path d="M101.8 511.24C156.28 511.24 228.92 512.56 283.4 512.56" stroke="url(#gcp6)" stroke-width="0.72"/><path d="M101.8 507.92C156.28 507.92 228.92 511.43 283.4 511.43" stroke="url(#gcp6)" stroke-width="0.38"/><path d="M101.8 509.84C156.28 509.84 228.92 511.89 283.4 511.89" stroke="url(#gcp6)" stroke-width="0.36"/><path d="M101.8 513.58C156.28 513.58 228.92 517.3 283.4 517.3" stroke="url(#gcp6)" stroke-width="0.38"/><path d="M101.8 508.95C156.28 508.95 228.92 516.98 283.4 516.98" stroke="url(#gcp6)" stroke-width="0.47"/><path d="M101.8 511.77C156.28 511.77 228.92 534.84 283.4 534.84" stroke="url(#gcp7)" stroke-width="0.3"/><path d="M101.8 513.14C156.28 513.14 228.92 546.65 283.4 546.65" stroke="url(#gcp8)" stroke-width="0.46"/><path d="M101.8 513.92C156.28 513.92 228.92 552.25 283.4 552.25" stroke="url(#gcp8)" stroke-width="0.3"/><path d="M101.8 512.11C156.28 512.11 228.92 551.97 283.4 551.97" stroke="url(#gcp8)" stroke-width="0.34"/><path d="M101.8 514.8C156.28 514.8 228.92 552.57 283.4 552.57" stroke="url(#gcp8)" stroke-width="0.42"/><path d="M101.8 514.32C156.28 514.32 228.92 566.74 283.4 566.74" stroke="url(#gcp9)" stroke-width="0.5"/><path d="M101.8 516.32C156.28 516.32 228.92 623.41 283.4 623.41" stroke="url(#gcp13)" stroke-width="0.67"/><path d="M101.8 515.3C156.28 515.3 228.92 622.89 283.4 622.89" stroke="url(#gcp13)" stroke-width="0.53"/><path d="M101.8 517.07C156.28 517.07 228.92 624.04 283.4 624.04" stroke="url(#gcp13)" stroke-width="0.39"/><path d="M101.8 516.77C156.28 516.77 228.92 623.79 283.4 623.79" stroke="url(#gcp13)" stroke-width="0.3"/><path d="M101.8 517.97C156.28 517.97 228.92 637.9 283.4 637.9" stroke="url(#gcp15)" stroke-width="0.44"/><path d="M101.8 515.77C156.28 515.77 228.92 643.11 283.4 643.11" stroke="url(#gcp15)" stroke-width="0.37"/><path d="M101.8 518.65C156.28 518.65 228.92 643.53 283.4 643.53" stroke="url(#gcp15)" stroke-width="0.85"/><path d="M101.8 519.35C156.28 519.35 228.92 660.62 283.4 660.62" stroke="url(#gcp17)" stroke-width="0.48"/><path d="M101.8 517.51C156.28 517.51 228.92 660.17 283.4 660.17" stroke="url(#gcp17)" stroke-width="0.44"/><path d="M101.8 544.98C156.28 544.98 228.92 388.85 283.4 388.85" stroke="url(#gcn1)" stroke-width="0.72"/><path d="M101.8 545.55C156.28 545.55 228.92 400.23 283.4 400.23" stroke="url(#gcn2)" stroke-width="0.37"/><path d="M101.8 546.06C156.28 546.06 228.92 414.05 283.4 414.05" stroke="url(#gcn2)" stroke-width="0.6"/><path d="M101.8 546.53C156.28 546.53 228.92 432.33 283.4 432.33" stroke="url(#gcn3)" stroke-width="0.3"/><path d="M101.8 546.93C156.28 546.93 228.92 480.34 283.4 480.34" stroke="url(#gcn4)" stroke-width="0.45"/><path d="M101.8 547.46C156.28 547.46 228.92 506.77 283.4 506.77" stroke="url(#gcn6)" stroke-width="0.56"/><path d="M101.8 548.39C156.28 548.39 228.92 535.65 283.4 535.65" stroke="url(#gcn7)" stroke-width="0.62"/><path d="M101.8 547.91C156.28 547.91 228.92 535.14 283.4 535.14" stroke="url(#gcn7)" stroke-width="0.3"/><path d="M101.8 549.23C156.28 549.23 228.92 547.05 283.4 547.05" stroke="url(#gcn8)" stroke-width="0.97"/><path d="M101.8 550.37C156.28 550.37 228.92 553.01 283.4 553.01" stroke="url(#gcn8)" stroke-width="0.47"/><path d="M101.8 550.95C156.28 550.95 228.92 567.27 283.4 567.27" stroke="url(#gcn9)" stroke-width="0.62"/><path d="M101.8 549.93C156.28 549.93 228.92 575.02 283.4 575.02" stroke="url(#gcn9)" stroke-width="0.37"/><path d="M101.8 551.48C156.28 551.48 228.92 595.89 283.4 595.89" stroke="url(#gcn11)" stroke-width="0.4"/><path d="M101.8 552.35C156.28 552.35 228.92 638.28 283.4 638.28" stroke="url(#gcn15)" stroke-width="0.3"/><path d="M101.8 551.95C156.28 551.95 228.92 644.01 283.4 644.01" stroke="url(#gcn15)" stroke-width="0.48"/><path d="M101.8 562.61C156.28 562.61 228.92 389.21 283.4 389.21" stroke="url(#gcn1)" stroke-width="0.3"/><path d="M101.8 565C156.28 565 228.92 400.71 283.4 400.71" stroke="url(#gcn2)" stroke-width="0.66"/><path d="M101.8 565.58C156.28 565.58 228.92 403.68 283.4 403.68" stroke="url(#gcn2)" stroke-width="0.46"/><path d="M101.8 564.44C156.28 564.44 228.92 408.91 283.4 408.91" stroke="url(#gcn2)" stroke-width="0.38"/><path d="M101.8 566.08C156.28 566.08 228.92 415.14 283.4 415.14" stroke="url(#gcn2)" stroke-width="0.48"/><path d="M101.8 563.93C156.28 563.93 228.92 414.66 283.4 414.66" stroke="url(#gcn2)" stroke-width="0.59"/><path d="M101.8 563.17C156.28 563.17 228.92 432.72 283.4 432.72" stroke="url(#gcn3)" stroke-width="0.86"/><path d="M101.8 566.55C156.28 566.55 228.92 454.61 283.4 454.61" stroke="url(#gcn3)" stroke-width="0.42"/><path d="M101.8 567.64C156.28 567.64 228.92 480.94 283.4 480.94" stroke="url(#gcn4)" stroke-width="0.44"/><path d="M101.8 566.95C156.28 566.95 228.92 486.7 283.4 486.7" stroke="url(#gcn4)" stroke-width="0.35"/><path d="M101.8 567.28C156.28 567.28 228.92 494.87 283.4 494.87" stroke="url(#gcn5)" stroke-width="0.3"/><path d="M101.8 570.06C156.28 570.06 228.92 517.57 283.4 517.57" stroke="url(#gcn6)" stroke-width="0.36"/><path d="M101.8 572.46C156.28 572.46 228.92 529.5 283.4 529.5" stroke="url(#gcn7)" stroke-width="0.43"/><path d="M101.8 568.86C156.28 568.86 228.92 536.82 283.4 536.82" stroke="url(#gcn7)" stroke-width="0.41"/><path d="M101.8 568.26C156.28 568.26 228.92 536.31 283.4 536.31" stroke="url(#gcn7)" stroke-width="0.73"/><path d="M101.8 570.47C156.28 570.47 228.92 537.85 283.4 537.85" stroke="url(#gcn7)" stroke-width="0.41"/><path d="M101.8 569.47C156.28 569.47 228.92 537.33 283.4 537.33" stroke="url(#gcn7)" stroke-width="0.75"/><path d="M101.8 573.81C156.28 573.81 228.92 547.39 283.4 547.39" stroke="url(#gcn8)" stroke-width="0.3"/><path d="M101.8 571.95C156.28 571.95 228.92 553.49 283.4 553.49" stroke="url(#gcn8)" stroke-width="0.55"/><path d="M101.8 573.45C156.28 573.45 228.92 553.89 283.4 553.89" stroke="url(#gcn8)" stroke-width="0.4"/><path d="M101.8 571.17C156.28 571.17 228.92 567.95 283.4 567.95" stroke="url(#gcn9)" stroke-width="0.93"/><path d="M101.8 574.77C156.28 574.77 228.92 568.94 283.4 568.94" stroke="url(#gcn9)" stroke-width="0.5"/><path d="M101.8 572.96C156.28 572.96 228.92 568.53 283.4 568.53" stroke="url(#gcn9)" stroke-width="0.52"/><path d="M101.8 574.23C156.28 574.23 228.92 575.48 283.4 575.48" stroke="url(#gcn9)" stroke-width="0.52"/><path d="M101.8 576.41C156.28 576.41 228.92 591.63 283.4 591.63" stroke="url(#gcn11)" stroke-width="0.45"/><path d="M101.8 575.9C156.28 575.9 228.92 596.57 283.4 596.57" stroke="url(#gcn11)" stroke-width="0.53"/><path d="M101.8 575.33C156.28 575.33 228.92 596.23 283.4 596.23" stroke="url(#gcn11)" stroke-width="0.55"/><path d="M101.8 577.53C156.28 577.53 228.92 624.38 283.4 624.38" stroke="url(#gcn13)" stroke-width="0.42"/><path d="M101.8 576.98C156.28 576.98 228.92 638.71 283.4 638.71" stroke="url(#gcn15)" stroke-width="0.63"/><path d="M101.8 578.67C156.28 578.67 228.92 644.75 283.4 644.75" stroke="url(#gcn15)" stroke-width="0.67"/><path d="M101.8 578.03C156.28 578.03 228.92 644.37 283.4 644.37" stroke="url(#gcn15)" stroke-width="0.54"/><path d="M101.8 579.16C156.28 579.16 228.92 660.98 283.4 660.98" stroke="url(#gcn17)" stroke-width="0.3"/><path d="M101.8 593.05C156.28 593.05 228.92 409.23 283.4 409.23" stroke="url(#gcn2)" stroke-width="0.3"/><path d="M101.8 593.5C156.28 593.5 228.92 507.2 283.4 507.2" stroke="url(#gcn6)" stroke-width="0.58"/><path d="M101.8 593.94C156.28 593.94 228.92 554.19 283.4 554.19" stroke="url(#gcn8)" stroke-width="0.3"/><path d="M101.8 594.44C156.28 594.44 228.92 624.85 283.4 624.85" stroke="url(#gcn13)" stroke-width="0.68"/><path d="M101.8 612.26C156.28 612.26 228.92 389.49 283.4 389.49" stroke="url(#gcn1)" stroke-width="0.6"/><path d="M101.8 613.22C156.28 613.22 228.92 401.15 283.4 401.15" stroke="url(#gcn2)" stroke-width="0.35"/><path d="M101.8 611.72C156.28 611.72 228.92 409.58 283.4 409.58" stroke="url(#gcn2)" stroke-width="0.42"/><path d="M101.8 612.8C156.28 612.8 228.92 415.57 283.4 415.57" stroke="url(#gcn2)" stroke-width="0.44"/><path d="M101.8 613.53C156.28 613.53 228.92 473.25 283.4 473.25" stroke="url(#gcn3)" stroke-width="0.3"/><path d="M101.8 613.87C156.28 613.87 228.92 495.38 283.4 495.38" stroke="url(#gcn5)" stroke-width="0.39"/><path d="M101.8 614.59C156.28 614.59 228.92 530.17 283.4 530.17" stroke="url(#gcn7)" stroke-width="0.99"/><path d="M101.8 616.76C156.28 616.76 228.92 538.75 283.4 538.75" stroke="url(#gcn7)" stroke-width="0.63"/><path d="M101.8 615.36C156.28 615.36 228.92 538.24 283.4 538.24" stroke="url(#gcn7)" stroke-width="0.47"/><path d="M101.8 616.27C156.28 616.27 228.92 547.53 283.4 547.53" stroke="url(#gcn8)" stroke-width="0.31"/><path d="M101.8 615.85C156.28 615.85 228.92 554.53 283.4 554.53" stroke="url(#gcn8)" stroke-width="0.48"/><path d="M101.8 617.41C156.28 617.41 228.92 569.39 283.4 569.39" stroke="url(#gcn9)" stroke-width="0.61"/><path d="M101.8 618.45C156.28 618.45 228.92 569.81 283.4 569.81" stroke="url(#gcn9)" stroke-width="0.4"/><path d="M101.8 617.99C156.28 617.99 228.92 592.34 283.4 592.34" stroke="url(#gcn11)" stroke-width="0.48"/><path d="M101.8 618.95C156.28 618.95 228.92 609.5 283.4 609.5" stroke="url(#gcn12)" stroke-width="0.54"/><path d="M101.8 619.54C156.28 619.54 228.92 639.26 283.4 639.26" stroke="url(#gcn15)" stroke-width="0.58"/><path d="M101.8 620.07C156.28 620.07 228.92 645.1 283.4 645.1" stroke="url(#gcn15)" stroke-width="0.43"/><path d="M101.8 634.29C156.28 634.29 228.92 393.25 283.4 393.25" stroke="url(#gcn1)" stroke-width="0.3"/><path d="M101.8 634.71C156.28 634.71 228.92 403.88 283.4 403.88" stroke="url(#gcn2)" stroke-width="0.62"/><path d="M101.8 635.25C156.28 635.25 228.92 409.99 283.4 409.99" stroke="url(#gcn2)" stroke-width="0.41"/><path d="M101.8 635.83C156.28 635.83 228.92 416.14 283.4 416.14" stroke="url(#gcn2)" stroke-width="0.69"/><path d="M101.8 636.64C156.28 636.64 228.92 441.38 283.4 441.38" stroke="url(#gcn3)" stroke-width="0.84"/><path d="M101.8 637.27C156.28 637.27 228.92 473.53 283.4 473.53" stroke="url(#gcn3)" stroke-width="0.35"/><path d="M101.8 637.81C156.28 637.81 228.92 487.11 283.4 487.11" stroke="url(#gcn4)" stroke-width="0.68"/><path d="M101.8 639.22C156.28 639.22 228.92 514.02 283.4 514.02" stroke="url(#gcn6)" stroke-width="0.43"/><path d="M101.8 638.34C156.28 638.34 228.92 530.82 283.4 530.82" stroke="url(#gcn7)" stroke-width="0.34"/><path d="M101.8 639.61C156.28 639.61 228.92 539.65 283.4 539.65" stroke="url(#gcn7)" stroke-width="0.3"/><path d="M101.8 638.76C156.28 638.76 228.92 539.27 283.4 539.27" stroke="url(#gcn7)" stroke-width="0.45"/><path d="M101.8 640.31C156.28 640.31 228.92 547.75 283.4 547.75" stroke="url(#gcn8)" stroke-width="0.56"/><path d="M101.8 639.89C156.28 639.89 228.92 554.86 283.4 554.86" stroke="url(#gcn8)" stroke-width="0.3"/><path d="M101.8 640.94C156.28 640.94 228.92 570.27 283.4 570.27" stroke="url(#gcn9)" stroke-width="0.64"/><path d="M101.8 641.62C156.28 641.62 228.92 570.86 283.4 570.86" stroke="url(#gcn9)" stroke-width="0.65"/><path d="M101.8 642.84C156.28 642.84 228.92 571.42 283.4 571.42" stroke="url(#gcn9)" stroke-width="0.58"/><path d="M101.8 643.38C156.28 643.38 228.92 593.11 283.4 593.11" stroke="url(#gcn11)" stroke-width="0.46"/><path d="M101.8 642.24C156.28 642.24 228.92 596.93 283.4 596.93" stroke="url(#gcn11)" stroke-width="0.54"/><path d="M101.8 643.87C156.28 643.87 228.92 625.38 283.4 625.38" stroke="url(#gcn13)" stroke-width="0.48"/><path d="M101.8 644.7C156.28 644.7 228.92 639.68 283.4 639.68" stroke="url(#gcn15)" stroke-width="0.3"/><path d="M101.8 645.23C156.28 645.23 228.92 645.5 283.4 645.5" stroke="url(#gcn15)" stroke-width="0.71"/><path d="M101.8 644.33C156.28 644.33 228.92 661.3 283.4 661.3" stroke="url(#gcn17)" stroke-width="0.39"/><path d="M101.8 656.19C156.28 656.19 228.92 389.85 283.4 389.85" stroke="url(#gcn1)" stroke-width="0.44"/><path d="M101.8 655.41C156.28 655.41 228.92 410.4 283.4 410.4" stroke="url(#gcn2)" stroke-width="0.41"/><path d="M101.8 655.79C156.28 655.79 228.92 416.65 283.4 416.65" stroke="url(#gcn2)" stroke-width="0.31"/><path d="M101.8 656.74C156.28 656.74 228.92 458.88 283.4 458.88" stroke="url(#gcn3)" stroke-width="0.61"/><path d="M101.8 657.23C156.28 657.23 228.92 495.94 283.4 495.94" stroke="url(#gcn5)" stroke-width="0.32"/><path d="M101.8 658.15C156.28 658.15 228.92 531.25 283.4 531.25" stroke="url(#gcn7)" stroke-width="0.52"/><path d="M101.8 658.68C156.28 658.68 228.92 540.47 283.4 540.47" stroke="url(#gcn7)" stroke-width="0.49"/><path d="M101.8 657.63C156.28 657.63 228.92 540.02 283.4 540.02" stroke="url(#gcn7)" stroke-width="0.46"/><path d="M101.8 659.3C156.28 659.3 228.92 555.29 283.4 555.29" stroke="url(#gcn8)" stroke-width="0.69"/><path d="M101.8 659.92C156.28 659.92 228.92 571.89 283.4 571.89" stroke="url(#gcn9)" stroke-width="0.49"/><path d="M101.8 660.32C156.28 660.32 228.92 575.86 283.4 575.86" stroke="url(#gcn9)" stroke-width="0.3"/><path d="M101.8 660.76C156.28 660.76 228.92 597.31 283.4 597.31" stroke="url(#gcn11)" stroke-width="0.56"/><path d="M101.8 661.26C156.28 661.26 228.92 640.02 283.4 640.02" stroke="url(#gcn15)" stroke-width="0.39"/><path d="M101.8 661.63C156.28 661.63 228.92 645.86 283.4 645.86" stroke="url(#gcn15)" stroke-width="0.3"/></g><rect x="97.3" y="387.55" width="4.5" height="1" fill="#45455a"/><text x="42.8" y="392.5" font-size="9" font-weight="bold" fill="#111">WF</text><text x="71.3" y="391.8" font-size="8.2" font-weight="bold" fill="#111">0.02</text><rect x="97.5" y="409.6" width="4.1" height="3.7" fill="#2e2ef6" stroke="#1c1c8c" stroke-width="0.45"/><text x="42.8" y="415.9" font-size="9" font-weight="bold" fill="#111">EF</text><text x="71.3" y="415.2" font-size="8.2" font-weight="bold" fill="#111">1.1</text><rect x="97.5" y="428.5" width="4.1" height="20.6" fill="#2e2ef6" stroke="#1c1c8c" stroke-width="0.45"/><text x="42.8" y="443.4" font-size="9" font-weight="bold" fill="#111">CF</text><text x="71.3" y="442.7" font-size="8.2" font-weight="bold" fill="#111">5.8</text><rect x="97.5" y="457.9" width="4.1" height="3.6" fill="#2e2ef6" stroke="#1c1c8c" stroke-width="0.45"/><text x="42.8" y="463.7" font-size="9" font-weight="bold" fill="#111">MF</text><text x="71.3" y="463" font-size="8.2" font-weight="bold" fill="#111">1.1</text><rect x="97.5" y="470.3" width="4.1" height="5.1" fill="#2e2ef6" stroke="#1c1c8c" stroke-width="0.45"/><text x="42.8" y="477.5" font-size="9" font-weight="bold" fill="#111">NF</text><text x="71.3" y="476.8" font-size="8.2" font-weight="bold" fill="#111">1.5</text><rect x="97.5" y="483" width="4.1" height="36.4" fill="#2e2ef6" stroke="#1c1c8c" stroke-width="0.45"/><text x="42.8" y="501.1" font-size="9" font-weight="bold" fill="#111">LF</text><text x="71.3" y="500.4" font-size="8.2" font-weight="bold" fill="#111">10.3</text><rect x="97.5" y="544.8" width="4.1" height="7.5" fill="#fa2e2e" stroke="#9a1c1c" stroke-width="0.45"/><text x="42.8" y="553" font-size="9" font-weight="bold" fill="#111">WF</text><text x="71.3" y="552.3" font-size="8.2" font-weight="bold" fill="#111">2.2</text><rect x="97.5" y="562.7" width="4.1" height="16.4" fill="#fa2e2e" stroke="#9a1c1c" stroke-width="0.45"/><text x="42.8" y="574.5" font-size="9" font-weight="bold" fill="#111">EF</text><text x="71.3" y="573.8" font-size="8.2" font-weight="bold" fill="#111">4.6</text><rect x="97.5" y="593.1" width="4.1" height="1.5" fill="#fa2e2e" stroke="#9a1c1c" stroke-width="0.45"/><text x="42.8" y="598.4" font-size="9" font-weight="bold" fill="#111">CF</text><text x="71.3" y="597.7" font-size="8.2" font-weight="bold" fill="#111">0.7</text><rect x="97.5" y="611.7" width="4.1" height="8.4" fill="#fa2e2e" stroke="#9a1c1c" stroke-width="0.45"/><text x="42.8" y="619.4" font-size="9" font-weight="bold" fill="#111">MF</text><text x="71.3" y="618.7" font-size="8.2" font-weight="bold" fill="#111">2.3</text><rect x="97.5" y="634.4" width="4.1" height="11" fill="#fa2e2e" stroke="#9a1c1c" stroke-width="0.45"/><text x="42.8" y="643.7" font-size="9" font-weight="bold" fill="#111">NF</text><text x="71.3" y="643" font-size="8.2" font-weight="bold" fill="#111">3.0</text><rect x="97.5" y="655.4" width="4.1" height="7.2" fill="#fa2e2e" stroke="#9a1c1c" stroke-width="0.45"/><text x="42.8" y="662.8" font-size="9" font-weight="bold" fill="#111">LF</text><text x="71.3" y="662.1" font-size="8.2" font-weight="bold" fill="#111">1.9</text><rect x="283.65" y="386.25" width="3.3" height="3.5" rx="0.4" fill="#ea2030" stroke="#80111a" stroke-width="0.5"/><text x="287.7" y="389.72" font-size="4.3" font-weight="bold" fill="#111" textLength="17.3" lengthAdjust="spacingAndGlyphs" stroke="#111" stroke-width="0.12">Target1.1</text><rect x="283.4" y="392.1" width="3.8" height="1.2" fill="#a31621"/><text x="287.7" y="394.06" font-size="3.4" font-weight="bold" fill="#111" textLength="14.2" lengthAdjust="spacingAndGlyphs">Target1.a</text><rect x="283.65" y="399.15" width="3.3" height="1.9" rx="0.4" fill="#dcaa3c" stroke="#795d21" stroke-width="0.5"/><text x="287.7" y="401.82" font-size="4.3" font-weight="bold" fill="#111" textLength="17.3" lengthAdjust="spacingAndGlyphs" stroke="#111" stroke-width="0.12">Target2.1</text><rect x="283.4" y="403.4" width="3.8" height="0.8" fill="#9a762a"/><text x="287.7" y="405.06" font-size="3.4" font-weight="bold" fill="#111" textLength="14.2" lengthAdjust="spacingAndGlyphs">Target2.2</text><rect x="283.65" y="406.55" width="3.3" height="3.8" rx="0.4" fill="#dcaa3c" stroke="#795d21" stroke-width="0.5"/><text x="287.7" y="410.17" font-size="4.3" font-weight="bold" fill="#111" textLength="17.3" lengthAdjust="spacingAndGlyphs" stroke="#111" stroke-width="0.12">Target2.3</text><rect x="283.65" y="412.25" width="3.3" height="4.3" rx="0.4" fill="#dcaa3c" stroke="#795d21" stroke-width="0.5"/><text x="287.7" y="416.12" font-size="4.3" font-weight="bold" fill="#111" textLength="17.3" lengthAdjust="spacingAndGlyphs" stroke="#111" stroke-width="0.12">Target2.4</text><rect x="283.65" y="426.45" width="3.3" height="1.1" rx="0.4" fill="#3cc46c" stroke="#216b3b" stroke-width="0.5"/><text x="287.7" y="428.36" font-size="3.4" font-weight="bold" fill="#111" textLength="14.2" lengthAdjust="spacingAndGlyphs">Target3.1</text><rect x="283.65" y="430.25" width="3.3" height="2.5" rx="0.4" fill="#3cc46c" stroke="#216b3b" stroke-width="0.5"/><text x="287.7" y="433.22" font-size="4.3" font-weight="bold" fill="#111" textLength="17.3" lengthAdjust="spacingAndGlyphs" stroke="#111" stroke-width="0.12">Target3.2</text><rect x="283.65" y="435.05" width="3.3" height="2.4" rx="0.4" fill="#3cc46c" stroke="#216b3b" stroke-width="0.5"/><text x="287.7" y="437.97" font-size="4.3" font-weight="bold" fill="#111" textLength="17.3" lengthAdjust="spacingAndGlyphs" stroke="#111" stroke-width="0.12">Target3.3</text><rect x="283.65" y="439.55" width="3.3" height="1.9" rx="0.4" fill="#3cc46c" stroke="#216b3b" stroke-width="0.5"/><text x="287.7" y="442.22" font-size="4.3" font-weight="bold" fill="#111" textLength="17.3" lengthAdjust="spacingAndGlyphs" stroke="#111" stroke-width="0.12">Target3.4</text><rect x="283.65" y="443.35" width="3.3" height="2.5" rx="0.4" fill="#3cc46c" stroke="#216b3b" stroke-width="0.5"/><text x="287.7" y="446.32" font-size="4.3" font-weight="bold" fill="#111" textLength="17.3" lengthAdjust="spacingAndGlyphs" stroke="#111" stroke-width="0.12">Target3.5</text><rect x="283.65" y="447.95" width="3.3" height="2.4" rx="0.4" fill="#3cc46c" stroke="#216b3b" stroke-width="0.5"/><text x="287.7" y="450.87" font-size="4.3" font-weight="bold" fill="#111" textLength="17.3" lengthAdjust="spacingAndGlyphs" stroke="#111" stroke-width="0.12">Target3.6</text><rect x="283.65" y="452.45" width="3.3" height="2.1" rx="0.4" fill="#3cc46c" stroke="#216b3b" stroke-width="0.5"/><text x="287.7" y="455.22" font-size="4.3" font-weight="bold" fill="#111" textLength="17.3" lengthAdjust="spacingAndGlyphs" stroke="#111" stroke-width="0.12">Target3.7</text><rect x="283.65" y="456.65" width="3.3" height="2.2" rx="0.4" fill="#3cc46c" stroke="#216b3b" stroke-width="0.5"/><text x="287.7" y="459.47" font-size="4.3" font-weight="bold" fill="#111" textLength="17.3" lengthAdjust="spacingAndGlyphs" stroke="#111" stroke-width="0.12">Target3.8</text><rect x="283.65" y="461.05" width="3.3" height="2.8" rx="0.4" fill="#3cc46c" stroke="#216b3b" stroke-width="0.5"/><text x="287.7" y="464.17" font-size="4.3" font-weight="bold" fill="#111" textLength="17.3" lengthAdjust="spacingAndGlyphs" stroke="#111" stroke-width="0.12">Target3.9</text><rect x="283.65" y="466.55" width="3.3" height="6.9" rx="0.4" fill="#3cc46c" stroke="#216b3b" stroke-width="0.5"/><text x="287.7" y="471.72" font-size="4.3" font-weight="bold" fill="#111" textLength="17.3" lengthAdjust="spacingAndGlyphs" stroke="#111" stroke-width="0.12">Target3.b</text><rect x="283.4" y="480" width="3.8" height="1.2" fill="#971c2a"/><text x="287.7" y="481.96" font-size="3.4" font-weight="bold" fill="#111" textLength="14.2" lengthAdjust="spacingAndGlyphs">Target4.1</text><rect x="283.65" y="483.75" width="3.3" height="3.4" rx="0.4" fill="#d8283c" stroke="#761621" stroke-width="0.5"/><text x="287.7" y="487.17" font-size="4.3" font-weight="bold" fill="#111" textLength="17.3" lengthAdjust="spacingAndGlyphs" stroke="#111" stroke-width="0.12">Target4.5</text><rect x="283.65" y="494.45" width="3.3" height="1.5" rx="0.4" fill="#f0582a" stroke="#843017" stroke-width="0.5"/><text x="287.7" y="496.92" font-size="4.3" font-weight="bold" fill="#111" textLength="17.3" lengthAdjust="spacingAndGlyphs" stroke="#111" stroke-width="0.12">Target5.5</text><rect x="283.65" y="503.25" width="3.3" height="3.9" rx="0.4" fill="#2cb8ec" stroke="#186581" stroke-width="0.5"/><text x="287.7" y="506.92" font-size="4.3" font-weight="bold" fill="#111" textLength="17.3" lengthAdjust="spacingAndGlyphs" stroke="#111" stroke-width="0.12">Target6.1</text><rect x="283.65" y="510.35" width="3.3" height="3.7" rx="0.4" fill="#2cb8ec" stroke="#186581" stroke-width="0.5"/><text x="287.7" y="513.92" font-size="4.3" font-weight="bold" fill="#111" textLength="17.3" lengthAdjust="spacingAndGlyphs" stroke="#111" stroke-width="0.12">Target6.2</text><rect x="283.65" y="516.35" width="3.3" height="1.1" rx="0.4" fill="#2cb8ec" stroke="#186581" stroke-width="0.5"/><text x="287.7" y="518.26" font-size="3.4" font-weight="bold" fill="#111" textLength="14.2" lengthAdjust="spacingAndGlyphs">Target6.4</text><rect x="283.65" y="529.55" width="3.3" height="1.7" rx="0.4" fill="#f6c81c" stroke="#876e0f" stroke-width="0.5"/><text x="287.7" y="532.12" font-size="4.3" font-weight="bold" fill="#111" textLength="17.3" lengthAdjust="spacingAndGlyphs" stroke="#111" stroke-width="0.12">Target7.1</text><rect x="283.65" y="533.75" width="3.3" height="6.7" rx="0.4" fill="#f6c81c" stroke="#876e0f" stroke-width="0.5"/><text x="287.7" y="538.82" font-size="4.3" font-weight="bold" fill="#111" textLength="17.3" lengthAdjust="spacingAndGlyphs" stroke="#111" stroke-width="0.12">Target7.2</text><rect x="283.65" y="546.55" width="3.3" height="1.1" rx="0.4" fill="#b42840" stroke="#631623" stroke-width="0.5"/><text x="287.7" y="548.46" font-size="3.4" font-weight="bold" fill="#111" textLength="14.2" lengthAdjust="spacingAndGlyphs">Target8.1</text><rect x="283.65" y="549.95" width="3.3" height="5.4" rx="0.4" fill="#b42840" stroke="#631623" stroke-width="0.5"/><text x="287.7" y="554.37" font-size="4.3" font-weight="bold" fill="#111" textLength="17.3" lengthAdjust="spacingAndGlyphs" stroke="#111" stroke-width="0.12">Target8.2</text><rect x="283.65" y="566.45" width="3.3" height="5.4" rx="0.4" fill="#f47c2c" stroke="#864418" stroke-width="0.5"/><text x="287.7" y="570.87" font-size="4.3" font-weight="bold" fill="#111" textLength="17.3" lengthAdjust="spacingAndGlyphs" stroke="#111" stroke-width="0.12">Target9.4</text><rect x="283.4" y="574.8" width="3.8" height="1.2" fill="#aa561e"/><text x="287.7" y="576.76" font-size="3.4" font-weight="bold" fill="#111" textLength="14.2" lengthAdjust="spacingAndGlyphs">Target9.5</text><rect x="283.65" y="591.55" width="3.3" height="1.7" rx="0.4" fill="#f6a848" stroke="#875c27" stroke-width="0.5"/><text x="287.7" y="594.12" font-size="4.3" font-weight="bold" fill="#111" textLength="18.1" lengthAdjust="spacingAndGlyphs" stroke="#111" stroke-width="0.12">Target11.1</text><rect x="283.65" y="595.75" width="3.3" height="1.5" rx="0.4" fill="#f6a848" stroke="#875c27" stroke-width="0.5"/><text x="287.7" y="598.22" font-size="4.3" font-weight="bold" fill="#111" textLength="18.1" lengthAdjust="spacingAndGlyphs" stroke="#111" stroke-width="0.12">Target11.6</text><rect x="283.4" y="609.2" width="3.8" height="0.8" fill="#957121"/><text x="287.7" y="610.86" font-size="3.4" font-weight="bold" fill="#111" textLength="15.1" lengthAdjust="spacingAndGlyphs">Target12.4</text><rect x="283.65" y="622.05" width="3.3" height="3.3" rx="0.4" fill="#3a803e" stroke="#1f4622" stroke-width="0.5"/><text x="287.7" y="625.42" font-size="4.3" font-weight="bold" fill="#111" textLength="18.1" lengthAdjust="spacingAndGlyphs" stroke="#111" stroke-width="0.12">Target13.2</text><rect x="283.65" y="636.05" width="3.3" height="3.9" rx="0.4" fill="#30d030" stroke="#1a721a" stroke-width="0.5"/><text x="287.7" y="639.72" font-size="4.3" font-weight="bold" fill="#111" textLength="18.1" lengthAdjust="spacingAndGlyphs" stroke="#111" stroke-width="0.12">Target15.1</text><rect x="283.65" y="642.65" width="3.3" height="3.7" rx="0.4" fill="#30d030" stroke="#1a721a" stroke-width="0.5"/><text x="287.7" y="646.22" font-size="4.3" font-weight="bold" fill="#111" textLength="18.1" lengthAdjust="spacingAndGlyphs" stroke="#111" stroke-width="0.12">Target15.5</text><rect x="283.65" y="658.35" width="3.3" height="2.9" rx="0.4" fill="#2a5080" stroke="#172c46" stroke-width="0.5"/><text x="287.7" y="661.52" font-size="4.3" font-weight="bold" fill="#111" textLength="18.1" lengthAdjust="spacingAndGlyphs" stroke="#111" stroke-width="0.12">Target17.8</text><g transform="translate(309.9 383.6)"><rect width="9.3" height="9.3" fill="#E5243B"/><rect x="0.9" y="0.9" width="0.7" height="1.6" fill="#fff" opacity="0.85"/><rect x="2.2" y="1.1" width="3.6" height="0.45" fill="#fff" opacity="0.6"/><rect x="2.2" y="1.9" width="2.6" height="0.4" fill="#fff" opacity="0.5"/><g fill="#fff"><rect x="1.9" y="5.2" width="0.9" height="2.3"/><rect x="3.2" y="4.9" width="0.9" height="2.6"/><rect x="4.5" y="5.4" width="0.8" height="2.1"/><rect x="5.7" y="4.9" width="0.9" height="2.6"/><rect x="6.9" y="5.3" width="0.8" height="2.2"/><rect x="1.9" y="6.4" width="5.8" height="0.7"/></g></g><g transform="translate(309.9 402.3)"><rect width="9.3" height="9.3" fill="#DDA63A"/><rect x="0.9" y="0.9" width="0.7" height="1.6" fill="#fff" opacity="0.85"/><rect x="2.2" y="1.1" width="3.6" height="0.45" fill="#fff" opacity="0.6"/><rect x="2.2" y="1.9" width="2.6" height="0.4" fill="#fff" opacity="0.5"/><g fill="#fff"><path d="M2.2 5.6h5a2.5 2.1 0 0 1-5 0z"/><rect x="3.2" y="4.1" width="0.5" height="1"/><rect x="4.5" y="3.9" width="0.5" height="1.2"/><rect x="5.7" y="4.1" width="0.5" height="1"/><rect x="3.6" y="7.8" width="2.2" height="0.5"/></g></g><g transform="translate(309.9 443.1)"><rect width="9.3" height="9.3" fill="#4C9F38"/><rect x="0.9" y="0.9" width="0.7" height="1.6" fill="#fff" opacity="0.85"/><rect x="2.2" y="1.1" width="3.6" height="0.45" fill="#fff" opacity="0.6"/><rect x="2.2" y="1.9" width="2.6" height="0.4" fill="#fff" opacity="0.5"/><path d="M1.6 6.1h1.8l0.8-1.6 1 2.6 0.9-2.2 0.6 1.2h1.2" fill="none" stroke="#fff" stroke-width="0.6"/><path d="M3.4 4.4l2.5 0" stroke="#fff" stroke-width="0.4" opacity="0.6"/></g><g transform="translate(309.9 477.9)"><rect width="9.3" height="9.3" fill="#C5192D"/><rect x="0.9" y="0.9" width="0.7" height="1.6" fill="#fff" opacity="0.85"/><rect x="2.2" y="1.1" width="3.6" height="0.45" fill="#fff" opacity="0.6"/><rect x="2.2" y="1.9" width="2.6" height="0.4" fill="#fff" opacity="0.5"/><path d="M2.4 4.6l2.3 0.7 2.3-0.7v3.1l-2.3 0.7-2.3-0.7z" fill="#fff"/><rect x="4.55" y="5.3" width="0.3" height="3" fill="#c5192d" opacity="0.6"/></g><g transform="translate(309.9 490.1)"><rect width="9.3" height="9.3" fill="#FF3A21"/><rect x="0.9" y="0.9" width="0.7" height="1.6" fill="#fff" opacity="0.85"/><rect x="2.2" y="1.1" width="3.6" height="0.45" fill="#fff" opacity="0.6"/><rect x="2.2" y="1.9" width="2.6" height="0.4" fill="#fff" opacity="0.5"/><g fill="none" stroke="#fff" stroke-width="0.55"><circle cx="4.4" cy="5.2" r="1.2"/><path d="M4.4 6.4v1.9M3.5 7.4h1.8M5.3 4.3l1.6-1.3"/></g></g><g transform="translate(309.9 505.4)"><rect width="9.3" height="9.3" fill="#26BDE2"/><rect x="0.9" y="0.9" width="0.7" height="1.6" fill="#fff" opacity="0.85"/><rect x="2.2" y="1.1" width="3.6" height="0.45" fill="#fff" opacity="0.6"/><rect x="2.2" y="1.9" width="2.6" height="0.4" fill="#fff" opacity="0.5"/><path d="M3 4.2h3.4l-0.5 4h-2.4z" fill="#fff"/><path d="M4.7 4.9c-0.6 0.8-0.9 1.2-0.9 1.6a0.9 0.9 0 0 0 1.8 0c0-0.4-0.3-0.8-0.9-1.6z" fill="#26BDE2"/></g><g transform="translate(309.9 528.7)"><rect width="9.3" height="9.3" fill="#FCC30B"/><rect x="0.9" y="0.9" width="0.7" height="1.6" fill="#fff" opacity="0.85"/><rect x="2.2" y="1.1" width="3.6" height="0.45" fill="#fff" opacity="0.6"/><rect x="2.2" y="1.9" width="2.6" height="0.4" fill="#fff" opacity="0.5"/><g fill="#fff"><circle cx="4.65" cy="5.9" r="1.5"/></g><g stroke="#fff" stroke-width="0.4"><path d="M4.65 3.7v0.6M4.65 7.5v0.6M2.45 5.9h0.6M6.25 5.9h0.6M3.1 4.35l0.4 0.4M6.2 4.35l-0.4 0.4M3.1 7.45l0.4-0.4M6.2 7.45l-0.4-0.4"/></g><circle cx="4.65" cy="5.9" r="0.6" fill="#FCC30B"/></g><g transform="translate(309.9 544)"><rect width="9.3" height="9.3" fill="#A21942"/><rect x="0.9" y="0.9" width="0.7" height="1.6" fill="#fff" opacity="0.85"/><rect x="2.2" y="1.1" width="3.6" height="0.45" fill="#fff" opacity="0.6"/><rect x="2.2" y="1.9" width="2.6" height="0.4" fill="#fff" opacity="0.5"/><g fill="#fff"><rect x="2.4" y="6.3" width="1.1" height="1.8"/><rect x="3.9" y="5.4" width="1.1" height="2.7"/><rect x="5.4" y="4.5" width="1.1" height="3.6"/><path d="M2.2 5.6l2.4-1.5 1.3 0.6 1.6-1.4" fill="none" stroke="#fff" stroke-width="0.45"/></g></g><g transform="translate(309.9 565.8)"><rect width="9.3" height="9.3" fill="#FD6925"/><rect x="0.9" y="0.9" width="0.7" height="1.6" fill="#fff" opacity="0.85"/><rect x="2.2" y="1.1" width="3.6" height="0.45" fill="#fff" opacity="0.6"/><rect x="2.2" y="1.9" width="2.6" height="0.4" fill="#fff" opacity="0.5"/><g fill="#fff"><rect x="3.7" y="3.9" width="1.9" height="1.9"/><rect x="2.6" y="6" width="1.9" height="1.9"/><rect x="4.8" y="6" width="1.9" height="1.9"/></g></g><g transform="translate(309.9 587.2)"><rect width="9.3" height="9.3" fill="#FD9D24"/><rect x="0.9" y="0.9" width="0.7" height="1.6" fill="#fff" opacity="0.85"/><rect x="2.2" y="1.1" width="3.6" height="0.45" fill="#fff" opacity="0.6"/><rect x="2.2" y="1.9" width="2.6" height="0.4" fill="#fff" opacity="0.5"/><g fill="#fff"><rect x="2" y="6.2" width="1.3" height="1.9"/><rect x="3.6" y="4.2" width="1.1" height="3.9"/><rect x="5" y="5.3" width="1.1" height="2.8"/><rect x="6.3" y="6.5" width="1.1" height="1.6"/><rect x="1.8" y="7.8" width="5.8" height="0.5"/></g></g><g transform="translate(309.9 603.2)"><rect width="9.3" height="9.3" fill="#BF8B2E"/><rect x="0.9" y="0.9" width="0.7" height="1.6" fill="#fff" opacity="0.85"/><rect x="2.2" y="1.1" width="3.6" height="0.45" fill="#fff" opacity="0.6"/><rect x="2.2" y="1.9" width="2.6" height="0.4" fill="#fff" opacity="0.5"/><g fill="none" stroke="#fff" stroke-width="0.6"><circle cx="3.5" cy="6.2" r="1.1"/><circle cx="5.8" cy="6.2" r="1.1"/></g><rect x="2.4" y="3.9" width="4.6" height="0.5" fill="#fff" opacity="0.7"/></g><g transform="translate(309.9 617.9)"><rect width="9.3" height="9.3" fill="#3F7E44"/><rect x="0.9" y="0.9" width="0.7" height="1.6" fill="#fff" opacity="0.85"/><rect x="2.2" y="1.1" width="3.6" height="0.45" fill="#fff" opacity="0.6"/><rect x="2.2" y="1.9" width="2.6" height="0.4" fill="#fff" opacity="0.5"/><path d="M1.3 6.1q3.35-3.2 6.7 0q-3.35 3.2-6.7 0z" fill="#fff"/><circle cx="4.65" cy="6.1" r="1.15" fill="#3F7E44"/><circle cx="4.65" cy="6.1" r="0.55" fill="#fff"/></g><g transform="translate(309.9 636.2)"><rect width="9.3" height="9.3" fill="#56C02B"/><rect x="0.9" y="0.9" width="0.7" height="1.6" fill="#fff" opacity="0.85"/><rect x="2.2" y="1.1" width="3.6" height="0.45" fill="#fff" opacity="0.6"/><rect x="2.2" y="1.9" width="2.6" height="0.4" fill="#fff" opacity="0.5"/><g fill="#fff"><path d="M4.65 4.3l1.3 2.2h-2.6z"/><rect x="4.4" y="6.4" width="0.5" height="1.1"/><rect x="2.6" y="7.5" width="4.2" height="0.5"/><path d="M2.4 4.4l0.6 0.3 0.6-0.3" fill="none" stroke="#fff" stroke-width="0.3"/></g></g><g transform="translate(309.9 654.1)"><rect width="9.3" height="9.3" fill="#19486A"/><rect x="0.9" y="0.9" width="0.7" height="1.6" fill="#fff" opacity="0.85"/><rect x="2.2" y="1.1" width="3.6" height="0.45" fill="#fff" opacity="0.6"/><rect x="2.2" y="1.9" width="2.6" height="0.4" fill="#fff" opacity="0.5"/><g fill="none" stroke="#fff" stroke-width="0.45"><circle cx="4.65" cy="6" r="1.9"/><circle cx="4.65" cy="6" r="0.8"/><path d="M4.65 4.1v3.8M2.75 6h3.8M3.3 4.65l2.7 2.7M6 4.65l-2.7 2.7"/></g></g>
<rect x="356.3" y="355.5" width="326.6" height="311.9" rx="10" ry="10" fill="none" stroke="#d5d5d5" stroke-width="1.8"/><text x="345.2" y="357.3" font-size="20" font-weight="bold" fill="#000">d</text><text x="534.3" y="370.1" font-size="7.7" font-weight="bold" fill="#111" textLength="34.6" lengthAdjust="spacingAndGlyphs">Income H</text><text x="389.4" y="376.5" font-size="8.8" font-weight="bold" fill="#111" textLength="21.6" lengthAdjust="spacingAndGlyphs">Index</text><text x="417.4" y="376.5" font-size="8.8" font-weight="bold" fill="#111" textLength="33.5" lengthAdjust="spacingAndGlyphs">Strength</text><text transform="translate(374.9 481.5) rotate(-90)" font-size="9.4" font-weight="bold" fill="#111" textLength="90.8" lengthAdjust="spacingAndGlyphs">Positive relationship</text><text transform="translate(372.7 638.4) rotate(-90)" font-size="9.4" font-weight="bold" fill="#111" textLength="94" lengthAdjust="spacingAndGlyphs">Negative relationship</text><defs><linearGradient id="gdn1" gradientUnits="userSpaceOnUse" x1="452.9" y1="0" x2="634.9" y2="0"><stop offset="0" stop-color="#ff2c2c"/><stop offset="0.12" stop-color="#fd2b2d"/><stop offset="0.25" stop-color="#fa292d"/><stop offset="0.38" stop-color="#f7282e"/><stop offset="0.5" stop-color="#f5262e"/><stop offset="0.62" stop-color="#f2252f"/><stop offset="0.75" stop-color="#ef232f"/><stop offset="0.88" stop-color="#ed2230"/><stop offset="1" stop-color="#ea2030"/></linearGradient><linearGradient id="gdn11" gradientUnits="userSpaceOnUse" x1="452.9" y1="0" x2="634.9" y2="0"><stop offset="0" stop-color="#ff2c2c"/><stop offset="0.12" stop-color="#fe4b31"/><stop offset="0.25" stop-color="#fd6035"/><stop offset="0.38" stop-color="#fc7038"/><stop offset="0.5" stop-color="#fb7e3c"/><stop offset="0.62" stop-color="#f98a3f"/><stop offset="0.75" stop-color="#f89542"/><stop offset="0.88" stop-color="#f79f45"/><stop offset="1" stop-color="#f6a848"/></linearGradient><linearGradient id="gdn12" gradientUnits="userSpaceOnUse" x1="452.9" y1="0" x2="634.9" y2="0"><stop offset="0" stop-color="#ff2c2c"/><stop offset="0.12" stop-color="#fa492d"/><stop offset="0.25" stop-color="#f65d2d"/><stop offset="0.38" stop-color="#f16c2e"/><stop offset="0.5" stop-color="#ec7a2e"/><stop offset="0.62" stop-color="#e7852f"/><stop offset="0.75" stop-color="#e1902f"/><stop offset="0.88" stop-color="#dc9930"/><stop offset="1" stop-color="#d6a230"/></linearGradient><linearGradient id="gdn15" gradientUnits="userSpaceOnUse" x1="452.9" y1="0" x2="634.9" y2="0"><stop offset="0" stop-color="#ff2c2c"/><stop offset="0.12" stop-color="#f1592d"/><stop offset="0.25" stop-color="#e2752d"/><stop offset="0.38" stop-color="#d18a2e"/><stop offset="0.5" stop-color="#be9b2e"/><stop offset="0.62" stop-color="#a8aa2f"/><stop offset="0.75" stop-color="#8eb82f"/><stop offset="0.88" stop-color="#6cc430"/><stop offset="1" stop-color="#30d030"/></linearGradient><linearGradient id="gdn16" gradientUnits="userSpaceOnUse" x1="452.9" y1="0" x2="634.9" y2="0"><stop offset="0" stop-color="#ff2c2c"/><stop offset="0.12" stop-color="#f1334f"/><stop offset="0.25" stop-color="#e23a66"/><stop offset="0.38" stop-color="#d14078"/><stop offset="0.5" stop-color="#be4587"/><stop offset="0.62" stop-color="#a84a94"/><stop offset="0.75" stop-color="#8e4e9f"/><stop offset="0.88" stop-color="#6c52aa"/><stop offset="1" stop-color="#2e56b4"/></linearGradient><linearGradient id="gdn17" gradientUnits="userSpaceOnUse" x1="452.9" y1="0" x2="634.9" y2="0"><stop offset="0" stop-color="#ff2c2c"/><stop offset="0.12" stop-color="#f1323f"/><stop offset="0.25" stop-color="#e1384c"/><stop offset="0.38" stop-color="#d03c58"/><stop offset="0.5" stop-color="#bd4161"/><stop offset="0.62" stop-color="#a8456a"/><stop offset="0.75" stop-color="#8d4972"/><stop offset="0.88" stop-color="#6a4d79"/><stop offset="1" stop-color="#2a5080"/></linearGradient><linearGradient id="gdn2" gradientUnits="userSpaceOnUse" x1="452.9" y1="0" x2="634.9" y2="0"><stop offset="0" stop-color="#ff2c2c"/><stop offset="0.12" stop-color="#fb4c2e"/><stop offset="0.25" stop-color="#f76131"/><stop offset="0.38" stop-color="#f37133"/><stop offset="0.5" stop-color="#ee7f35"/><stop offset="0.62" stop-color="#ea8c37"/><stop offset="0.75" stop-color="#e59738"/><stop offset="0.88" stop-color="#e1a13a"/><stop offset="1" stop-color="#dcaa3c"/></linearGradient><linearGradient id="gdn3" gradientUnits="userSpaceOnUse" x1="452.9" y1="0" x2="634.9" y2="0"><stop offset="0" stop-color="#ff2c2c"/><stop offset="0.12" stop-color="#f15539"/><stop offset="0.25" stop-color="#e26e43"/><stop offset="0.38" stop-color="#d2824c"/><stop offset="0.5" stop-color="#bf9253"/><stop offset="0.62" stop-color="#aaa15a"/><stop offset="0.75" stop-color="#91ad61"/><stop offset="0.88" stop-color="#71b967"/><stop offset="1" stop-color="#3cc46c"/></linearGradient><linearGradient id="gdn4" gradientUnits="userSpaceOnUse" x1="452.9" y1="0" x2="634.9" y2="0"><stop offset="0" stop-color="#ff2c2c"/><stop offset="0.12" stop-color="#fb2c2e"/><stop offset="0.25" stop-color="#f62b31"/><stop offset="0.38" stop-color="#f12b33"/><stop offset="0.5" stop-color="#ed2a35"/><stop offset="0.62" stop-color="#e82a37"/><stop offset="0.75" stop-color="#e32938"/><stop offset="0.88" stop-color="#dd293a"/><stop offset="1" stop-color="#d8283c"/></linearGradient><linearGradient id="gdn5" gradientUnits="userSpaceOnUse" x1="452.9" y1="0" x2="634.9" y2="0"><stop offset="0" stop-color="#ff2c2c"/><stop offset="0.12" stop-color="#fd342c"/><stop offset="0.25" stop-color="#fb3b2c"/><stop offset="0.38" stop-color="#fa412b"/><stop offset="0.5" stop-color="#f8462b"/><stop offset="0.62" stop-color="#f64b2b"/><stop offset="0.75" stop-color="#f4502b"/><stop offset="0.88" stop-color="#f2542a"/><stop offset="1" stop-color="#f0582a"/></linearGradient><linearGradient id="gdn6" gradientUnits="userSpaceOnUse" x1="452.9" y1="0" x2="634.9" y2="0"><stop offset="0" stop-color="#ff2c2c"/><stop offset="0.12" stop-color="#f15164"/><stop offset="0.25" stop-color="#e16883"/><stop offset="0.38" stop-color="#d17a9c"/><stop offset="0.5" stop-color="#be8ab0"/><stop offset="0.62" stop-color="#a897c1"/><stop offset="0.75" stop-color="#8ea3d1"/><stop offset="0.88" stop-color="#6baedf"/><stop offset="1" stop-color="#2cb8ec"/></linearGradient><linearGradient id="gdn7" gradientUnits="userSpaceOnUse" x1="452.9" y1="0" x2="634.9" y2="0"><stop offset="0" stop-color="#ff2c2c"/><stop offset="0.12" stop-color="#fe572a"/><stop offset="0.25" stop-color="#fd7029"/><stop offset="0.38" stop-color="#fc8427"/><stop offset="0.5" stop-color="#fb9525"/><stop offset="0.62" stop-color="#f9a423"/><stop offset="0.75" stop-color="#f8b121"/><stop offset="0.88" stop-color="#f7bd1e"/><stop offset="1" stop-color="#f6c81c"/></linearGradient><linearGradient id="gdn8" gradientUnits="userSpaceOnUse" x1="452.9" y1="0" x2="634.9" y2="0"><stop offset="0" stop-color="#ff2c2c"/><stop offset="0.12" stop-color="#f72c2f"/><stop offset="0.25" stop-color="#ef2b32"/><stop offset="0.38" stop-color="#e72b35"/><stop offset="0.5" stop-color="#de2a37"/><stop offset="0.62" stop-color="#d42a39"/><stop offset="0.75" stop-color="#ca293c"/><stop offset="0.88" stop-color="#c0293e"/><stop offset="1" stop-color="#b42840"/></linearGradient><linearGradient id="gdn9" gradientUnits="userSpaceOnUse" x1="452.9" y1="0" x2="634.9" y2="0"><stop offset="0" stop-color="#ff2c2c"/><stop offset="0.12" stop-color="#fe3d2c"/><stop offset="0.25" stop-color="#fc4a2c"/><stop offset="0.38" stop-color="#fb552c"/><stop offset="0.5" stop-color="#fa5f2c"/><stop offset="0.62" stop-color="#f8672c"/><stop offset="0.75" stop-color="#f76f2c"/><stop offset="0.88" stop-color="#f5752c"/><stop offset="1" stop-color="#f47c2c"/></linearGradient><linearGradient id="gdp1" gradientUnits="userSpaceOnUse" x1="452.9" y1="0" x2="634.9" y2="0"><stop offset="0" stop-color="#3434ff"/><stop offset="0.12" stop-color="#6632f1"/><stop offset="0.25" stop-color="#8430e2"/><stop offset="0.38" stop-color="#9b2ed1"/><stop offset="0.5" stop-color="#af2bbe"/><stop offset="0.62" stop-color="#c029a8"/><stop offset="0.75" stop-color="#cf268e"/><stop offset="0.88" stop-color="#dd236c"/><stop offset="1" stop-color="#ea2030"/></linearGradient><linearGradient id="gdp11" gradientUnits="userSpaceOnUse" x1="452.9" y1="0" x2="634.9" y2="0"><stop offset="0" stop-color="#3434ff"/><stop offset="0.12" stop-color="#6a4ff1"/><stop offset="0.25" stop-color="#8a63e3"/><stop offset="0.38" stop-color="#a372d3"/><stop offset="0.5" stop-color="#b87fc1"/><stop offset="0.62" stop-color="#ca8bad"/><stop offset="0.75" stop-color="#da9595"/><stop offset="0.88" stop-color="#e89f76"/><stop offset="1" stop-color="#f6a848"/></linearGradient><linearGradient id="gdp12" gradientUnits="userSpaceOnUse" x1="452.9" y1="0" x2="634.9" y2="0"><stop offset="0" stop-color="#3434ff"/><stop offset="0.12" stop-color="#5f4ef1"/><stop offset="0.25" stop-color="#7a60e2"/><stop offset="0.38" stop-color="#8f6ed1"/><stop offset="0.5" stop-color="#a07bbe"/><stop offset="0.62" stop-color="#b086a8"/><stop offset="0.75" stop-color="#be908e"/><stop offset="0.88" stop-color="#ca996c"/><stop offset="1" stop-color="#d6a230"/></linearGradient><linearGradient id="gdp13" gradientUnits="userSpaceOnUse" x1="452.9" y1="0" x2="634.9" y2="0"><stop offset="0" stop-color="#3434ff"/><stop offset="0.12" stop-color="#3544f1"/><stop offset="0.25" stop-color="#3650e2"/><stop offset="0.38" stop-color="#365ad2"/><stop offset="0.5" stop-color="#3763c0"/><stop offset="0.62" stop-color="#386bab"/><stop offset="0.75" stop-color="#397392"/><stop offset="0.88" stop-color="#397a72"/><stop offset="1" stop-color="#3a803e"/></linearGradient><linearGradient id="gdp15" gradientUnits="userSpaceOnUse" x1="452.9" y1="0" x2="634.9" y2="0"><stop offset="0" stop-color="#3434ff"/><stop offset="0.12" stop-color="#345df1"/><stop offset="0.25" stop-color="#3377e2"/><stop offset="0.38" stop-color="#338bd1"/><stop offset="0.5" stop-color="#329cbe"/><stop offset="0.62" stop-color="#32aba8"/><stop offset="0.75" stop-color="#31b88e"/><stop offset="0.88" stop-color="#31c56c"/><stop offset="1" stop-color="#30d030"/></linearGradient><linearGradient id="gdp16" gradientUnits="userSpaceOnUse" x1="452.9" y1="0" x2="634.9" y2="0"><stop offset="0" stop-color="#3434ff"/><stop offset="0.12" stop-color="#333af7"/><stop offset="0.25" stop-color="#333fef"/><stop offset="0.38" stop-color="#3243e7"/><stop offset="0.5" stop-color="#3147de"/><stop offset="0.62" stop-color="#304bd4"/><stop offset="0.75" stop-color="#304fca"/><stop offset="0.88" stop-color="#2f53c0"/><stop offset="1" stop-color="#2e56b4"/></linearGradient><linearGradient id="gdp17" gradientUnits="userSpaceOnUse" x1="452.9" y1="0" x2="634.9" y2="0"><stop offset="0" stop-color="#3434ff"/><stop offset="0.12" stop-color="#3338f4"/><stop offset="0.25" stop-color="#323ce8"/><stop offset="0.38" stop-color="#3140db"/><stop offset="0.5" stop-color="#2f44cd"/><stop offset="0.62" stop-color="#2e47bd"/><stop offset="0.75" stop-color="#2d4aac"/><stop offset="0.88" stop-color="#2b4d98"/><stop offset="1" stop-color="#2a5080"/></linearGradient><linearGradient id="gdp2" gradientUnits="userSpaceOnUse" x1="452.9" y1="0" x2="634.9" y2="0"><stop offset="0" stop-color="#3434ff"/><stop offset="0.12" stop-color="#6150f1"/><stop offset="0.25" stop-color="#7d64e2"/><stop offset="0.38" stop-color="#9373d2"/><stop offset="0.5" stop-color="#a581bf"/><stop offset="0.62" stop-color="#b58caa"/><stop offset="0.75" stop-color="#c39791"/><stop offset="0.88" stop-color="#d0a171"/><stop offset="1" stop-color="#dcaa3c"/></linearGradient><linearGradient id="gdp3" gradientUnits="userSpaceOnUse" x1="452.9" y1="0" x2="634.9" y2="0"><stop offset="0" stop-color="#3434ff"/><stop offset="0.12" stop-color="#3559f3"/><stop offset="0.25" stop-color="#3671e6"/><stop offset="0.38" stop-color="#3783d7"/><stop offset="0.5" stop-color="#3893c8"/><stop offset="0.62" stop-color="#39a1b6"/><stop offset="0.75" stop-color="#3aaea2"/><stop offset="0.88" stop-color="#3bb98b"/><stop offset="1" stop-color="#3cc46c"/></linearGradient><linearGradient id="gdp4" gradientUnits="userSpaceOnUse" x1="452.9" y1="0" x2="634.9" y2="0"><stop offset="0" stop-color="#3434ff"/><stop offset="0.12" stop-color="#6033f1"/><stop offset="0.25" stop-color="#7b31e2"/><stop offset="0.38" stop-color="#9030d2"/><stop offset="0.5" stop-color="#a22ebf"/><stop offset="0.62" stop-color="#b12daa"/><stop offset="0.75" stop-color="#bf2b91"/><stop offset="0.88" stop-color="#cc2a71"/><stop offset="1" stop-color="#d8283c"/></linearGradient><linearGradient id="gdp5" gradientUnits="userSpaceOnUse" x1="452.9" y1="0" x2="634.9" y2="0"><stop offset="0" stop-color="#3434ff"/><stop offset="0.12" stop-color="#683af1"/><stop offset="0.25" stop-color="#873fe1"/><stop offset="0.38" stop-color="#9f44d0"/><stop offset="0.5" stop-color="#b349bd"/><stop offset="0.62" stop-color="#c54da8"/><stop offset="0.75" stop-color="#d5518d"/><stop offset="0.88" stop-color="#e3546a"/><stop offset="1" stop-color="#f0582a"/></linearGradient><linearGradient id="gdp6" gradientUnits="userSpaceOnUse" x1="452.9" y1="0" x2="634.9" y2="0"><stop offset="0" stop-color="#3434ff"/><stop offset="0.12" stop-color="#3355fd"/><stop offset="0.25" stop-color="#326bfa"/><stop offset="0.38" stop-color="#317cf8"/><stop offset="0.5" stop-color="#308bf6"/><stop offset="0.62" stop-color="#2f98f3"/><stop offset="0.75" stop-color="#2ea3f1"/><stop offset="0.88" stop-color="#2daeee"/><stop offset="1" stop-color="#2cb8ec"/></linearGradient><linearGradient id="gdp7" gradientUnits="userSpaceOnUse" x1="452.9" y1="0" x2="634.9" y2="0"><stop offset="0" stop-color="#3434ff"/><stop offset="0.12" stop-color="#6a5af1"/><stop offset="0.25" stop-color="#8a73e1"/><stop offset="0.38" stop-color="#a386d0"/><stop offset="0.5" stop-color="#b896bc"/><stop offset="0.62" stop-color="#caa5a6"/><stop offset="0.75" stop-color="#dab18b"/><stop offset="0.88" stop-color="#e8bd67"/><stop offset="1" stop-color="#f6c81c"/></linearGradient><linearGradient id="gdp8" gradientUnits="userSpaceOnUse" x1="452.9" y1="0" x2="634.9" y2="0"><stop offset="0" stop-color="#3434ff"/><stop offset="0.12" stop-color="#5333f1"/><stop offset="0.25" stop-color="#6931e2"/><stop offset="0.38" stop-color="#7930d2"/><stop offset="0.5" stop-color="#882ec0"/><stop offset="0.62" stop-color="#942dab"/><stop offset="0.75" stop-color="#a02b92"/><stop offset="0.88" stop-color="#aa2a73"/><stop offset="1" stop-color="#b42840"/></linearGradient><linearGradient id="gdp9" gradientUnits="userSpaceOnUse" x1="452.9" y1="0" x2="634.9" y2="0"><stop offset="0" stop-color="#3434ff"/><stop offset="0.12" stop-color="#6a42f1"/><stop offset="0.25" stop-color="#894ee1"/><stop offset="0.38" stop-color="#a258d1"/><stop offset="0.5" stop-color="#b660be"/><stop offset="0.62" stop-color="#c868a8"/><stop offset="0.75" stop-color="#d86f8e"/><stop offset="0.88" stop-color="#e7766b"/><stop offset="1" stop-color="#f47c2c"/></linearGradient></defs><g fill="none" stroke-opacity="0.7"><path d="M452.9 389.63C507.5 389.63 580.3 387.15 634.9 387.15" stroke="url(#gdp1)" stroke-width="1.14"/><path d="M452.9 399.52C507.5 399.52 580.3 396.36 634.9 396.36" stroke="url(#gdp1)" stroke-width="1.58"/><path d="M452.9 420.83C507.5 420.83 580.3 397.45 634.9 397.45" stroke="url(#gdp1)" stroke-width="1"/><path d="M452.9 660.12C507.5 660.12 580.3 660.33 634.9 660.33" stroke="url(#gdn17)" stroke-width="0.65"/><path d="M452.9 528.19C507.5 528.19 580.3 546.52 634.9 546.52" stroke="url(#gdn9)" stroke-width="1.43"/><path d="M452.9 529.76C507.5 529.76 580.3 534.81 634.9 534.81" stroke="url(#gdn8)" stroke-width="0.95"/><path d="M452.9 390.31C507.5 390.31 580.3 413.34 634.9 413.34" stroke="url(#gdp2)" stroke-width="0.3"/><path d="M452.9 388.97C507.5 388.97 580.3 429.8 634.9 429.8" stroke="url(#gdp2)" stroke-width="0.3"/><path d="M452.9 390.52C507.5 390.52 580.3 454.69 634.9 454.69" stroke="url(#gdp3)" stroke-width="0.3"/><path d="M452.9 391.69C507.5 391.69 580.3 471.67 634.9 471.67" stroke="url(#gdp3)" stroke-width="0.36"/><path d="M452.9 391.08C507.5 391.08 580.3 500.96 634.9 500.96" stroke="url(#gdp6)" stroke-width="0.81"/><path d="M452.9 392.08C507.5 392.08 580.3 543.48 634.9 543.48" stroke="url(#gdp9)" stroke-width="0.38"/><path d="M452.9 392.47C507.5 392.47 580.3 628.75 634.9 628.75" stroke="url(#gdp15)" stroke-width="0.36"/><path d="M452.9 392.93C507.5 392.93 580.3 655.48 634.9 655.48" stroke="url(#gdp17)" stroke-width="0.51"/><path d="M452.9 398.24C507.5 398.24 580.3 388.16 634.9 388.16" stroke="url(#gdp1)" stroke-width="0.45"/><path d="M452.9 398.59C507.5 398.59 580.3 395.68 634.9 395.68" stroke="url(#gdp1)" stroke-width="0.3"/><path d="M452.9 401.83C507.5 401.83 580.3 413.77 634.9 413.77" stroke="url(#gdp2)" stroke-width="0.4"/><path d="M452.9 400.53C507.5 400.53 580.3 420.01 634.9 420.01" stroke="url(#gdp2)" stroke-width="0.33"/><path d="M452.9 401.01C507.5 401.01 580.3 420.6 634.9 420.6" stroke="url(#gdp2)" stroke-width="0.6"/><path d="M452.9 402.21C507.5 402.21 580.3 430.46 634.9 430.46" stroke="url(#gdp2)" stroke-width="0.32"/><path d="M452.9 401.47C507.5 401.47 580.3 430.08 634.9 430.08" stroke="url(#gdp2)" stroke-width="0.3"/><path d="M452.9 402.6C507.5 402.6 580.3 447.9 634.9 447.9" stroke="url(#gdp3)" stroke-width="0.42"/><path d="M452.9 403.08C507.5 403.08 580.3 454.95 634.9 454.95" stroke="url(#gdp3)" stroke-width="0.51"/><path d="M452.9 404.31C507.5 404.31 580.3 463.09 634.9 463.09" stroke="url(#gdp3)" stroke-width="0.33"/><path d="M452.9 404.56C507.5 404.56 580.3 467.28 634.9 467.28" stroke="url(#gdp3)" stroke-width="0.3"/><path d="M452.9 403.74C507.5 403.74 580.3 484.14 634.9 484.14" stroke="url(#gdp4)" stroke-width="0.74"/><path d="M452.9 404.83C507.5 404.83 580.3 501.72 634.9 501.72" stroke="url(#gdp6)" stroke-width="0.37"/><path d="M452.9 405.31C507.5 405.31 580.3 502.24 634.9 502.24" stroke="url(#gdp6)" stroke-width="0.55"/><path d="M452.9 406.17C507.5 406.17 580.3 512.25 634.9 512.25" stroke="url(#gdp7)" stroke-width="0.41"/><path d="M452.9 405.78C507.5 405.78 580.3 511.8 634.9 511.8" stroke="url(#gdp7)" stroke-width="0.33"/><path d="M452.9 406.62C507.5 406.62 580.3 531.76 634.9 531.76" stroke="url(#gdp8)" stroke-width="0.44"/><path d="M452.9 407.09C507.5 407.09 580.3 581.79 634.9 581.79" stroke="url(#gdp11)" stroke-width="0.45"/><path d="M452.9 407.56C507.5 407.56 580.3 610.8 634.9 610.8" stroke="url(#gdp13)" stroke-width="0.45"/><path d="M452.9 407.95C507.5 407.95 580.3 611.29 634.9 611.29" stroke="url(#gdp13)" stroke-width="0.3"/><path d="M452.9 408.88C507.5 408.88 580.3 629.4 634.9 629.4" stroke="url(#gdp15)" stroke-width="0.67"/><path d="M452.9 409.57C507.5 409.57 580.3 648.64 634.9 648.64" stroke="url(#gdp16)" stroke-width="0.63"/><path d="M452.9 408.31C507.5 408.31 580.3 655.95 634.9 655.95" stroke="url(#gdp17)" stroke-width="0.41"/><path d="M452.9 419.11C507.5 419.11 580.3 389.37 634.9 389.37" stroke="url(#gdp1)" stroke-width="0.69"/><path d="M452.9 418.01C507.5 418.01 580.3 388.74 634.9 388.74" stroke="url(#gdp1)" stroke-width="0.78"/><path d="M452.9 418.58C507.5 418.58 580.3 397.06 634.9 397.06" stroke="url(#gdp1)" stroke-width="0.31"/><path d="M452.9 423.48C507.5 423.48 580.3 398.32 634.9 398.32" stroke="url(#gdp1)" stroke-width="0.88"/><path d="M452.9 422.75C507.5 422.75 580.3 397.9 634.9 397.9" stroke="url(#gdp1)" stroke-width="0.5"/><path d="M452.9 421.59C507.5 421.59 580.3 410.46 634.9 410.46" stroke="url(#gdp2)" stroke-width="0.44"/><path d="M452.9 422.16C507.5 422.16 580.3 414.92 634.9 414.92" stroke="url(#gdp2)" stroke-width="0.63"/><path d="M452.9 419.69C507.5 419.69 580.3 414.31 634.9 414.31" stroke="url(#gdp2)" stroke-width="0.42"/><path d="M452.9 427.78C507.5 427.78 580.3 422.44 634.9 422.44" stroke="url(#gdp2)" stroke-width="0.82"/><path d="M452.9 426.64C507.5 426.64 580.3 421.84 634.9 421.84" stroke="url(#gdp2)" stroke-width="0.36"/><path d="M452.9 420.11C507.5 420.11 580.3 421.17 634.9 421.17" stroke="url(#gdp2)" stroke-width="0.37"/><path d="M452.9 425.89C507.5 425.89 580.3 421.51 634.9 421.51" stroke="url(#gdp2)" stroke-width="0.3"/><path d="M452.9 429.49C507.5 429.49 580.3 432.59 634.9 432.59" stroke="url(#gdp2)" stroke-width="0.37"/><path d="M452.9 424.09C507.5 424.09 580.3 430.82 634.9 430.82" stroke="url(#gdp2)" stroke-width="0.3"/><path d="M452.9 425.47C507.5 425.47 580.3 432.15 634.9 432.15" stroke="url(#gdp2)" stroke-width="0.5"/><path d="M452.9 424.73C507.5 424.73 580.3 431.43 634.9 431.43" stroke="url(#gdp2)" stroke-width="0.92"/><path d="M452.9 427.09C507.5 427.09 580.3 444.6 634.9 444.6" stroke="url(#gdp3)" stroke-width="0.48"/><path d="M452.9 426.25C507.5 426.25 580.3 448.07 634.9 448.07" stroke="url(#gdp3)" stroke-width="0.39"/><path d="M452.9 430.33C507.5 430.33 580.3 451.16 634.9 451.16" stroke="url(#gdp3)" stroke-width="0.56"/><path d="M452.9 428.47C507.5 428.47 580.3 455.24 634.9 455.24" stroke="url(#gdp3)" stroke-width="0.5"/><path d="M452.9 430.76C507.5 430.76 580.3 455.43 634.9 455.43" stroke="url(#gdp3)" stroke-width="0.3"/><path d="M452.9 429.86C507.5 429.86 580.3 458.58 634.9 458.58" stroke="url(#gdp3)" stroke-width="0.34"/><path d="M452.9 432.66C507.5 432.66 580.3 463.7 634.9 463.7" stroke="url(#gdp3)" stroke-width="0.34"/><path d="M452.9 431.06C507.5 431.06 580.3 463.41 634.9 463.41" stroke="url(#gdp3)" stroke-width="0.3"/><path d="M452.9 433.56C507.5 433.56 580.3 467.61 634.9 467.61" stroke="url(#gdp3)" stroke-width="0.56"/><path d="M452.9 429.01C507.5 429.01 580.3 472.39 634.9 472.39" stroke="url(#gdp3)" stroke-width="0.53"/><path d="M452.9 434.63C507.5 434.63 580.3 475.8 634.9 475.8" stroke="url(#gdp3)" stroke-width="0.82"/><path d="M452.9 435.96C507.5 435.96 580.3 488.5 634.9 488.5" stroke="url(#gdp5)" stroke-width="0.37"/><path d="M452.9 431.85C507.5 431.85 580.3 488.06 634.9 488.06" stroke="url(#gdp5)" stroke-width="0.51"/><path d="M452.9 431.4C507.5 431.4 580.3 502.7 634.9 502.7" stroke="url(#gdp6)" stroke-width="0.35"/><path d="M452.9 433.06C507.5 433.06 580.3 503.34 634.9 503.34" stroke="url(#gdp6)" stroke-width="0.4"/><path d="M452.9 436.97C507.5 436.97 580.3 503.69 634.9 503.69" stroke="url(#gdp6)" stroke-width="0.39"/><path d="M452.9 437.33C507.5 437.33 580.3 504 634.9 504" stroke="url(#gdp6)" stroke-width="0.3"/><path d="M452.9 432.3C507.5 432.3 580.3 503.01 634.9 503.01" stroke="url(#gdp6)" stroke-width="0.34"/><path d="M452.9 435.41C507.5 435.41 580.3 513.12 634.9 513.12" stroke="url(#gdp7)" stroke-width="0.67"/><path d="M452.9 436.46C507.5 436.46 580.3 513.72 634.9 513.72" stroke="url(#gdp7)" stroke-width="0.58"/><path d="M452.9 434.03C507.5 434.03 580.3 512.65 634.9 512.65" stroke="url(#gdp7)" stroke-width="0.32"/><path d="M452.9 437.72C507.5 437.72 580.3 532.21 634.9 532.21" stroke="url(#gdp8)" stroke-width="0.43"/><path d="M452.9 438.73C507.5 438.73 580.3 532.69 634.9 532.69" stroke="url(#gdp8)" stroke-width="0.64"/><path d="M452.9 439.54C507.5 439.54 580.3 544.19 634.9 544.19" stroke="url(#gdp9)" stroke-width="0.91"/><path d="M452.9 438.17C507.5 438.17 580.3 555.41 634.9 555.41" stroke="url(#gdp9)" stroke-width="0.42"/><path d="M452.9 440.56C507.5 440.56 580.3 582.46 634.9 582.46" stroke="url(#gdp11)" stroke-width="0.41"/><path d="M452.9 441.18C507.5 441.18 580.3 593.73 634.9 593.73" stroke="url(#gdp12)" stroke-width="0.76"/><path d="M452.9 440.18C507.5 440.18 580.3 611.64 634.9 611.64" stroke="url(#gdp13)" stroke-width="0.31"/><path d="M452.9 442.74C507.5 442.74 580.3 611.97 634.9 611.97" stroke="url(#gdp13)" stroke-width="0.31"/><path d="M452.9 443.13C507.5 443.13 580.3 612.36 634.9 612.36" stroke="url(#gdp13)" stroke-width="0.44"/><path d="M452.9 445.11C507.5 445.11 580.3 630.62 634.9 630.62" stroke="url(#gdp15)" stroke-width="0.49"/><path d="M452.9 444.31C507.5 444.31 580.3 629.92 634.9 629.92" stroke="url(#gdp15)" stroke-width="0.3"/><path d="M452.9 444.66C507.5 444.66 580.3 630.23 634.9 630.23" stroke="url(#gdp15)" stroke-width="0.38"/><path d="M452.9 443.91C507.5 443.91 580.3 637.72 634.9 637.72" stroke="url(#gdp15)" stroke-width="0.46"/><path d="M452.9 442.08C507.5 442.08 580.3 649.15 634.9 649.15" stroke="url(#gdp16)" stroke-width="0.95"/><path d="M452.9 445.99C507.5 445.99 580.3 656.76 634.9 656.76" stroke="url(#gdp17)" stroke-width="0.4"/><path d="M452.9 445.57C507.5 445.57 580.3 656.48 634.9 656.48" stroke="url(#gdp17)" stroke-width="0.39"/><path d="M452.9 443.52C507.5 443.52 580.3 656.24 634.9 656.24" stroke="url(#gdp17)" stroke-width="0.3"/><path d="M452.9 452.63C507.5 452.63 580.3 398.74 634.9 398.74" stroke="url(#gdp1)" stroke-width="0.44"/><path d="M452.9 454.36C507.5 454.36 580.3 415.54 634.9 415.54" stroke="url(#gdp2)" stroke-width="0.37"/><path d="M452.9 455.01C507.5 455.01 580.3 423.36 634.9 423.36" stroke="url(#gdp2)" stroke-width="0.87"/><path d="M452.9 453.08C507.5 453.08 580.3 433.02 634.9 433.02" stroke="url(#gdp2)" stroke-width="0.41"/><path d="M452.9 453.73C507.5 453.73 580.3 455.74 634.9 455.74" stroke="url(#gdp3)" stroke-width="0.83"/><path d="M452.9 455.67C507.5 455.67 580.3 464.05 634.9 464.05" stroke="url(#gdp3)" stroke-width="0.38"/><path d="M452.9 456.02C507.5 456.02 580.3 488.85 634.9 488.85" stroke="url(#gdp5)" stroke-width="0.3"/><path d="M452.9 456.9C507.5 456.9 580.3 504.42 634.9 504.42" stroke="url(#gdp6)" stroke-width="0.56"/><path d="M452.9 456.39C507.5 456.39 580.3 514.22 634.9 514.22" stroke="url(#gdp7)" stroke-width="0.42"/><path d="M452.9 457.45C507.5 457.45 580.3 555.91 634.9 555.91" stroke="url(#gdp9)" stroke-width="0.48"/><path d="M452.9 458.17C507.5 458.17 580.3 613.12 634.9 613.12" stroke="url(#gdp13)" stroke-width="0.88"/><path d="M452.9 459.21C507.5 459.21 580.3 631.04 634.9 631.04" stroke="url(#gdp15)" stroke-width="0.37"/><path d="M452.9 458.82C507.5 458.82 580.3 657.05 634.9 657.05" stroke="url(#gdp17)" stroke-width="0.36"/><path d="M452.9 470.28C507.5 470.28 580.3 389.81 634.9 389.81" stroke="url(#gdp1)" stroke-width="0.34"/><path d="M452.9 470.95C507.5 470.95 580.3 399.17 634.9 399.17" stroke="url(#gdp1)" stroke-width="0.93"/><path d="M452.9 472.13C507.5 472.13 580.3 410.88 634.9 410.88" stroke="url(#gdp2)" stroke-width="0.66"/><path d="M452.9 471.61C507.5 471.61 580.3 415.97 634.9 415.97" stroke="url(#gdp2)" stroke-width="0.33"/><path d="M452.9 473.94C507.5 473.94 580.3 424.19 634.9 424.19" stroke="url(#gdp2)" stroke-width="0.66"/><path d="M452.9 472.76C507.5 472.76 580.3 433.53 634.9 433.53" stroke="url(#gdp2)" stroke-width="0.54"/><path d="M452.9 473.32C507.5 473.32 580.3 434.08 634.9 434.08" stroke="url(#gdp2)" stroke-width="0.52"/><path d="M452.9 474.64C507.5 474.64 580.3 448.28 634.9 448.28" stroke="url(#gdp3)" stroke-width="0.68"/><path d="M452.9 475.47C507.5 475.47 580.3 456.07 634.9 456.07" stroke="url(#gdp3)" stroke-width="0.36"/><path d="M452.9 475.14C507.5 475.14 580.3 459.27 634.9 459.27" stroke="url(#gdp3)" stroke-width="0.3"/><path d="M452.9 476.12C507.5 476.12 580.3 467.95 634.9 467.95" stroke="url(#gdp3)" stroke-width="0.3"/><path d="M452.9 476.54C507.5 476.54 580.3 476.15 634.9 476.15" stroke="url(#gdp3)" stroke-width="0.59"/><path d="M452.9 475.83C507.5 475.83 580.3 498.9 634.9 498.9" stroke="url(#gdp6)" stroke-width="0.33"/><path d="M452.9 477.82C507.5 477.82 580.3 504.96 634.9 504.96" stroke="url(#gdp6)" stroke-width="0.56"/><path d="M452.9 478.25C507.5 478.25 580.3 505.34 634.9 505.34" stroke="url(#gdp6)" stroke-width="0.3"/><path d="M452.9 477.19C507.5 477.19 580.3 514.75 634.9 514.75" stroke="url(#gdp7)" stroke-width="0.63"/><path d="M452.9 478.87C507.5 478.87 580.3 533.4 634.9 533.4" stroke="url(#gdp8)" stroke-width="0.91"/><path d="M452.9 479.55C507.5 479.55 580.3 556.38 634.9 556.38" stroke="url(#gdp9)" stroke-width="0.38"/><path d="M452.9 480.48C507.5 480.48 580.3 614.4 634.9 614.4" stroke="url(#gdp13)" stroke-width="0.41"/><path d="M452.9 480C507.5 480 580.3 613.91 634.9 613.91" stroke="url(#gdp13)" stroke-width="0.49"/><path d="M452.9 481.65C507.5 481.65 580.3 631.44 634.9 631.44" stroke="url(#gdp15)" stroke-width="0.46"/><path d="M452.9 481.05C507.5 481.05 580.3 638.52 634.9 638.52" stroke="url(#gdp15)" stroke-width="0.68"/><path d="M452.9 482.09C507.5 482.09 580.3 657.34 634.9 657.34" stroke="url(#gdp17)" stroke-width="0.39"/><path d="M452.9 488.39C507.5 488.39 580.3 390.27 634.9 390.27" stroke="url(#gdp1)" stroke-width="0.75"/><path d="M452.9 489.1C507.5 489.1 580.3 399.63 634.9 399.63" stroke="url(#gdp1)" stroke-width="0.59"/><path d="M452.9 492.34C507.5 492.34 580.3 416.64 634.9 416.64" stroke="url(#gdp2)" stroke-width="0.43"/><path d="M452.9 489.52C507.5 489.52 580.3 416.28 634.9 416.28" stroke="url(#gdp2)" stroke-width="0.3"/><path d="M452.9 489.88C507.5 489.88 580.3 424.77 634.9 424.77" stroke="url(#gdp2)" stroke-width="0.48"/><path d="M452.9 491.9C507.5 491.9 580.3 435.48 634.9 435.48" stroke="url(#gdp2)" stroke-width="0.41"/><path d="M452.9 490.63C507.5 490.63 580.3 434.81 634.9 434.81" stroke="url(#gdp2)" stroke-width="0.94"/><path d="M452.9 491.41C507.5 491.41 580.3 448.5 634.9 448.5" stroke="url(#gdp3)" stroke-width="0.53"/><path d="M452.9 492.83C507.5 492.83 580.3 456.28 634.9 456.28" stroke="url(#gdp3)" stroke-width="0.49"/><path d="M452.9 493.21C507.5 493.21 580.3 459.84 634.9 459.84" stroke="url(#gdp3)" stroke-width="0.3"/><path d="M452.9 493.75C507.5 493.75 580.3 468.38 634.9 468.38" stroke="url(#gdp3)" stroke-width="0.77"/><path d="M452.9 494.34C507.5 494.34 580.3 472.97 634.9 472.97" stroke="url(#gdp3)" stroke-width="0.36"/><path d="M452.9 495.4C507.5 495.4 580.3 489.33 634.9 489.33" stroke="url(#gdp5)" stroke-width="0.66"/><path d="M452.9 495.93C507.5 495.93 580.3 505.61 634.9 505.61" stroke="url(#gdp6)" stroke-width="0.34"/><path d="M452.9 496.24C507.5 496.24 580.3 505.86 634.9 505.86" stroke="url(#gdp6)" stroke-width="0.3"/><path d="M452.9 494.79C507.5 494.79 580.3 515.29 634.9 515.29" stroke="url(#gdp7)" stroke-width="0.5"/><path d="M452.9 497.44C507.5 497.44 580.3 533.94 634.9 533.94" stroke="url(#gdp8)" stroke-width="0.3"/><path d="M452.9 496.83C507.5 496.83 580.3 545.04 634.9 545.04" stroke="url(#gdp9)" stroke-width="0.9"/><path d="M452.9 498.47C507.5 498.47 580.3 594.35 634.9 594.35" stroke="url(#gdp12)" stroke-width="0.35"/><path d="M452.9 497.93C507.5 497.93 580.3 614.96 634.9 614.96" stroke="url(#gdp13)" stroke-width="0.67"/><path d="M452.9 498.81C507.5 498.81 580.3 631.79 634.9 631.79" stroke="url(#gdp15)" stroke-width="0.3"/><path d="M452.9 499.18C507.5 499.18 580.3 632.1 634.9 632.1" stroke="url(#gdp15)" stroke-width="0.41"/><path d="M452.9 500.45C507.5 500.45 580.3 649.57 634.9 649.57" stroke="url(#gdp16)" stroke-width="0.48"/><path d="M452.9 499.8C507.5 499.8 580.3 657.74 634.9 657.74" stroke="url(#gdp17)" stroke-width="0.76"/><path d="M452.9 521.35C507.5 521.35 580.3 390.84 634.9 390.84" stroke="url(#gdn1)" stroke-width="0.55"/><path d="M452.9 523.25C507.5 523.25 580.3 411.32 634.9 411.32" stroke="url(#gdn2)" stroke-width="0.47"/><path d="M452.9 520.88C507.5 520.88 580.3 417.09 634.9 417.09" stroke="url(#gdn2)" stroke-width="0.34"/><path d="M452.9 522.83C507.5 522.83 580.3 425.54 634.9 425.54" stroke="url(#gdn2)" stroke-width="0.32"/><path d="M452.9 522.49C507.5 522.49 580.3 425.19 634.9 425.19" stroke="url(#gdn2)" stroke-width="0.34"/><path d="M452.9 521.85C507.5 521.85 580.3 435.89 634.9 435.89" stroke="url(#gdn2)" stroke-width="0.4"/><path d="M452.9 522.19C507.5 522.19 580.3 445.05 634.9 445.05" stroke="url(#gdn3)" stroke-width="0.3"/><path d="M452.9 523.74C507.5 523.74 580.3 489.9 634.9 489.9" stroke="url(#gdn5)" stroke-width="0.47"/><path d="M452.9 524.73C507.5 524.73 580.3 490.48 634.9 490.48" stroke="url(#gdn5)" stroke-width="0.63"/><path d="M452.9 524.19C507.5 524.19 580.3 506.15 634.9 506.15" stroke="url(#gdn6)" stroke-width="0.39"/><path d="M452.9 526.53C507.5 526.53 580.3 516.91 634.9 516.91" stroke="url(#gdn7)" stroke-width="0.4"/><path d="M452.9 525.39C507.5 525.39 580.3 515.82 634.9 515.82" stroke="url(#gdn7)" stroke-width="0.61"/><path d="M452.9 526.02C507.5 526.02 580.3 516.42 634.9 516.42" stroke="url(#gdn7)" stroke-width="0.58"/><path d="M452.9 527.27C507.5 527.27 580.3 534.2 634.9 534.2" stroke="url(#gdn8)" stroke-width="0.31"/><path d="M452.9 532.36C507.5 532.36 580.3 548.19 634.9 548.19" stroke="url(#gdn9)" stroke-width="0.3"/><path d="M452.9 530.95C507.5 530.95 580.3 547.9 634.9 547.9" stroke="url(#gdn9)" stroke-width="0.37"/><path d="M452.9 526.92C507.5 526.92 580.3 545.63 634.9 545.63" stroke="url(#gdn9)" stroke-width="0.35"/><path d="M452.9 530.51C507.5 530.51 580.3 547.48 634.9 547.48" stroke="url(#gdn9)" stroke-width="0.47"/><path d="M452.9 529.1C507.5 529.1 580.3 556.73 634.9 556.73" stroke="url(#gdn9)" stroke-width="0.3"/><path d="M452.9 531.55C507.5 531.55 580.3 557.3 634.9 557.3" stroke="url(#gdn9)" stroke-width="0.77"/><path d="M452.9 532.84C507.5 532.84 580.3 558.08 634.9 558.08" stroke="url(#gdn9)" stroke-width="0.7"/><path d="M452.9 533.71C507.5 533.71 580.3 583.48 634.9 583.48" stroke="url(#gdn11)" stroke-width="0.45"/><path d="M452.9 532.1C507.5 532.1 580.3 582.95 634.9 582.95" stroke="url(#gdn11)" stroke-width="0.3"/><path d="M452.9 534.98C507.5 534.98 580.3 596 634.9 596" stroke="url(#gdn12)" stroke-width="0.37"/><path d="M452.9 533.34C507.5 533.34 580.3 594.69 634.9 594.69" stroke="url(#gdn12)" stroke-width="0.3"/><path d="M452.9 534.61C507.5 534.61 580.3 595.59 634.9 595.59" stroke="url(#gdn12)" stroke-width="0.32"/><path d="M452.9 534.2C507.5 534.2 580.3 595.12 634.9 595.12" stroke="url(#gdn12)" stroke-width="0.48"/><path d="M452.9 535.3C507.5 535.3 580.3 632.4 634.9 632.4" stroke="url(#gdn15)" stroke-width="0.3"/><path d="M452.9 536.31C507.5 536.31 580.3 639.52 634.9 639.52" stroke="url(#gdn15)" stroke-width="0.71"/><path d="M452.9 535.69C507.5 535.69 580.3 658.18 634.9 658.18" stroke="url(#gdn17)" stroke-width="0.48"/><path d="M452.9 536.84C507.5 536.84 580.3 658.47 634.9 658.47" stroke="url(#gdn17)" stroke-width="0.3"/><path d="M452.9 546.56C507.5 546.56 580.3 417.56 634.9 417.56" stroke="url(#gdn2)" stroke-width="0.49"/><path d="M452.9 547.02C507.5 547.02 580.3 436.29 634.9 436.29" stroke="url(#gdn2)" stroke-width="0.39"/><path d="M452.9 547.51C507.5 547.51 580.3 491.06 634.9 491.06" stroke="url(#gdn5)" stroke-width="0.54"/><path d="M452.9 548.05C507.5 548.05 580.3 517.32 634.9 517.32" stroke="url(#gdn7)" stroke-width="0.49"/><path d="M452.9 549.55C507.5 549.55 580.3 527.73 634.9 527.73" stroke="url(#gdn8)" stroke-width="0.66"/><path d="M452.9 549C507.5 549 580.3 548.46 634.9 548.46" stroke="url(#gdn9)" stroke-width="0.38"/><path d="M452.9 548.55C507.5 548.55 580.3 558.67 634.9 558.67" stroke="url(#gdn9)" stroke-width="0.46"/><path d="M452.9 550.45C507.5 550.45 580.3 584.12 634.9 584.12" stroke="url(#gdn11)" stroke-width="0.49"/><path d="M452.9 550.04C507.5 550.04 580.3 596.37 634.9 596.37" stroke="url(#gdn12)" stroke-width="0.3"/><path d="M452.9 550.93C507.5 550.93 580.3 632.71 634.9 632.71" stroke="url(#gdn15)" stroke-width="0.43"/><path d="M452.9 551.73C507.5 551.73 580.3 658.94 634.9 658.94" stroke="url(#gdn17)" stroke-width="1.09"/><path d="M452.9 568.7C507.5 568.7 580.3 399.91 634.9 399.91" stroke="url(#gdn1)" stroke-width="0.38"/><path d="M452.9 569.08C507.5 569.08 580.3 425.87 634.9 425.87" stroke="url(#gdn2)" stroke-width="0.34"/><path d="M452.9 569.68C507.5 569.68 580.3 452.01 634.9 452.01" stroke="url(#gdn3)" stroke-width="0.81"/><path d="M452.9 570.77C507.5 570.77 580.3 506.57 634.9 506.57" stroke="url(#gdn6)" stroke-width="0.57"/><path d="M452.9 570.29C507.5 570.29 580.3 517.69 634.9 517.69" stroke="url(#gdn7)" stroke-width="0.34"/><path d="M452.9 572.07C507.5 572.07 580.3 548.87 634.9 548.87" stroke="url(#gdn9)" stroke-width="0.52"/><path d="M452.9 573.4C507.5 573.4 580.3 559.95 634.9 559.95" stroke="url(#gdn9)" stroke-width="0.83"/><path d="M452.9 571.43C507.5 571.43 580.3 559.22 634.9 559.22" stroke="url(#gdn9)" stroke-width="0.69"/><path d="M452.9 572.65C507.5 572.65 580.3 596.83 634.9 596.83" stroke="url(#gdn12)" stroke-width="0.59"/><path d="M452.9 574.06C507.5 574.06 580.3 597.37 634.9 597.37" stroke="url(#gdn12)" stroke-width="0.42"/><path d="M452.9 574.39C507.5 574.39 580.3 649.76 634.9 649.76" stroke="url(#gdn16)" stroke-width="0.3"/><path d="M452.9 587.19C507.5 587.19 580.3 400.19 634.9 400.19" stroke="url(#gdn1)" stroke-width="0.54"/><path d="M452.9 587.96C507.5 587.96 580.3 426.5 634.9 426.5" stroke="url(#gdn2)" stroke-width="0.94"/><path d="M452.9 588.77C507.5 588.77 580.3 436.78 634.9 436.78" stroke="url(#gdn2)" stroke-width="0.6"/><path d="M452.9 589.23C507.5 589.23 580.3 464.37 634.9 464.37" stroke="url(#gdn3)" stroke-width="0.3"/><path d="M452.9 589.62C507.5 589.62 580.3 491.53 634.9 491.53" stroke="url(#gdn5)" stroke-width="0.44"/><path d="M452.9 590.59C507.5 590.59 580.3 518.52 634.9 518.52" stroke="url(#gdn7)" stroke-width="0.39"/><path d="M452.9 590.12C507.5 590.12 580.3 518.09 634.9 518.09" stroke="url(#gdn7)" stroke-width="0.51"/><path d="M452.9 591.73C507.5 591.73 580.3 549.95 634.9 549.95" stroke="url(#gdn9)" stroke-width="0.72"/><path d="M452.9 591.08C507.5 591.08 580.3 549.35 634.9 549.35" stroke="url(#gdn9)" stroke-width="0.53"/><path d="M452.9 592.82C507.5 592.82 580.3 560.78 634.9 560.78" stroke="url(#gdn9)" stroke-width="0.3"/><path d="M452.9 592.28C507.5 592.28 580.3 560.52 634.9 560.52" stroke="url(#gdn9)" stroke-width="0.33"/><path d="M452.9 593.22C507.5 593.22 580.3 584.81 634.9 584.81" stroke="url(#gdn11)" stroke-width="0.56"/><path d="M452.9 593.68C507.5 593.68 580.3 597.77 634.9 597.77" stroke="url(#gdn12)" stroke-width="0.32"/><path d="M452.9 594.52C507.5 594.52 580.3 598.19 634.9 598.19" stroke="url(#gdn12)" stroke-width="0.42"/><path d="M452.9 594.08C507.5 594.08 580.3 633.08 634.9 633.08" stroke="url(#gdn15)" stroke-width="0.42"/><path d="M452.9 595.02C507.5 595.02 580.3 659.49 634.9 659.49" stroke="url(#gdn17)" stroke-width="0.53"/><path d="M452.9 613.39C507.5 613.39 580.3 391.27 634.9 391.27" stroke="url(#gdn1)" stroke-width="0.36"/><path d="M452.9 614.09C507.5 614.09 580.3 427.17 634.9 427.17" stroke="url(#gdn2)" stroke-width="0.33"/><path d="M452.9 613.74C507.5 613.74 580.3 437.27 634.9 437.27" stroke="url(#gdn2)" stroke-width="0.32"/><path d="M452.9 614.57C507.5 614.57 580.3 492.1 634.9 492.1" stroke="url(#gdn5)" stroke-width="0.57"/><path d="M452.9 616.06C507.5 616.06 580.3 519.45 634.9 519.45" stroke="url(#gdn7)" stroke-width="1.31"/><path d="M452.9 615.12C507.5 615.12 580.3 528.18 634.9 528.18" stroke="url(#gdn8)" stroke-width="0.48"/><path d="M452.9 616.94C507.5 616.94 580.3 550.5 634.9 550.5" stroke="url(#gdn9)" stroke-width="0.36"/><path d="M452.9 617.45C507.5 617.45 580.3 561.24 634.9 561.24" stroke="url(#gdn9)" stroke-width="0.6"/><path d="M452.9 617.9C507.5 617.9 580.3 561.75 634.9 561.75" stroke="url(#gdn9)" stroke-width="0.3"/><path d="M452.9 618.39C507.5 618.39 580.3 598.9 634.9 598.9" stroke="url(#gdn12)" stroke-width="0.69"/><path d="M452.9 618.96C507.5 618.96 580.3 599.63 634.9 599.63" stroke="url(#gdn12)" stroke-width="0.4"/><path d="M452.9 619.28C507.5 619.28 580.3 640.22 634.9 640.22" stroke="url(#gdn15)" stroke-width="0.3"/><path d="M452.9 645.37C507.5 645.37 580.3 391.58 634.9 391.58" stroke="url(#gdn1)" stroke-width="0.3"/><path d="M452.9 644.47C507.5 644.47 580.3 400.52 634.9 400.52" stroke="url(#gdn1)" stroke-width="0.5"/><path d="M452.9 645.68C507.5 645.68 580.3 418.06 634.9 418.06" stroke="url(#gdn2)" stroke-width="0.35"/><path d="M452.9 646.01C507.5 646.01 580.3 427.53 634.9 427.53" stroke="url(#gdn2)" stroke-width="0.3"/><path d="M452.9 646.52C507.5 646.52 580.3 428.1 634.9 428.1" stroke="url(#gdn2)" stroke-width="0.69"/><path d="M452.9 644.98C507.5 644.98 580.3 437.75 634.9 437.75" stroke="url(#gdn2)" stroke-width="0.48"/><path d="M452.9 647.18C507.5 647.18 580.3 438.37 634.9 438.37" stroke="url(#gdn2)" stroke-width="0.57"/><path d="M452.9 649.37C507.5 649.37 580.3 484.49 634.9 484.49" stroke="url(#gdn4)" stroke-width="0.38"/><path d="M452.9 647.96C507.5 647.96 580.3 492.97 634.9 492.97" stroke="url(#gdn5)" stroke-width="0.91"/><path d="M452.9 648.64C507.5 648.64 580.3 507.01 634.9 507.01" stroke="url(#gdn6)" stroke-width="0.38"/><path d="M452.9 650.45C507.5 650.45 580.3 521.47 634.9 521.47" stroke="url(#gdn7)" stroke-width="0.3"/><path d="M452.9 650.91C507.5 650.91 580.3 521.95 634.9 521.95" stroke="url(#gdn7)" stroke-width="0.64"/><path d="M452.9 649.95C507.5 649.95 580.3 520.94 634.9 520.94" stroke="url(#gdn7)" stroke-width="0.73"/><path d="M452.9 649C507.5 649 580.3 520.37 634.9 520.37" stroke="url(#gdn7)" stroke-width="0.31"/><path d="M452.9 651.82C507.5 651.82 580.3 535.38 634.9 535.38" stroke="url(#gdn8)" stroke-width="0.3"/><path d="M452.9 653.53C507.5 653.53 580.3 552.01 634.9 552.01" stroke="url(#gdn9)" stroke-width="0.67"/><path d="M452.9 651.47C507.5 651.47 580.3 550.94 634.9 550.94" stroke="url(#gdn9)" stroke-width="0.43"/><path d="M452.9 654.08C507.5 654.08 580.3 552.59 634.9 552.59" stroke="url(#gdn9)" stroke-width="0.38"/><path d="M452.9 652.6C507.5 652.6 580.3 551.41 634.9 551.41" stroke="url(#gdn9)" stroke-width="0.41"/><path d="M452.9 655.1C507.5 655.1 580.3 563.05 634.9 563.05" stroke="url(#gdn9)" stroke-width="0.43"/><path d="M452.9 652.16C507.5 652.16 580.3 562.15 634.9 562.15" stroke="url(#gdn9)" stroke-width="0.42"/><path d="M452.9 652.99C507.5 652.99 580.3 562.59 634.9 562.59" stroke="url(#gdn9)" stroke-width="0.34"/><path d="M452.9 655.6C507.5 655.6 580.3 585.61 634.9 585.61" stroke="url(#gdn11)" stroke-width="0.53"/><path d="M452.9 656.11C507.5 656.11 580.3 586.36 634.9 586.36" stroke="url(#gdn11)" stroke-width="0.43"/><path d="M452.9 657.14C507.5 657.14 580.3 601.64 634.9 601.64" stroke="url(#gdn12)" stroke-width="0.54"/><path d="M452.9 657.79C507.5 657.79 580.3 602.45 634.9 602.45" stroke="url(#gdn12)" stroke-width="0.69"/><path d="M452.9 656.59C507.5 656.59 580.3 600.96 634.9 600.96" stroke="url(#gdn12)" stroke-width="0.49"/><path d="M452.9 654.58C507.5 654.58 580.3 600.27 634.9 600.27" stroke="url(#gdn12)" stroke-width="0.56"/><path d="M452.9 658.33C507.5 658.33 580.3 633.45 634.9 633.45" stroke="url(#gdn15)" stroke-width="0.35"/><path d="M452.9 658.9C507.5 658.9 580.3 634.02 634.9 634.02" stroke="url(#gdn15)" stroke-width="0.72"/><path d="M452.9 660.68C507.5 660.68 580.3 649.96 634.9 649.96" stroke="url(#gdn16)" stroke-width="0.41"/><path d="M452.9 659.53C507.5 659.53 580.3 659.87 634.9 659.87" stroke="url(#gdn17)" stroke-width="0.48"/><path d="M452.9 592.59C507.5 592.59 580.3 571.8 634.9 571.8" stroke="url(#gdn11)" stroke-width="0.3"/></g><rect x="449.3" y="389.1" width="3.4" height="3.9" fill="#2e2ef6" stroke="#1c1c8c" stroke-width="0.45"/><text x="393.7" y="395.6" font-size="9" font-weight="bold" fill="#111">WF</text><text x="422.4" y="394.9" font-size="8.2" font-weight="bold" fill="#111">1.5</text><rect x="449.3" y="398.2" width="3.4" height="11.5" fill="#2e2ef6" stroke="#1c1c8c" stroke-width="0.45"/><text x="393.7" y="412.8" font-size="9" font-weight="bold" fill="#111">EF</text><text x="422.4" y="412.1" font-size="8.2" font-weight="bold" fill="#111">4.0</text><rect x="449.3" y="417.8" width="3.4" height="28.2" fill="#2e2ef6" stroke="#1c1c8c" stroke-width="0.45"/><text x="393.7" y="438.6" font-size="9" font-weight="bold" fill="#111">CF</text><text x="422.4" y="437.9" font-size="8.2" font-weight="bold" fill="#111">9.4</text><rect x="449.3" y="452.6" width="3.4" height="6.6" fill="#2e2ef6" stroke="#1c1c8c" stroke-width="0.45"/><text x="393.7" y="461.7" font-size="9" font-weight="bold" fill="#111">MF</text><text x="422.4" y="461" font-size="8.2" font-weight="bold" fill="#111">2.2</text><rect x="449.3" y="470.3" width="3.4" height="11.8" fill="#2e2ef6" stroke="#1c1c8c" stroke-width="0.45"/><text x="393.7" y="481.6" font-size="9" font-weight="bold" fill="#111">NF</text><text x="422.4" y="480.9" font-size="8.2" font-weight="bold" fill="#111">4.1</text><rect x="449.3" y="488.2" width="3.4" height="12.3" fill="#2e2ef6" stroke="#1c1c8c" stroke-width="0.45"/><text x="393.7" y="500" font-size="9" font-weight="bold" fill="#111">LF</text><text x="422.4" y="499.3" font-size="8.2" font-weight="bold" fill="#111">4.2</text><rect x="449.3" y="520.9" width="3.4" height="15.9" fill="#fa2e2e" stroke="#9a1c1c" stroke-width="0.45"/><text x="393.7" y="535.8" font-size="9" font-weight="bold" fill="#111">WF</text><text x="422.4" y="535.1" font-size="8.2" font-weight="bold" fill="#111">5.2</text><rect x="449.3" y="546.5" width="3.4" height="5.6" fill="#fa2e2e" stroke="#9a1c1c" stroke-width="0.45"/><text x="393.7" y="555.9" font-size="9" font-weight="bold" fill="#111">EF</text><text x="422.4" y="555.2" font-size="8.2" font-weight="bold" fill="#111">2.0</text><rect x="449.3" y="568.7" width="3.4" height="5.6" fill="#fa2e2e" stroke="#9a1c1c" stroke-width="0.45"/><text x="393.7" y="579.3" font-size="9" font-weight="bold" fill="#111">CF</text><text x="422.4" y="578.6" font-size="8.2" font-weight="bold" fill="#111">2.0</text><rect x="449.3" y="587.1" width="3.4" height="8" fill="#fa2e2e" stroke="#9a1c1c" stroke-width="0.45"/><text x="393.7" y="598.8" font-size="9" font-weight="bold" fill="#111">MF</text><text x="422.4" y="598.1" font-size="8.2" font-weight="bold" fill="#111">2.7</text><rect x="449.3" y="613.4" width="3.4" height="5.8" fill="#fa2e2e" stroke="#9a1c1c" stroke-width="0.45"/><text x="393.7" y="624.2" font-size="9" font-weight="bold" fill="#111">NF</text><text x="422.4" y="623.5" font-size="8.2" font-weight="bold" fill="#111">2.0</text><rect x="449.3" y="644.4" width="3.4" height="16.3" fill="#fa2e2e" stroke="#9a1c1c" stroke-width="0.45"/><text x="393.7" y="660" font-size="9" font-weight="bold" fill="#111">LF</text><text x="422.4" y="659.3" font-size="8.2" font-weight="bold" fill="#111">5.6</text><rect x="635.15" y="386.65" width="3.1" height="4.8" rx="0.4" fill="#ea2030" stroke="#80111a" stroke-width="0.5"/><text x="639" y="390.77" font-size="4.3" font-weight="bold" fill="#111" textLength="17.3" lengthAdjust="spacingAndGlyphs" stroke="#111" stroke-width="0.12">Target1.1</text><rect x="635.15" y="395.85" width="3.1" height="4.6" rx="0.4" fill="#ea2030" stroke="#80111a" stroke-width="0.5"/><text x="639" y="399.87" font-size="4.3" font-weight="bold" fill="#111" textLength="17.3" lengthAdjust="spacingAndGlyphs" stroke="#111" stroke-width="0.12">Target1.a</text><rect x="634.9" y="410.3" width="3.6" height="1.2" fill="#9a762a"/><text x="639" y="412.26" font-size="3.4" font-weight="bold" fill="#111" textLength="14.2" lengthAdjust="spacingAndGlyphs">Target2.1</text><rect x="635.15" y="413.45" width="3.1" height="4.6" rx="0.4" fill="#dcaa3c" stroke="#795d21" stroke-width="0.5"/><text x="639" y="417.47" font-size="4.3" font-weight="bold" fill="#111" textLength="17.3" lengthAdjust="spacingAndGlyphs" stroke="#111" stroke-width="0.12">Target2.2</text><rect x="635.15" y="420.05" width="3.1" height="8.2" rx="0.4" fill="#dcaa3c" stroke="#795d21" stroke-width="0.5"/><text x="639" y="425.87" font-size="4.3" font-weight="bold" fill="#111" textLength="17.3" lengthAdjust="spacingAndGlyphs" stroke="#111" stroke-width="0.12">Target2.3</text><rect x="635.15" y="429.95" width="3.1" height="8.5" rx="0.4" fill="#dcaa3c" stroke="#795d21" stroke-width="0.5"/><text x="639" y="435.92" font-size="4.3" font-weight="bold" fill="#111" textLength="17.3" lengthAdjust="spacingAndGlyphs" stroke="#111" stroke-width="0.12">Target2.4</text><rect x="634.9" y="444.3" width="3.6" height="0.9" fill="#2a894b"/><text x="639" y="446.11" font-size="3.4" font-weight="bold" fill="#111" textLength="14.2" lengthAdjust="spacingAndGlyphs">Target3.2</text><rect x="634.9" y="447.8" width="3.6" height="0.8" fill="#2a894b"/><text x="639" y="449.56" font-size="3.4" font-weight="bold" fill="#111" textLength="14.2" lengthAdjust="spacingAndGlyphs">Target3.3</text><rect x="635.15" y="451.05" width="3.1" height="1.2" rx="0.4" fill="#3cc46c" stroke="#216b3b" stroke-width="0.5"/><text x="639" y="453.01" font-size="3.4" font-weight="bold" fill="#111" textLength="14.2" lengthAdjust="spacingAndGlyphs">Target3.4</text><rect x="635.15" y="454.85" width="3.1" height="1.3" rx="0.4" fill="#3cc46c" stroke="#216b3b" stroke-width="0.5"/><text x="639" y="456.86" font-size="3.4" font-weight="bold" fill="#111" textLength="14.2" lengthAdjust="spacingAndGlyphs">Target3.5</text><rect x="635.15" y="458.45" width="3.1" height="1.4" rx="0.4" fill="#3cc46c" stroke="#216b3b" stroke-width="0.5"/><text x="639" y="460.51" font-size="3.4" font-weight="bold" fill="#111" textLength="14.2" lengthAdjust="spacingAndGlyphs">Target3.6</text><rect x="635.15" y="463.15" width="3.1" height="1.1" rx="0.4" fill="#3cc46c" stroke="#216b3b" stroke-width="0.5"/><text x="639" y="465.06" font-size="3.4" font-weight="bold" fill="#111" textLength="14.2" lengthAdjust="spacingAndGlyphs">Target3.7</text><rect x="635.15" y="467.45" width="3.1" height="1" rx="0.4" fill="#3cc46c" stroke="#216b3b" stroke-width="0.5"/><text x="639" y="469.31" font-size="3.4" font-weight="bold" fill="#111" textLength="14.2" lengthAdjust="spacingAndGlyphs">Target3.8</text><rect x="635.15" y="471.55" width="3.1" height="1.4" rx="0.4" fill="#3cc46c" stroke="#216b3b" stroke-width="0.5"/><text x="639" y="473.61" font-size="3.4" font-weight="bold" fill="#111" textLength="14.2" lengthAdjust="spacingAndGlyphs">Target3.9</text><rect x="634.9" y="475.6" width="3.6" height="0.8" fill="#2a894b"/><text x="639" y="477.31" font-size="3.4" font-weight="bold" fill="#111" textLength="14.2" lengthAdjust="spacingAndGlyphs">Target3.b</text><rect x="634.9" y="483.9" width="3.6" height="0.8" fill="#971c2a"/><text x="639" y="485.61" font-size="3.4" font-weight="bold" fill="#111" textLength="14.2" lengthAdjust="spacingAndGlyphs">Target4.5</text><rect x="635.15" y="488.05" width="3.1" height="5.2" rx="0.4" fill="#f0582a" stroke="#843017" stroke-width="0.5"/><text x="639" y="492.37" font-size="4.3" font-weight="bold" fill="#111" textLength="17.3" lengthAdjust="spacingAndGlyphs" stroke="#111" stroke-width="0.12">Target5.5</text><rect x="634.9" y="498.5" width="3.6" height="0.8" fill="#1e80a5"/><text x="639" y="500.26" font-size="3.4" font-weight="bold" fill="#111" textLength="14.2" lengthAdjust="spacingAndGlyphs">Target6.2</text><rect x="635.15" y="500.65" width="3.1" height="6.3" rx="0.4" fill="#2cb8ec" stroke="#186581" stroke-width="0.5"/><text x="639" y="505.52" font-size="4.3" font-weight="bold" fill="#111" textLength="17.3" lengthAdjust="spacingAndGlyphs" stroke="#111" stroke-width="0.12">Target6.4</text><rect x="635.15" y="511.85" width="3.1" height="10.2" rx="0.4" fill="#f6c81c" stroke="#876e0f" stroke-width="0.5"/><text x="639" y="518.67" font-size="4.3" font-weight="bold" fill="#111" textLength="17.3" lengthAdjust="spacingAndGlyphs" stroke="#111" stroke-width="0.12">Target7.2</text><rect x="634.9" y="527.5" width="3.6" height="0.9" fill="#7d1c2c"/><text x="639" y="529.31" font-size="3.4" font-weight="bold" fill="#111" textLength="14.2" lengthAdjust="spacingAndGlyphs">Target8.1</text><rect x="635.15" y="531.75" width="3.1" height="3.5" rx="0.4" fill="#b42840" stroke="#631623" stroke-width="0.5"/><text x="639" y="535.22" font-size="4.3" font-weight="bold" fill="#111" textLength="17.3" lengthAdjust="spacingAndGlyphs" stroke="#111" stroke-width="0.12">Target8.2</text><rect x="635.15" y="543.45" width="3.1" height="9.1" rx="0.4" fill="#f47c2c" stroke="#864418" stroke-width="0.5"/><text x="639" y="549.72" font-size="4.3" font-weight="bold" fill="#111" textLength="17.3" lengthAdjust="spacingAndGlyphs" stroke="#111" stroke-width="0.12">Target9.4</text><rect x="635.15" y="555.45" width="3.1" height="7.6" rx="0.4" fill="#f47c2c" stroke="#864418" stroke-width="0.5"/><text x="639" y="560.97" font-size="4.3" font-weight="bold" fill="#111" textLength="17.3" lengthAdjust="spacingAndGlyphs" stroke="#111" stroke-width="0.12">Target9.5</text><rect x="634.9" y="571.4" width="3.6" height="0.8" fill="#ac7532"/><text x="639" y="573.16" font-size="3.4" font-weight="bold" fill="#111" textLength="15.1" lengthAdjust="spacingAndGlyphs">Target11.1</text><rect x="635.15" y="581.65" width="3.1" height="4.8" rx="0.4" fill="#f6a848" stroke="#875c27" stroke-width="0.5"/><text x="639" y="585.77" font-size="4.3" font-weight="bold" fill="#111" textLength="18.1" lengthAdjust="spacingAndGlyphs" stroke="#111" stroke-width="0.12">Target11.6</text><rect x="635.15" y="593.55" width="3.1" height="9.1" rx="0.4" fill="#d6a230" stroke="#75591a" stroke-width="0.5"/><text x="639" y="599.82" font-size="4.3" font-weight="bold" fill="#111" textLength="18.1" lengthAdjust="spacingAndGlyphs" stroke="#111" stroke-width="0.12">Target12.4</text><rect x="635.15" y="610.75" width="3.1" height="4.3" rx="0.4" fill="#3a803e" stroke="#1f4622" stroke-width="0.5"/><text x="639" y="614.62" font-size="4.3" font-weight="bold" fill="#111" textLength="18.1" lengthAdjust="spacingAndGlyphs" stroke="#111" stroke-width="0.12">Target13.2</text><rect x="635.15" y="628.75" width="3.1" height="5.4" rx="0.4" fill="#30d030" stroke="#1a721a" stroke-width="0.5"/><text x="639" y="633.17" font-size="4.3" font-weight="bold" fill="#111" textLength="18.1" lengthAdjust="spacingAndGlyphs" stroke="#111" stroke-width="0.12">Target15.1</text><rect x="635.15" y="637.65" width="3.1" height="2.5" rx="0.4" fill="#30d030" stroke="#1a721a" stroke-width="0.5"/><text x="639" y="640.62" font-size="4.3" font-weight="bold" fill="#111" textLength="18.1" lengthAdjust="spacingAndGlyphs" stroke="#111" stroke-width="0.12">Target15.5</text><rect x="635.15" y="648.65" width="3.1" height="1.2" rx="0.4" fill="#2e56b4" stroke="#192f63" stroke-width="0.5"/><text x="639" y="650.61" font-size="3.4" font-weight="bold" fill="#111" textLength="15.1" lengthAdjust="spacingAndGlyphs">Target16.1</text><rect x="635.15" y="655.45" width="3.1" height="4.9" rx="0.4" fill="#2a5080" stroke="#172c46" stroke-width="0.5"/><text x="639" y="659.62" font-size="4.3" font-weight="bold" fill="#111" textLength="18.1" lengthAdjust="spacingAndGlyphs" stroke="#111" stroke-width="0.12">Target17.8</text><g transform="translate(661.2 389.1)"><rect width="9.3" height="9.3" fill="#E5243B"/><rect x="0.9" y="0.9" width="0.7" height="1.6" fill="#fff" opacity="0.85"/><rect x="2.2" y="1.1" width="3.6" height="0.45" fill="#fff" opacity="0.6"/><rect x="2.2" y="1.9" width="2.6" height="0.4" fill="#fff" opacity="0.5"/><g fill="#fff"><rect x="1.9" y="5.2" width="0.9" height="2.3"/><rect x="3.2" y="4.9" width="0.9" height="2.6"/><rect x="4.5" y="5.4" width="0.8" height="2.1"/><rect x="5.7" y="4.9" width="0.9" height="2.6"/><rect x="6.9" y="5.3" width="0.8" height="2.2"/><rect x="1.9" y="6.4" width="5.8" height="0.7"/></g></g><g transform="translate(661.2 420.4)"><rect width="9.3" height="9.3" fill="#DDA63A"/><rect x="0.9" y="0.9" width="0.7" height="1.6" fill="#fff" opacity="0.85"/><rect x="2.2" y="1.1" width="3.6" height="0.45" fill="#fff" opacity="0.6"/><rect x="2.2" y="1.9" width="2.6" height="0.4" fill="#fff" opacity="0.5"/><g fill="#fff"><path d="M2.2 5.6h5a2.5 2.1 0 0 1-5 0z"/><rect x="3.2" y="4.1" width="0.5" height="1"/><rect x="4.5" y="3.9" width="0.5" height="1.2"/><rect x="5.7" y="4.1" width="0.5" height="1"/><rect x="3.6" y="7.8" width="2.2" height="0.5"/></g></g><g transform="translate(661.2 454.9)"><rect width="9.3" height="9.3" fill="#4C9F38"/><rect x="0.9" y="0.9" width="0.7" height="1.6" fill="#fff" opacity="0.85"/><rect x="2.2" y="1.1" width="3.6" height="0.45" fill="#fff" opacity="0.6"/><rect x="2.2" y="1.9" width="2.6" height="0.4" fill="#fff" opacity="0.5"/><path d="M1.6 6.1h1.8l0.8-1.6 1 2.6 0.9-2.2 0.6 1.2h1.2" fill="none" stroke="#fff" stroke-width="0.6"/><path d="M3.4 4.4l2.5 0" stroke="#fff" stroke-width="0.4" opacity="0.6"/></g><g transform="translate(661.2 475.3)"><rect width="9.3" height="9.3" fill="#C5192D"/><rect x="0.9" y="0.9" width="0.7" height="1.6" fill="#fff" opacity="0.85"/><rect x="2.2" y="1.1" width="3.6" height="0.45" fill="#fff" opacity="0.6"/><rect x="2.2" y="1.9" width="2.6" height="0.4" fill="#fff" opacity="0.5"/><path d="M2.4 4.6l2.3 0.7 2.3-0.7v3.1l-2.3 0.7-2.3-0.7z" fill="#fff"/><rect x="4.55" y="5.3" width="0.3" height="3" fill="#c5192d" opacity="0.6"/></g><g transform="translate(661.2 486.9)"><rect width="9.3" height="9.3" fill="#FF3A21"/><rect x="0.9" y="0.9" width="0.7" height="1.6" fill="#fff" opacity="0.85"/><rect x="2.2" y="1.1" width="3.6" height="0.45" fill="#fff" opacity="0.6"/><rect x="2.2" y="1.9" width="2.6" height="0.4" fill="#fff" opacity="0.5"/><g fill="none" stroke="#fff" stroke-width="0.55"><circle cx="4.4" cy="5.2" r="1.2"/><path d="M4.4 6.4v1.9M3.5 7.4h1.8M5.3 4.3l1.6-1.3"/></g></g><g transform="translate(661.2 498.2)"><rect width="9.3" height="9.3" fill="#26BDE2"/><rect x="0.9" y="0.9" width="0.7" height="1.6" fill="#fff" opacity="0.85"/><rect x="2.2" y="1.1" width="3.6" height="0.45" fill="#fff" opacity="0.6"/><rect x="2.2" y="1.9" width="2.6" height="0.4" fill="#fff" opacity="0.5"/><path d="M3 4.2h3.4l-0.5 4h-2.4z" fill="#fff"/><path d="M4.7 4.9c-0.6 0.8-0.9 1.2-0.9 1.6a0.9 0.9 0 0 0 1.8 0c0-0.4-0.3-0.8-0.9-1.6z" fill="#26BDE2"/></g><g transform="translate(661.2 512.3)"><rect width="9.3" height="9.3" fill="#FCC30B"/><rect x="0.9" y="0.9" width="0.7" height="1.6" fill="#fff" opacity="0.85"/><rect x="2.2" y="1.1" width="3.6" height="0.45" fill="#fff" opacity="0.6"/><rect x="2.2" y="1.9" width="2.6" height="0.4" fill="#fff" opacity="0.5"/><g fill="#fff"><circle cx="4.65" cy="5.9" r="1.5"/></g><g stroke="#fff" stroke-width="0.4"><path d="M4.65 3.7v0.6M4.65 7.5v0.6M2.45 5.9h0.6M6.25 5.9h0.6M3.1 4.35l0.4 0.4M6.2 4.35l-0.4 0.4M3.1 7.45l0.4-0.4M6.2 7.45l-0.4-0.4"/></g><circle cx="4.65" cy="5.9" r="0.6" fill="#FCC30B"/></g><g transform="translate(661.2 527.1)"><rect width="9.3" height="9.3" fill="#A21942"/><rect x="0.9" y="0.9" width="0.7" height="1.6" fill="#fff" opacity="0.85"/><rect x="2.2" y="1.1" width="3.6" height="0.45" fill="#fff" opacity="0.6"/><rect x="2.2" y="1.9" width="2.6" height="0.4" fill="#fff" opacity="0.5"/><g fill="#fff"><rect x="2.4" y="6.3" width="1.1" height="1.8"/><rect x="3.9" y="5.4" width="1.1" height="2.7"/><rect x="5.4" y="4.5" width="1.1" height="3.6"/><path d="M2.2 5.6l2.4-1.5 1.3 0.6 1.6-1.4" fill="none" stroke="#fff" stroke-width="0.45"/></g></g><g transform="translate(661.2 549)"><rect width="9.3" height="9.3" fill="#FD6925"/><rect x="0.9" y="0.9" width="0.7" height="1.6" fill="#fff" opacity="0.85"/><rect x="2.2" y="1.1" width="3.6" height="0.45" fill="#fff" opacity="0.6"/><rect x="2.2" y="1.9" width="2.6" height="0.4" fill="#fff" opacity="0.5"/><g fill="#fff"><rect x="3.7" y="3.9" width="1.9" height="1.9"/><rect x="2.6" y="6" width="1.9" height="1.9"/><rect x="4.8" y="6" width="1.9" height="1.9"/></g></g><g transform="translate(661.2 573.2)"><rect width="9.3" height="9.3" fill="#FD9D24"/><rect x="0.9" y="0.9" width="0.7" height="1.6" fill="#fff" opacity="0.85"/><rect x="2.2" y="1.1" width="3.6" height="0.45" fill="#fff" opacity="0.6"/><rect x="2.2" y="1.9" width="2.6" height="0.4" fill="#fff" opacity="0.5"/><g fill="#fff"><rect x="2" y="6.2" width="1.3" height="1.9"/><rect x="3.6" y="4.2" width="1.1" height="3.9"/><rect x="5" y="5.3" width="1.1" height="2.8"/><rect x="6.3" y="6.5" width="1.1" height="1.6"/><rect x="1.8" y="7.8" width="5.8" height="0.5"/></g></g><g transform="translate(661.2 593.3)"><rect width="9.3" height="9.3" fill="#BF8B2E"/><rect x="0.9" y="0.9" width="0.7" height="1.6" fill="#fff" opacity="0.85"/><rect x="2.2" y="1.1" width="3.6" height="0.45" fill="#fff" opacity="0.6"/><rect x="2.2" y="1.9" width="2.6" height="0.4" fill="#fff" opacity="0.5"/><g fill="none" stroke="#fff" stroke-width="0.6"><circle cx="3.5" cy="6.2" r="1.1"/><circle cx="5.8" cy="6.2" r="1.1"/></g><rect x="2.4" y="3.9" width="4.6" height="0.5" fill="#fff" opacity="0.7"/></g><g transform="translate(661.2 609.4)"><rect width="9.3" height="9.3" fill="#3F7E44"/><rect x="0.9" y="0.9" width="0.7" height="1.6" fill="#fff" opacity="0.85"/><rect x="2.2" y="1.1" width="3.6" height="0.45" fill="#fff" opacity="0.6"/><rect x="2.2" y="1.9" width="2.6" height="0.4" fill="#fff" opacity="0.5"/><path d="M1.3 6.1q3.35-3.2 6.7 0q-3.35 3.2-6.7 0z" fill="#fff"/><circle cx="4.65" cy="6.1" r="1.15" fill="#3F7E44"/><circle cx="4.65" cy="6.1" r="0.55" fill="#fff"/></g><g transform="translate(661.2 629.1)"><rect width="9.3" height="9.3" fill="#56C02B"/><rect x="0.9" y="0.9" width="0.7" height="1.6" fill="#fff" opacity="0.85"/><rect x="2.2" y="1.1" width="3.6" height="0.45" fill="#fff" opacity="0.6"/><rect x="2.2" y="1.9" width="2.6" height="0.4" fill="#fff" opacity="0.5"/><g fill="#fff"><path d="M4.65 4.3l1.3 2.2h-2.6z"/><rect x="4.4" y="6.4" width="0.5" height="1.1"/><rect x="2.6" y="7.5" width="4.2" height="0.5"/><path d="M2.4 4.4l0.6 0.3 0.6-0.3" fill="none" stroke="#fff" stroke-width="0.3"/></g></g><g transform="translate(661.2 643.1)"><rect width="9.3" height="9.3" fill="#00689D"/><rect x="0.9" y="0.9" width="0.7" height="1.6" fill="#fff" opacity="0.85"/><rect x="2.2" y="1.1" width="3.6" height="0.45" fill="#fff" opacity="0.6"/><rect x="2.2" y="1.9" width="2.6" height="0.4" fill="#fff" opacity="0.5"/><g fill="#fff"><path d="M2.8 4.3l2.4 1.6 1.6-1.2-0.6 1.9-1.3 0.5z"/><path d="M3.2 7.8l2.6-1.8" stroke="#fff" stroke-width="0.7"/><rect x="5.4" y="7.5" width="1.6" height="0.5"/></g></g><g transform="translate(661.2 654.6)"><rect width="9.3" height="9.3" fill="#19486A"/><rect x="0.9" y="0.9" width="0.7" height="1.6" fill="#fff" opacity="0.85"/><rect x="2.2" y="1.1" width="3.6" height="0.45" fill="#fff" opacity="0.6"/><rect x="2.2" y="1.9" width="2.6" height="0.4" fill="#fff" opacity="0.5"/><g fill="none" stroke="#fff" stroke-width="0.45"><circle cx="4.65" cy="6" r="1.9"/><circle cx="4.65" cy="6" r="0.8"/><path d="M4.65 4.1v3.8M2.75 6h3.8M3.3 4.65l2.7 2.7M6 4.65l-2.7 2.7"/></g></g>
</svg></body></html>
